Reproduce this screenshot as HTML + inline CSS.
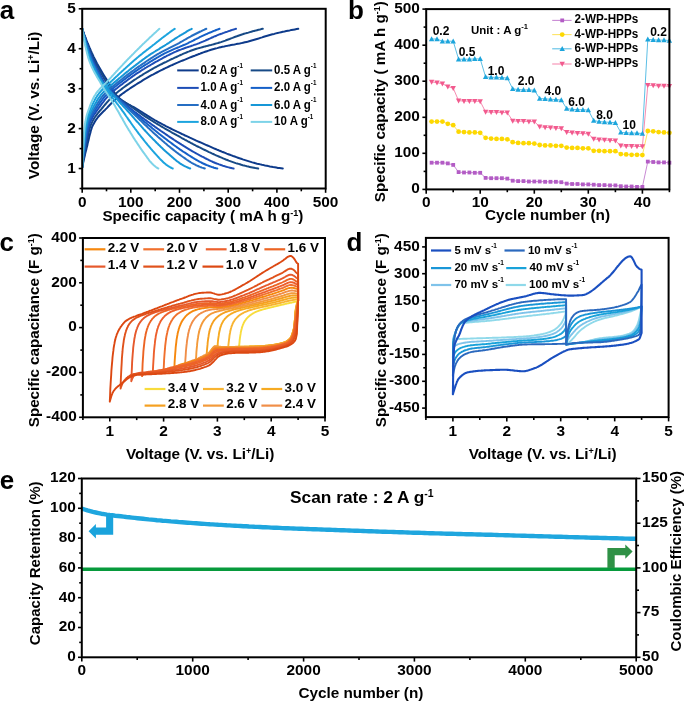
<!DOCTYPE html>
<html><head><meta charset="utf-8"><style>
html,body{margin:0;padding:0;background:#fff;}
svg{display:block;will-change:transform;}
text{font-family:"Liberation Sans",sans-serif;font-weight:bold;fill:#000;}
</style></head><body>
<svg width="685" height="702" viewBox="0 0 685 702">
<rect width="685" height="702" fill="#fff"/>
<defs>
<clipPath id="clipA"><rect x="82.15" y="8.8" width="243.5" height="179.7"/></clipPath>
<clipPath id="clipC"><rect x="82.9" y="238.0" width="242.1" height="179.3"/></clipPath>
<clipPath id="clipD"><rect x="425.9" y="237.9" width="242.7" height="179.2"/></clipPath>
<clipPath id="clipE"><rect x="81.8" y="478.5" width="554.4" height="178.8"/></clipPath>
</defs>
<g clip-path="url(#clipA)">
<path d="M82.2 167.3 82.5 165.6 82.9 163.9 83.3 162.2 83.6 160.6 84 158.9 84.4 157.3 84.8 155.7 85.1 154.1 85.5 152.5 85.9 151 86.3 149.5 86.6 148 87 146.5 87.4 144.9 87.7 143.3 88.1 141.8 88.5 140.2 88.9 138.6 89.2 137.1 89.6 135.6 90 134.1 90.4 132.7 90.7 131.3 91.1 130 91.5 128.8 91.8 127.7 92.2 126.7 92.6 125.8 93 125 94.7 121.9 96.4 119.3 98.1 117 99.9 115 101.6 113.2 103.3 111.5 105 109.9 106.8 108.1 108.5 106.3 110.2 104.5 111.9 102.8 113.7 101.1 115.4 99.5 117.1 98 118.8 96.5 120.6 95.1 122.3 93.8 124 92.6 125.8 91.3 127.5 90.1 129.2 89 130.9 87.8 132.7 86.7 134.4 85.6 136.1 84.5 137.8 83.4 139.6 82.3 141.3 81.3 143 80.2 144.7 79.2 146.5 78.2 148.2 77.2 149.9 76.2 151.6 75.2 153.4 74.3 155.1 73.4 156.8 72.5 158.5 71.6 160.3 70.7 162 69.8 163.7 69 165.4 68.2 167.2 67.3 168.9 66.5 170.6 65.7 172.3 65 174.1 64.2 175.8 63.4 177.5 62.7 179.3 61.9 181 61.2 182.7 60.5 184.4 59.8 186.2 59.1 187.9 58.4 189.6 57.7 191.3 57 193.1 56.3 194.8 55.7 196.5 55 198.2 54.3 200 53.7 201.7 53 203.4 52.4 205.1 51.8 206.9 51.2 208.6 50.6 210.3 50 212 49.5 213.8 49 215.5 48.5 217.2 48.1 218.9 47.6 220.7 47.2 222.4 46.8 224.1 46.5 225.8 46.1 227.6 45.8 229.3 45.4 231 45.1 232.8 44.8 234.5 44.5 236.2 44.1 237.9 43.8 239.7 43.5 241.4 43.1 243.1 42.7 244.8 42.3 246.6 41.9 248.3 41.5 250 41 251.7 40.5 253.5 40 255.2 39.5 256.9 39 258.6 38.5 260.4 37.9 262.1 37.4 263.8 36.8 265.5 36.3 267.3 35.8 269 35.3 270.7 34.8 272.4 34.3 274.2 33.9 275.9 33.4 277.6 33 279.3 32.6 281.1 32.2 282.8 31.8 284.5 31.5 286.3 31.1 288 30.7 289.7 30.4 291.4 30 293.2 29.7 294.9 29.4 296.6 29.1 298.3 28.8" fill="none" stroke="#0e3b8b" stroke-width="2.0" stroke-linejoin="round" stroke-linecap="round"/>
<path d="M82.2 28.8 82.5 29.7 82.8 30.6 83.2 31.6 83.5 32.5 83.9 33.4 84.2 34.3 84.6 35.3 84.9 36.2 85.3 37.1 85.6 38 86 38.8 86.3 39.7 86.6 40.6 87 41.5 87.3 42.3 87.7 43.2 88 44 88.4 44.9 88.7 45.7 89.1 46.5 89.4 47.3 89.8 48.2 90.1 49 90.5 49.8 90.8 50.6 91.1 51.3 91.5 52.1 91.8 52.9 92.2 53.6 93.8 57.1 95.4 60.3 97 63.4 98.6 66.3 100.2 69.1 101.8 71.8 103.4 74.4 105 77 106.6 79.6 108.2 82.1 109.8 84.8 111.4 87.6 113 90.3 114.6 92.9 116.2 95.1 117.8 96.8 119.4 98.2 121 99.5 122.6 100.7 124.2 101.8 125.8 102.8 127.4 103.8 129 104.7 130.6 105.5 132.2 106.4 133.8 107.2 135.4 108.1 137 109 138.6 110 140.2 111 141.8 112 143.4 113.1 145 114.1 146.6 115.1 148.2 116.1 149.8 117.1 151.4 118.1 153 119 154.6 120 156.2 120.9 157.8 121.8 159.4 122.7 161 123.5 162.6 124.4 164.2 125.2 165.8 126.1 167.4 126.9 169 127.7 170.7 128.5 172.3 129.3 173.9 130.1 175.5 130.9 177.1 131.7 178.7 132.4 180.3 133.2 181.9 134 183.5 134.7 185.1 135.5 186.7 136.2 188.3 136.9 189.9 137.7 191.5 138.4 193.1 139.1 194.7 139.8 196.3 140.6 197.9 141.3 199.5 142 201.1 142.7 202.7 143.4 204.3 144.1 205.9 144.8 207.5 145.5 209.1 146.2 210.7 146.9 212.3 147.6 213.9 148.3 215.5 149 217.1 149.7 218.7 150.3 220.3 151 221.9 151.7 223.5 152.3 225.1 152.9 226.7 153.6 228.3 154.2 229.9 154.8 231.5 155.4 233.1 156 234.7 156.5 236.3 157.1 237.9 157.7 239.5 158.3 241.1 158.8 242.7 159.4 244.3 159.9 245.9 160.4 247.5 160.9 249.1 161.4 250.7 161.9 252.3 162.4 253.9 162.8 255.5 163.3 257.1 163.7 258.7 164 260.3 164.4 261.9 164.8 263.5 165.1 265.1 165.5 266.7 165.8 268.3 166.1 269.9 166.5 271.5 166.8 273.1 167.1 274.7 167.3 276.3 167.6 277.9 167.9 279.5 168.1 281.2 168.3 282.8 168.5" fill="none" stroke="#0e3b8b" stroke-width="2.0" stroke-linejoin="round" stroke-linecap="round"/>
<path d="M82.2 167.3 82.5 165.5 82.8 163.6 83.1 161.8 83.4 160 83.7 158.2 84 156.5 84.3 154.7 84.6 153.1 85 151.4 85.3 149.8 85.6 148.2 85.9 146.6 86.2 145 86.5 143.4 86.8 141.8 87.1 140.2 87.4 138.6 87.8 137.1 88.1 135.6 88.4 134.1 88.7 132.7 89 131.4 89.3 130.1 89.6 128.9 89.9 127.8 90.2 126.7 90.6 125.7 90.9 124.9 91.2 124.1 92.6 121.1 94.1 118.5 95.5 116.3 97 114.3 98.4 112.5 99.8 110.8 101.3 109.2 102.7 107.5 104.2 105.7 105.6 104 107 102.3 108.5 100.7 109.9 99.1 111.4 97.6 112.8 96.3 114.3 94.9 115.7 93.7 117.1 92.5 118.6 91.3 120 90.2 121.5 89.1 122.9 88 124.3 87 125.8 85.9 127.2 84.9 128.7 83.9 130.1 82.9 131.6 81.9 133 80.9 134.4 79.9 135.9 79 137.3 78 138.8 77.1 140.2 76.2 141.7 75.3 143.1 74.4 144.5 73.5 146 72.6 147.4 71.8 148.9 71 150.3 70.1 151.7 69.3 153.2 68.5 154.6 67.7 156.1 67 157.5 66.2 159 65.4 160.4 64.7 161.8 64 163.3 63.2 164.7 62.5 166.2 61.8 167.6 61.1 169.1 60.4 170.5 59.7 171.9 59 173.4 58.4 174.8 57.7 176.3 57 177.7 56.3 179.1 55.7 180.6 55 182 54.4 183.5 53.7 184.9 53.1 186.4 52.5 187.8 51.9 189.2 51.4 190.7 50.8 192.1 50.3 193.6 49.8 195 49.3 196.5 48.8 197.9 48.4 199.3 48 200.8 47.6 202.2 47.2 203.7 46.8 205.1 46.4 206.5 46.1 208 45.7 209.4 45.3 210.9 45 212.3 44.6 213.8 44.2 215.2 43.8 216.6 43.4 218.1 43 219.5 42.5 221 42.1 222.4 41.6 223.9 41.1 225.3 40.6 226.7 40 228.2 39.5 229.6 39 231.1 38.4 232.5 37.9 233.9 37.3 235.4 36.8 236.8 36.3 238.3 35.7 239.7 35.2 241.2 34.7 242.6 34.3 244 33.8 245.5 33.4 246.9 33 248.4 32.6 249.8 32.1 251.3 31.7 252.7 31.3 254.1 30.9 255.6 30.6 257 30.2 258.5 29.8 259.9 29.5 261.3 29.1 262.8 28.8" fill="none" stroke="#174a86" stroke-width="2.0" stroke-linejoin="round" stroke-linecap="round"/>
<path d="M82.2 28.8 82.5 29.7 82.8 30.6 83.1 31.5 83.4 32.4 83.7 33.3 84 34.2 84.3 35.1 84.6 35.9 84.9 36.8 85.2 37.7 85.5 38.5 85.8 39.4 86.1 40.2 86.4 41.1 86.7 41.9 87 42.8 87.3 43.6 87.6 44.4 87.9 45.2 88.2 46 88.5 46.8 88.8 47.6 89.1 48.4 89.4 49.2 89.7 49.9 90 50.7 90.3 51.4 90.6 52.2 91 52.9 92.4 56.2 93.8 59.4 95.2 62.3 96.6 65.1 98 67.8 99.4 70.3 100.8 72.8 102.2 75.2 103.6 77.7 105 80.1 106.4 82.6 107.8 85.1 109.2 87.6 110.6 89.9 112 92 113.4 93.6 114.8 95 116.2 96.3 117.6 97.4 119.1 98.5 120.5 99.5 121.9 100.5 123.3 101.4 124.7 102.3 126.1 103.2 127.5 104.1 128.9 105 130.3 105.9 131.7 106.9 133.1 107.9 134.5 108.9 135.9 109.9 137.3 110.9 138.7 111.9 140.1 112.9 141.5 113.9 142.9 114.9 144.3 115.8 145.8 116.8 147.2 117.7 148.6 118.6 150 119.5 151.4 120.4 152.8 121.2 154.2 122.1 155.6 123 157 123.8 158.4 124.7 159.8 125.5 161.2 126.3 162.6 127.2 164 128 165.4 128.8 166.8 129.6 168.2 130.4 169.6 131.2 171 132 172.4 132.8 173.9 133.6 175.3 134.4 176.7 135.2 178.1 135.9 179.5 136.7 180.9 137.5 182.3 138.3 183.7 139 185.1 139.8 186.5 140.5 187.9 141.3 189.3 142 190.7 142.8 192.1 143.5 193.5 144.3 194.9 145 196.3 145.8 197.7 146.5 199.1 147.2 200.6 147.9 202 148.6 203.4 149.3 204.8 150 206.2 150.7 207.6 151.4 209 152.1 210.4 152.7 211.8 153.4 213.2 154 214.6 154.7 216 155.3 217.4 155.9 218.8 156.5 220.2 157.1 221.6 157.7 223 158.3 224.4 158.9 225.8 159.5 227.3 160 228.7 160.6 230.1 161.1 231.5 161.6 232.9 162.1 234.3 162.6 235.7 163.1 237.1 163.5 238.5 163.9 239.9 164.3 241.3 164.8 242.7 165.2 244.1 165.5 245.5 165.9 246.9 166.3 248.3 166.6 249.7 166.9 251.1 167.2 252.5 167.5 253.9 167.8 255.4 168.1 256.8 168.3 258.2 168.5" fill="none" stroke="#174a86" stroke-width="2.0" stroke-linejoin="round" stroke-linecap="round"/>
<path d="M82.2 167.3 82.4 165.3 82.7 163.3 82.9 161.3 83.2 159.4 83.5 157.5 83.7 155.6 84 153.8 84.3 152.1 84.5 150.3 84.8 148.6 85.1 146.9 85.3 145.2 85.6 143.5 85.9 141.9 86.1 140.2 86.4 138.6 86.7 137 86.9 135.5 87.2 134 87.5 132.6 87.7 131.3 88 130.1 88.3 128.9 88.5 127.8 88.8 126.7 89 125.7 89.3 124.8 89.6 123.9 89.8 123.2 91.1 120.2 92.3 117.7 93.5 115.5 94.8 113.6 96 111.9 97.2 110.2 98.4 108.5 99.7 106.8 100.9 105.1 102.1 103.4 103.4 101.8 104.6 100.2 105.8 98.7 107 97.3 108.3 96 109.5 94.8 110.7 93.6 112 92.4 113.2 91.3 114.4 90.3 115.6 89.2 116.9 88.2 118.1 87.2 119.3 86.3 120.6 85.3 121.8 84.4 123 83.4 124.2 82.5 125.5 81.6 126.7 80.7 127.9 79.8 129.1 78.9 130.4 78 131.6 77.1 132.8 76.2 134.1 75.4 135.3 74.5 136.5 73.7 137.7 72.9 139 72.1 140.2 71.3 141.4 70.5 142.7 69.7 143.9 69 145.1 68.2 146.3 67.5 147.6 66.7 148.8 66 150 65.3 151.3 64.5 152.5 63.8 153.7 63.1 154.9 62.4 156.2 61.7 157.4 61.1 158.6 60.4 159.9 59.7 161.1 59 162.3 58.4 163.5 57.7 164.8 57 166 56.4 167.2 55.7 168.5 55.1 169.7 54.5 170.9 53.9 172.1 53.3 173.4 52.7 174.6 52.1 175.8 51.6 177.1 51 178.3 50.5 179.5 50 180.7 49.6 182 49.1 183.2 48.7 184.4 48.3 185.7 47.8 186.9 47.4 188.1 47 189.3 46.6 190.6 46.2 191.8 45.8 193 45.4 194.2 44.9 195.5 44.5 196.7 44.1 197.9 43.6 199.2 43.2 200.4 42.7 201.6 42.2 202.8 41.7 204.1 41.1 205.3 40.6 206.5 40 207.8 39.5 209 38.9 210.2 38.4 211.4 37.8 212.7 37.3 213.9 36.7 215.1 36.2 216.4 35.7 217.6 35.2 218.8 34.7 220 34.2 221.3 33.8 222.5 33.3 223.7 32.9 225 32.4 226.2 32 227.4 31.6 228.6 31.1 229.9 30.7 231.1 30.3 232.3 29.9 233.6 29.5 234.8 29.1 236 28.8" fill="none" stroke="#1d4db6" stroke-width="2.0" stroke-linejoin="round" stroke-linecap="round"/>
<path d="M82.2 28.8 82.4 29.6 82.7 30.5 82.9 31.4 83.2 32.3 83.5 33.1 83.7 34 84 34.9 84.2 35.7 84.5 36.6 84.8 37.4 85 38.2 85.3 39.1 85.5 39.9 85.8 40.7 86.1 41.5 86.3 42.3 86.6 43.1 86.8 43.9 87.1 44.7 87.4 45.5 87.6 46.3 87.9 47 88.2 47.8 88.4 48.6 88.7 49.3 88.9 50 89.2 50.8 89.5 51.5 89.7 52.2 90.9 55.4 92.1 58.5 93.3 61.3 94.6 64 95.8 66.5 97 68.9 98.2 71.2 99.4 73.5 100.6 75.7 101.8 78 103 80.3 104.2 82.6 105.4 84.9 106.6 87 107.9 88.9 109.1 90.4 110.3 91.8 111.5 93 112.7 94.1 113.9 95.2 115.1 96.2 116.3 97.2 117.5 98.1 118.7 99.1 119.9 100 121.2 100.9 122.4 101.8 123.6 102.8 124.8 103.7 126 104.7 127.2 105.7 128.4 106.7 129.6 107.7 130.8 108.7 132 109.7 133.2 110.7 134.4 111.7 135.7 112.6 136.9 113.6 138.1 114.5 139.3 115.4 140.5 116.3 141.7 117.2 142.9 118.1 144.1 119 145.3 119.9 146.5 120.7 147.7 121.6 149 122.5 150.2 123.3 151.4 124.2 152.6 125.1 153.8 125.9 155 126.8 156.2 127.6 157.4 128.5 158.6 129.3 159.8 130.2 161 131 162.3 131.8 163.5 132.7 164.7 133.5 165.9 134.3 167.1 135.1 168.3 136 169.5 136.8 170.7 137.6 171.9 138.4 173.1 139.2 174.3 140 175.6 140.8 176.8 141.6 178 142.3 179.2 143.1 180.4 143.9 181.6 144.7 182.8 145.4 184 146.2 185.2 146.9 186.4 147.7 187.6 148.4 188.8 149.1 190.1 149.9 191.3 150.6 192.5 151.3 193.7 152 194.9 152.7 196.1 153.3 197.3 154 198.5 154.7 199.7 155.3 200.9 156 202.1 156.6 203.4 157.2 204.6 157.9 205.8 158.5 207 159.1 208.2 159.7 209.4 160.3 210.6 160.9 211.8 161.4 213 162 214.2 162.5 215.4 163 216.7 163.5 217.9 163.9 219.1 164.4 220.3 164.8 221.5 165.2 222.7 165.7 223.9 166 225.1 166.4 226.3 166.8 227.5 167.1 228.7 167.4 229.9 167.7 231.2 168 232.4 168.3 233.6 168.5" fill="none" stroke="#1d4db6" stroke-width="2.0" stroke-linejoin="round" stroke-linecap="round"/>
<path d="M82.2 167.3 82.4 165.1 82.6 163 82.9 160.9 83.1 158.8 83.3 156.8 83.6 154.8 83.8 152.9 84 151.1 84.3 149.2 84.5 147.4 84.8 145.6 85 143.9 85.2 142.1 85.5 140.4 85.7 138.7 85.9 137 86.2 135.4 86.4 133.9 86.6 132.5 86.9 131.2 87.1 130 87.4 128.8 87.6 127.7 87.8 126.6 88.1 125.6 88.3 124.7 88.5 123.8 88.8 123 89 122.3 90.1 119.4 91.2 116.9 92.3 114.8 93.4 112.9 94.5 111.2 95.6 109.5 96.7 107.8 97.8 106.2 98.9 104.5 100 102.8 101.1 101.3 102.2 99.8 103.3 98.3 104.4 97 105.5 95.7 106.6 94.6 107.6 93.4 108.7 92.4 109.8 91.3 110.9 90.3 112 89.4 113.1 88.4 114.2 87.5 115.3 86.6 116.4 85.7 117.5 84.8 118.6 83.9 119.7 83.1 120.8 82.2 121.9 81.4 123 80.5 124.1 79.7 125.2 78.9 126.3 78 127.4 77.2 128.5 76.4 129.6 75.6 130.7 74.8 131.8 74 132.9 73.2 134 72.4 135.1 71.7 136.1 70.9 137.2 70.2 138.3 69.4 139.4 68.7 140.5 68 141.6 67.3 142.7 66.5 143.8 65.8 144.9 65.1 146 64.4 147.1 63.8 148.2 63.1 149.3 62.4 150.4 61.7 151.5 61 152.6 60.4 153.7 59.7 154.8 59 155.9 58.4 157 57.7 158.1 57.1 159.2 56.4 160.3 55.8 161.4 55.2 162.5 54.6 163.6 54 164.6 53.4 165.7 52.9 166.8 52.3 167.9 51.8 169 51.3 170.1 50.8 171.2 50.3 172.3 49.8 173.4 49.3 174.5 48.9 175.6 48.4 176.7 48 177.8 47.5 178.9 47.1 180 46.6 181.1 46.1 182.2 45.7 183.3 45.2 184.4 44.8 185.5 44.3 186.6 43.8 187.7 43.3 188.8 42.7 189.9 42.2 191 41.7 192.1 41.1 193.1 40.6 194.2 40 195.3 39.4 196.4 38.9 197.5 38.3 198.6 37.8 199.7 37.2 200.8 36.7 201.9 36.1 203 35.6 204.1 35.1 205.2 34.6 206.3 34.1 207.4 33.7 208.5 33.2 209.6 32.7 210.7 32.3 211.8 31.8 212.9 31.3 214 30.9 215.1 30.5 216.2 30 217.3 29.6 218.4 29.2 219.5 28.8" fill="none" stroke="#1560c8" stroke-width="2.0" stroke-linejoin="round" stroke-linecap="round"/>
<path d="M82.2 28.8 82.4 29.6 82.6 30.5 82.8 31.3 83.1 32.2 83.3 33 83.5 33.8 83.8 34.7 84 35.5 84.2 36.3 84.5 37.1 84.7 37.9 84.9 38.7 85.2 39.5 85.4 40.3 85.6 41.1 85.9 41.9 86.1 42.7 86.3 43.4 86.6 44.2 86.8 45 87 45.7 87.3 46.5 87.5 47.2 87.7 47.9 88 48.7 88.2 49.4 88.4 50.1 88.7 50.8 88.9 51.5 90 54.6 91.1 57.5 92.1 60.3 93.2 62.8 94.3 65.2 95.4 67.4 96.5 69.6 97.5 71.7 98.6 73.8 99.7 75.9 100.8 78 101.8 80.1 102.9 82.2 104 84.1 105.1 85.8 106.2 87.3 107.2 88.5 108.3 89.7 109.4 90.9 110.5 91.9 111.6 92.9 112.6 93.9 113.7 94.9 114.8 95.8 115.9 96.8 117 97.7 118 98.7 119.1 99.6 120.2 100.6 121.3 101.6 122.3 102.6 123.4 103.6 124.5 104.6 125.6 105.6 126.7 106.5 127.7 107.5 128.8 108.5 129.9 109.4 131 110.4 132.1 111.3 133.1 112.2 134.2 113.1 135.3 114 136.4 114.9 137.4 115.8 138.5 116.7 139.6 117.6 140.7 118.5 141.8 119.5 142.8 120.4 143.9 121.3 145 122.2 146.1 123.1 147.2 124 148.2 124.9 149.3 125.7 150.4 126.6 151.5 127.5 152.5 128.4 153.6 129.3 154.7 130.2 155.8 131.1 156.9 131.9 157.9 132.8 159 133.7 160.1 134.5 161.2 135.4 162.3 136.2 163.3 137.1 164.4 137.9 165.5 138.7 166.6 139.6 167.6 140.4 168.7 141.2 169.8 142 170.9 142.8 172 143.6 173 144.4 174.1 145.2 175.2 146 176.3 146.8 177.4 147.6 178.4 148.3 179.5 149.1 180.6 149.8 181.7 150.6 182.7 151.3 183.8 152 184.9 152.7 186 153.4 187.1 154.1 188.1 154.8 189.2 155.5 190.3 156.2 191.4 156.9 192.5 157.5 193.5 158.2 194.6 158.8 195.7 159.5 196.8 160.1 197.8 160.7 198.9 161.3 200 161.9 201.1 162.4 202.2 163 203.2 163.5 204.3 164 205.4 164.5 206.5 165 207.6 165.4 208.6 165.8 209.7 166.2 210.8 166.6 211.9 167 213 167.3 214 167.7 215.1 168 216.2 168.3 217.3 168.5" fill="none" stroke="#1560c8" stroke-width="2.0" stroke-linejoin="round" stroke-linecap="round"/>
<path d="M82.2 167.3 82.4 165 82.6 162.7 82.8 160.4 83 158.2 83.2 156.1 83.4 154 83.6 152 83.9 150.1 84.1 148.1 84.3 146.2 84.5 144.3 84.7 142.5 84.9 140.6 85.1 138.8 85.4 137.1 85.6 135.4 85.8 133.8 86 132.3 86.2 130.9 86.4 129.7 86.6 128.6 86.9 127.5 87.1 126.5 87.3 125.5 87.5 124.5 87.7 123.6 87.9 122.8 88.1 122.1 88.4 121.4 89.3 118.6 90.3 116.2 91.3 114.1 92.3 112.3 93.3 110.5 94.3 108.8 95.3 107.2 96.3 105.5 97.3 103.9 98.3 102.3 99.3 100.8 100.3 99.3 101.2 97.9 102.2 96.7 103.2 95.5 104.2 94.4 105.2 93.3 106.2 92.3 107.2 91.3 108.2 90.4 109.2 89.5 110.2 88.6 111.2 87.8 112.1 86.9 113.1 86.1 114.1 85.3 115.1 84.5 116.1 83.7 117.1 82.9 118.1 82.1 119.1 81.3 120.1 80.5 121.1 79.8 122.1 79 123 78.2 124 77.4 125 76.6 126 75.9 127 75.1 128 74.3 129 73.6 130 72.9 131 72.1 132 71.4 133 70.7 134 70 134.9 69.2 135.9 68.5 136.9 67.8 137.9 67.1 138.9 66.4 139.9 65.8 140.9 65.1 141.9 64.4 142.9 63.7 143.9 63.1 144.9 62.4 145.8 61.7 146.8 61 147.8 60.4 148.8 59.7 149.8 59.1 150.8 58.4 151.8 57.8 152.8 57.2 153.8 56.5 154.8 55.9 155.8 55.3 156.8 54.7 157.7 54.1 158.7 53.6 159.7 53 160.7 52.5 161.7 51.9 162.7 51.4 163.7 50.9 164.7 50.4 165.7 49.9 166.7 49.4 167.7 48.9 168.6 48.4 169.6 47.9 170.6 47.4 171.6 46.9 172.6 46.4 173.6 45.9 174.6 45.4 175.6 44.9 176.6 44.4 177.6 43.9 178.6 43.3 179.5 42.8 180.5 42.2 181.5 41.6 182.5 41.1 183.5 40.5 184.5 39.9 185.5 39.4 186.5 38.8 187.5 38.2 188.5 37.7 189.5 37.1 190.5 36.6 191.4 36 192.4 35.5 193.4 35 194.4 34.5 195.4 34 196.4 33.5 197.4 33 198.4 32.5 199.4 32 200.4 31.5 201.4 31.1 202.3 30.6 203.3 30.1 204.3 29.7 205.3 29.2 206.3 28.8" fill="none" stroke="#256ec3" stroke-width="2.0" stroke-linejoin="round" stroke-linecap="round"/>
<path d="M82.2 28.8 82.4 29.6 82.6 30.4 82.8 31.2 83 32 83.2 32.8 83.4 33.7 83.6 34.5 83.8 35.3 84.1 36 84.3 36.8 84.5 37.6 84.7 38.4 84.9 39.2 85.1 39.9 85.3 40.7 85.5 41.5 85.7 42.2 86 43 86.2 43.7 86.4 44.5 86.6 45.2 86.8 45.9 87 46.6 87.2 47.3 87.4 48 87.7 48.7 87.9 49.4 88.1 50.1 88.3 50.8 89.3 53.8 90.2 56.6 91.2 59.2 92.2 61.7 93.2 63.9 94.2 66 95.1 68 96.1 70 97.1 71.9 98.1 73.8 99.1 75.7 100 77.6 101 79.4 102 81.2 103 82.7 104 84.1 104.9 85.3 105.9 86.5 106.9 87.6 107.9 88.6 108.9 89.6 109.8 90.6 110.8 91.6 111.8 92.6 112.8 93.6 113.8 94.5 114.7 95.5 115.7 96.5 116.7 97.5 117.7 98.5 118.7 99.5 119.6 100.4 120.6 101.4 121.6 102.4 122.6 103.4 123.5 104.3 124.5 105.3 125.5 106.2 126.5 107.2 127.5 108.1 128.4 109 129.4 109.9 130.4 110.9 131.4 111.8 132.4 112.7 133.3 113.6 134.3 114.6 135.3 115.5 136.3 116.4 137.3 117.4 138.2 118.3 139.2 119.2 140.2 120.2 141.2 121.1 142.2 122.1 143.1 123 144.1 124 145.1 124.9 146.1 125.8 147.1 126.8 148 127.7 149 128.6 150 129.5 151 130.4 152 131.4 152.9 132.3 153.9 133.2 154.9 134.1 155.9 134.9 156.9 135.8 157.8 136.7 158.8 137.6 159.8 138.4 160.8 139.3 161.7 140.1 162.7 141 163.7 141.8 164.7 142.7 165.7 143.5 166.6 144.3 167.6 145.2 168.6 146 169.6 146.8 170.6 147.6 171.5 148.4 172.5 149.1 173.5 149.9 174.5 150.7 175.5 151.4 176.4 152.2 177.4 152.9 178.4 153.7 179.4 154.4 180.4 155.1 181.3 155.8 182.3 156.5 183.3 157.2 184.3 157.9 185.3 158.6 186.2 159.3 187.2 160 188.2 160.6 189.2 161.3 190.2 161.9 191.1 162.5 192.1 163.1 193.1 163.6 194.1 164.2 195.1 164.7 196 165.2 197 165.6 198 166 199 166.5 200 166.9 200.9 167.2 201.9 167.6 202.9 167.9 203.9 168.2 204.8 168.5" fill="none" stroke="#256ec3" stroke-width="2.0" stroke-linejoin="round" stroke-linecap="round"/>
<path d="M82.2 167.3 82.3 164.8 82.5 162.4 82.7 160 82.9 157.6 83.1 155.3 83.3 153.2 83.5 151.1 83.7 149.1 83.8 147.1 84 145 84.2 143.1 84.4 141.1 84.6 139.2 84.8 137.3 85 135.5 85.2 133.8 85.4 132.2 85.5 130.7 85.7 129.4 85.9 128.2 86.1 127.2 86.3 126.2 86.5 125.2 86.7 124.3 86.9 123.5 87.1 122.6 87.2 121.9 87.4 121.1 87.6 120.5 88.5 117.7 89.4 115.4 90.3 113.4 91.1 111.6 92 109.9 92.9 108.2 93.7 106.5 94.6 104.9 95.5 103.2 96.4 101.7 97.2 100.2 98.1 98.9 99 97.6 99.9 96.3 100.7 95.2 101.6 94.2 102.5 93.2 103.4 92.2 104.2 91.3 105.1 90.4 106 89.6 106.9 88.8 107.7 88 108.6 87.2 109.5 86.5 110.4 85.7 111.2 85 112.1 84.3 113 83.6 113.9 82.8 114.7 82.1 115.6 81.4 116.5 80.6 117.4 79.9 118.2 79.1 119.1 78.4 120 77.7 120.9 76.9 121.7 76.2 122.6 75.5 123.5 74.8 124.4 74 125.2 73.3 126.1 72.6 127 71.9 127.9 71.2 128.7 70.5 129.6 69.8 130.5 69.1 131.4 68.4 132.2 67.8 133.1 67.1 134 66.4 134.9 65.7 135.7 65.1 136.6 64.4 137.5 63.7 138.4 63.1 139.2 62.4 140.1 61.7 141 61.1 141.9 60.4 142.7 59.8 143.6 59.1 144.5 58.5 145.3 57.9 146.2 57.2 147.1 56.6 148 56 148.8 55.4 149.7 54.8 150.6 54.2 151.5 53.7 152.3 53.1 153.2 52.6 154.1 52 155 51.5 155.8 50.9 156.7 50.4 157.6 49.8 158.5 49.3 159.3 48.8 160.2 48.2 161.1 47.7 162 47.2 162.8 46.6 163.7 46.1 164.6 45.6 165.5 45 166.3 44.5 167.2 43.9 168.1 43.3 169 42.8 169.8 42.2 170.7 41.6 171.6 41 172.5 40.4 173.3 39.9 174.2 39.3 175.1 38.7 176 38.1 176.8 37.6 177.7 37 178.6 36.5 179.5 35.9 180.3 35.4 181.2 34.9 182.1 34.3 183 33.8 183.8 33.3 184.7 32.8 185.6 32.3 186.5 31.7 187.3 31.2 188.2 30.7 189.1 30.2 190 29.7 190.8 29.3 191.7 28.8" fill="none" stroke="#1697d7" stroke-width="2.0" stroke-linejoin="round" stroke-linecap="round"/>
<path d="M82.2 28.8 82.3 29.6 82.5 30.3 82.7 31.1 82.9 31.9 83.1 32.7 83.3 33.5 83.5 34.3 83.6 35 83.8 35.8 84 36.6 84.2 37.3 84.4 38.1 84.6 38.8 84.8 39.6 84.9 40.3 85.1 41 85.3 41.8 85.5 42.5 85.7 43.2 85.9 43.9 86.1 44.6 86.3 45.3 86.4 46 86.6 46.7 86.8 47.4 87 48.1 87.2 48.8 87.4 49.4 87.6 50.1 88.4 53 89.3 55.7 90.1 58.2 91 60.5 91.9 62.6 92.7 64.5 93.6 66.4 94.5 68.2 95.3 70 96.2 71.7 97 73.4 97.9 75.1 98.8 76.7 99.6 78.2 100.5 79.7 101.4 80.9 102.2 82.1 103.1 83.2 104 84.3 104.8 85.3 105.7 86.3 106.5 87.3 107.4 88.3 108.3 89.4 109.1 90.4 110 91.4 110.9 92.4 111.7 93.3 112.6 94.3 113.4 95.3 114.3 96.3 115.2 97.3 116 98.3 116.9 99.2 117.8 100.2 118.6 101.1 119.5 102.1 120.3 103 121.2 104 122.1 104.9 122.9 105.8 123.8 106.8 124.7 107.7 125.5 108.6 126.4 109.6 127.2 110.5 128.1 111.5 129 112.4 129.8 113.4 130.7 114.4 131.6 115.4 132.4 116.3 133.3 117.3 134.2 118.3 135 119.3 135.9 120.3 136.7 121.3 137.6 122.2 138.5 123.2 139.3 124.2 140.2 125.2 141.1 126.2 141.9 127.1 142.8 128.1 143.6 129.1 144.5 130 145.4 131 146.2 131.9 147.1 132.8 148 133.8 148.8 134.7 149.7 135.6 150.5 136.5 151.4 137.4 152.3 138.3 153.1 139.2 154 140 154.9 140.9 155.7 141.8 156.6 142.7 157.5 143.5 158.3 144.4 159.2 145.2 160 146.1 160.9 146.9 161.8 147.7 162.6 148.6 163.5 149.4 164.4 150.2 165.2 151 166.1 151.7 166.9 152.5 167.8 153.3 168.7 154.1 169.5 154.8 170.4 155.6 171.3 156.3 172.1 157.1 173 157.8 173.8 158.6 174.7 159.3 175.6 160 176.4 160.7 177.3 161.4 178.2 162 179 162.6 179.9 163.3 180.7 163.8 181.6 164.4 182.5 164.9 183.3 165.4 184.2 165.9 185.1 166.3 185.9 166.7 186.8 167.1 187.7 167.5 188.5 167.9 189.4 168.2 190.2 168.5" fill="none" stroke="#1697d7" stroke-width="2.0" stroke-linejoin="round" stroke-linecap="round"/>
<path d="M82.2 167.3 82.3 164.7 82.5 162.1 82.6 159.5 82.8 157 82.9 154.6 83.1 152.3 83.3 150.2 83.4 148.1 83.6 146 83.7 143.9 83.9 141.8 84.1 139.7 84.2 137.7 84.4 135.8 84.5 134 84.7 132.2 84.9 130.6 85 129.2 85.2 127.9 85.3 126.7 85.5 125.8 85.7 124.9 85.8 124 86 123.2 86.1 122.4 86.3 121.6 86.5 120.9 86.6 120.2 86.8 119.6 87.5 116.9 88.3 114.6 89 112.7 89.7 110.9 90.5 109.2 91.2 107.5 91.9 105.8 92.7 104.2 93.4 102.6 94.2 101.1 94.9 99.7 95.6 98.4 96.4 97.2 97.1 96 97.9 94.9 98.6 94 99.3 93 100.1 92.2 100.8 91.3 101.5 90.5 102.3 89.7 103 89 103.8 88.3 104.5 87.6 105.2 86.9 106 86.2 106.7 85.5 107.5 84.9 108.2 84.2 108.9 83.6 109.7 82.9 110.4 82.2 111.1 81.5 111.9 80.8 112.6 80.1 113.4 79.4 114.1 78.7 114.8 78 115.6 77.3 116.3 76.6 117.1 75.9 117.8 75.2 118.5 74.5 119.3 73.8 120 73.1 120.7 72.5 121.5 71.8 122.2 71.1 123 70.4 123.7 69.7 124.4 69.1 125.2 68.4 125.9 67.7 126.7 67.1 127.4 66.4 128.1 65.7 128.9 65.1 129.6 64.4 130.3 63.7 131.1 63.1 131.8 62.4 132.6 61.8 133.3 61.1 134 60.5 134.8 59.8 135.5 59.2 136.3 58.6 137 57.9 137.7 57.3 138.5 56.7 139.2 56.1 139.9 55.5 140.7 54.9 141.4 54.3 142.2 53.7 142.9 53.1 143.6 52.5 144.4 51.9 145.1 51.4 145.9 50.8 146.6 50.2 147.3 49.6 148.1 49.1 148.8 48.5 149.6 47.9 150.3 47.4 151 46.8 151.8 46.2 152.5 45.6 153.2 45 154 44.5 154.7 43.9 155.5 43.3 156.2 42.7 156.9 42.1 157.7 41.5 158.4 40.9 159.2 40.4 159.9 39.8 160.6 39.2 161.4 38.6 162.1 38 162.8 37.5 163.6 36.9 164.3 36.3 165.1 35.8 165.8 35.2 166.5 34.7 167.3 34.1 168 33.6 168.8 33 169.5 32.5 170.2 31.9 171 31.4 171.7 30.9 172.4 30.3 173.2 29.8 173.9 29.3 174.7 28.8" fill="none" stroke="#1ca4de" stroke-width="2.0" stroke-linejoin="round" stroke-linecap="round"/>
<path d="M82.2 28.8 82.3 29.5 82.5 30.3 82.6 31 82.8 31.8 82.9 32.6 83.1 33.3 83.2 34.1 83.4 34.8 83.6 35.5 83.7 36.3 83.9 37 84 37.7 84.2 38.5 84.3 39.2 84.5 39.9 84.6 40.6 84.8 41.3 85 42 85.1 42.7 85.3 43.4 85.4 44.1 85.6 44.8 85.7 45.5 85.9 46.1 86.1 46.8 86.2 47.4 86.4 48.1 86.5 48.7 86.7 49.3 87.4 52.2 88.1 54.8 88.8 57.2 89.6 59.3 90.3 61.3 91 63.1 91.7 64.8 92.5 66.5 93.2 68.1 93.9 69.6 94.6 71.1 95.4 72.6 96.1 74 96.8 75.3 97.5 76.6 98.2 77.8 99 78.9 99.7 79.9 100.4 81 101.1 82 101.9 83 102.6 84.1 103.3 85.1 104 86.1 104.8 87.2 105.5 88.2 106.2 89.2 106.9 90.2 107.6 91.2 108.4 92.2 109.1 93.2 109.8 94.1 110.5 95.1 111.3 96.1 112 97 112.7 97.9 113.4 98.9 114.2 99.8 114.9 100.8 115.6 101.7 116.3 102.6 117 103.6 117.8 104.5 118.5 105.5 119.2 106.4 119.9 107.4 120.7 108.4 121.4 109.4 122.1 110.4 122.8 111.4 123.6 112.4 124.3 113.4 125 114.4 125.7 115.5 126.4 116.5 127.2 117.5 127.9 118.6 128.6 119.6 129.3 120.6 130.1 121.7 130.8 122.7 131.5 123.7 132.2 124.7 132.9 125.7 133.7 126.8 134.4 127.8 135.1 128.8 135.8 129.7 136.6 130.7 137.3 131.7 138 132.6 138.7 133.6 139.5 134.5 140.2 135.5 140.9 136.4 141.6 137.3 142.3 138.2 143.1 139.2 143.8 140.1 144.5 141 145.2 141.9 146 142.8 146.7 143.7 147.4 144.6 148.1 145.4 148.9 146.3 149.6 147.2 150.3 148 151 148.9 151.7 149.7 152.5 150.6 153.2 151.4 153.9 152.2 154.6 153 155.4 153.8 156.1 154.6 156.8 155.4 157.5 156.2 158.3 157 159 157.8 159.7 158.6 160.4 159.3 161.1 160.1 161.9 160.8 162.6 161.5 163.3 162.2 164 162.9 164.8 163.5 165.5 164.1 166.2 164.7 166.9 165.2 167.7 165.7 168.4 166.2 169.1 166.6 169.8 167 170.5 167.5 171.3 167.8 172 168.2 172.7 168.5" fill="none" stroke="#1ca4de" stroke-width="2.0" stroke-linejoin="round" stroke-linecap="round"/>
<path d="M82.2 167.3 82.3 164.5 82.4 161.8 82.5 159.1 82.7 156.4 82.8 153.9 82.9 151.5 83.1 149.2 83.2 147.1 83.3 144.9 83.5 142.7 83.6 140.5 83.7 138.4 83.9 136.3 84 134.3 84.1 132.4 84.3 130.6 84.4 129 84.5 127.6 84.7 126.3 84.8 125.3 84.9 124.4 85.1 123.6 85.2 122.8 85.3 122 85.5 121.3 85.6 120.6 85.7 119.9 85.9 119.3 86 118.6 86.6 116 87.2 113.8 87.9 111.9 88.5 110.2 89.1 108.5 89.7 106.8 90.3 105.1 90.9 103.5 91.6 102 92.2 100.6 92.8 99.2 93.4 97.9 94 96.8 94.6 95.7 95.3 94.7 95.9 93.8 96.5 92.9 97.1 92.1 97.7 91.3 98.3 90.6 99 89.9 99.6 89.2 100.2 88.5 100.8 87.9 101.4 87.3 102 86.7 102.7 86.1 103.3 85.5 103.9 84.9 104.5 84.3 105.1 83.7 105.7 83.1 106.4 82.4 107 81.8 107.6 81.1 108.2 80.4 108.8 79.7 109.4 79.1 110.1 78.4 110.7 77.7 111.3 77.1 111.9 76.4 112.5 75.7 113.1 75.1 113.8 74.4 114.4 73.7 115 73 115.6 72.4 116.2 71.7 116.8 71 117.5 70.4 118.1 69.7 118.7 69 119.3 68.4 119.9 67.7 120.5 67.1 121.2 66.4 121.8 65.7 122.4 65.1 123 64.4 123.6 63.8 124.2 63.1 124.8 62.5 125.5 61.8 126.1 61.2 126.7 60.5 127.3 59.9 127.9 59.3 128.5 58.6 129.2 58 129.8 57.3 130.4 56.7 131 56.1 131.6 55.5 132.2 54.8 132.9 54.2 133.5 53.6 134.1 53 134.7 52.4 135.3 51.7 135.9 51.1 136.6 50.5 137.2 49.9 137.8 49.3 138.4 48.7 139 48.1 139.6 47.5 140.3 46.8 140.9 46.2 141.5 45.6 142.1 45 142.7 44.4 143.3 43.8 144 43.2 144.6 42.6 145.2 42 145.8 41.5 146.4 40.9 147 40.3 147.7 39.7 148.3 39.1 148.9 38.5 149.5 37.9 150.1 37.3 150.7 36.8 151.4 36.2 152 35.6 152.6 35 153.2 34.4 153.8 33.9 154.4 33.3 155.1 32.7 155.7 32.2 156.3 31.6 156.9 31 157.5 30.5 158.1 29.9 158.8 29.3 159.4 28.8" fill="none" stroke="#7dd3e8" stroke-width="2.0" stroke-linejoin="round" stroke-linecap="round"/>
<path d="M82.2 28.8 82.3 29.5 82.4 30.2 82.5 31 82.7 31.7 82.8 32.4 82.9 33.1 83.1 33.8 83.2 34.6 83.3 35.3 83.5 36 83.6 36.7 83.7 37.4 83.9 38.1 84 38.8 84.1 39.5 84.3 40.2 84.4 40.9 84.5 41.6 84.6 42.2 84.8 42.9 84.9 43.6 85 44.2 85.2 44.9 85.3 45.5 85.4 46.2 85.6 46.8 85.7 47.4 85.8 48 86 48.6 86.6 51.3 87.2 53.8 87.8 56.1 88.4 58.2 89 60 89.6 61.6 90.2 63.2 90.8 64.7 91.4 66.2 92 67.5 92.7 68.8 93.3 70.1 93.9 71.3 94.5 72.4 95.1 73.5 95.7 74.6 96.3 75.6 96.9 76.7 97.5 77.7 98.1 78.7 98.7 79.7 99.3 80.8 100 81.8 100.6 82.9 101.2 84 101.8 85 102.4 86.1 103 87.1 103.6 88.1 104.2 89.1 104.8 90 105.4 91 106 91.9 106.6 92.9 107.3 93.8 107.9 94.8 108.5 95.7 109.1 96.6 109.7 97.6 110.3 98.5 110.9 99.4 111.5 100.4 112.1 101.3 112.7 102.3 113.3 103.3 113.9 104.3 114.6 105.3 115.2 106.3 115.8 107.4 116.4 108.4 117 109.5 117.6 110.5 118.2 111.6 118.8 112.6 119.4 113.7 120 114.8 120.6 115.9 121.2 117 121.9 118 122.5 119.1 123.1 120.2 123.7 121.3 124.3 122.3 124.9 123.4 125.5 124.5 126.1 125.5 126.7 126.5 127.3 127.6 127.9 128.6 128.5 129.6 129.2 130.6 129.8 131.6 130.4 132.6 131 133.5 131.6 134.5 132.2 135.5 132.8 136.4 133.4 137.4 134 138.4 134.6 139.3 135.2 140.3 135.8 141.2 136.5 142.1 137.1 143.1 137.7 144 138.3 144.9 138.9 145.8 139.5 146.7 140.1 147.6 140.7 148.5 141.3 149.4 141.9 150.2 142.5 151.1 143.1 152 143.8 152.8 144.4 153.6 145 154.5 145.6 155.3 146.2 156.2 146.8 157 147.4 157.9 148 158.7 148.6 159.5 149.2 160.3 149.8 161.1 150.4 161.8 151.1 162.5 151.7 163.2 152.3 163.8 152.9 164.4 153.5 165 154.1 165.5 154.7 166 155.3 166.5 155.9 167 156.5 167.4 157.1 167.8 157.7 168.2 158.3 168.5" fill="none" stroke="#7dd3e8" stroke-width="2.0" stroke-linejoin="round" stroke-linecap="round"/>
</g>
<rect x="82.2" y="8.8" width="243.5" height="179.7" fill="none" stroke="#000" stroke-width="2"/>
<path d="M82.2 188.5L82.2 192.8" stroke="#000" stroke-width="1.6"/>
<path d="M106.5 188.5L106.5 191.3" stroke="#000" stroke-width="1.6"/>
<path d="M130.8 188.5L130.8 192.8" stroke="#000" stroke-width="1.6"/>
<path d="M155.2 188.5L155.2 191.3" stroke="#000" stroke-width="1.6"/>
<path d="M179.5 188.5L179.5 192.8" stroke="#000" stroke-width="1.6"/>
<path d="M203.9 188.5L203.9 191.3" stroke="#000" stroke-width="1.6"/>
<path d="M228.2 188.5L228.2 192.8" stroke="#000" stroke-width="1.6"/>
<path d="M252.6 188.5L252.6 191.3" stroke="#000" stroke-width="1.6"/>
<path d="M276.9 188.5L276.9 192.8" stroke="#000" stroke-width="1.6"/>
<path d="M301.3 188.5L301.3 191.3" stroke="#000" stroke-width="1.6"/>
<path d="M325.6 188.5L325.6 192.8" stroke="#000" stroke-width="1.6"/>
<path d="M79.6 188.5L82.2 188.5" stroke="#000" stroke-width="1.6"/>
<path d="M78.7 168.5L82.2 168.5" stroke="#000" stroke-width="1.6"/>
<path d="M79.6 148.6L82.2 148.6" stroke="#000" stroke-width="1.6"/>
<path d="M78.7 128.6L82.2 128.6" stroke="#000" stroke-width="1.6"/>
<path d="M79.6 108.6L82.2 108.6" stroke="#000" stroke-width="1.6"/>
<path d="M78.7 88.7L82.2 88.7" stroke="#000" stroke-width="1.6"/>
<path d="M79.6 68.7L82.2 68.7" stroke="#000" stroke-width="1.6"/>
<path d="M78.7 48.7L82.2 48.7" stroke="#000" stroke-width="1.6"/>
<path d="M79.6 28.8L82.2 28.8" stroke="#000" stroke-width="1.6"/>
<path d="M78.7 8.8L82.2 8.8" stroke="#000" stroke-width="1.6"/>
<text x="82.2" y="206.5" font-size="15.4" text-anchor="middle">0</text>
<text x="130.8" y="206.5" font-size="15.4" text-anchor="middle">100</text>
<text x="179.5" y="206.5" font-size="15.4" text-anchor="middle">200</text>
<text x="228.2" y="206.5" font-size="15.4" text-anchor="middle">300</text>
<text x="276.9" y="206.5" font-size="15.4" text-anchor="middle">400</text>
<text x="325.6" y="206.5" font-size="15.4" text-anchor="middle">500</text>
<text x="75.9" y="172.5" font-size="15.4" text-anchor="end">1</text>
<text x="75.9" y="132.6" font-size="15.4" text-anchor="end">2</text>
<text x="75.9" y="92.7" font-size="15.4" text-anchor="end">3</text>
<text x="75.9" y="52.7" font-size="15.4" text-anchor="end">4</text>
<text x="75.9" y="12.8" font-size="15.4" text-anchor="end">5</text>
<path d="M177.2 70.4L198.7 70.4" stroke="#0e3b8b" stroke-width="2"/>
<text x="200.6" y="73.9" font-size="12.5" text-anchor="start" textLength="42.3" lengthAdjust="spacingAndGlyphs">0.2 A g<tspan dy="-6.3" font-size="6.8">-1</tspan></text>
<path d="M250.7 70.4L272.2 70.4" stroke="#174a86" stroke-width="2"/>
<text x="274.1" y="73.9" font-size="12.5" text-anchor="start" textLength="42.3" lengthAdjust="spacingAndGlyphs">0.5 A g<tspan dy="-6.3" font-size="6.8">-1</tspan></text>
<path d="M177.2 87.9L198.7 87.9" stroke="#1d4db6" stroke-width="2"/>
<text x="200.6" y="91.4" font-size="12.5" text-anchor="start" textLength="42.3" lengthAdjust="spacingAndGlyphs">1.0 A g<tspan dy="-6.3" font-size="6.8">-1</tspan></text>
<path d="M250.7 87.9L272.2 87.9" stroke="#1560c8" stroke-width="2"/>
<text x="274.1" y="91.4" font-size="12.5" text-anchor="start" textLength="42.3" lengthAdjust="spacingAndGlyphs">2.0 A g<tspan dy="-6.3" font-size="6.8">-1</tspan></text>
<path d="M177.2 105L198.7 105" stroke="#256ec3" stroke-width="2"/>
<text x="200.6" y="108.5" font-size="12.5" text-anchor="start" textLength="42.3" lengthAdjust="spacingAndGlyphs">4.0 A g<tspan dy="-6.3" font-size="6.8">-1</tspan></text>
<path d="M250.7 105L272.2 105" stroke="#1697d7" stroke-width="2"/>
<text x="274.1" y="108.5" font-size="12.5" text-anchor="start" textLength="42.3" lengthAdjust="spacingAndGlyphs">6.0 A g<tspan dy="-6.3" font-size="6.8">-1</tspan></text>
<path d="M177.2 121.9L198.7 121.9" stroke="#1ca4de" stroke-width="2"/>
<text x="200.6" y="125.4" font-size="12.5" text-anchor="start" textLength="42.3" lengthAdjust="spacingAndGlyphs">8.0 A g<tspan dy="-6.3" font-size="6.8">-1</tspan></text>
<path d="M250.7 121.9L272.2 121.9" stroke="#7dd3e8" stroke-width="2"/>
<text x="274.1" y="125.4" font-size="12.5" text-anchor="start" textLength="39.2" lengthAdjust="spacingAndGlyphs">10 A g<tspan dy="-6.3" font-size="6.8">-1</tspan></text>
<text x="202.9" y="220.6" font-size="15" text-anchor="middle" textLength="201" lengthAdjust="spacingAndGlyphs">Specific capacity ( mA h g<tspan dy="-4.8" font-size="9">-1</tspan><tspan dy="4.8">)</tspan></text>
<text transform="translate(39.2,105.4) rotate(-90)" font-size="15.3" text-anchor="middle" textLength="147.5" lengthAdjust="spacingAndGlyphs">Voltage (V. vs. Li<tspan dy="-4.8" font-size="9">+</tspan><tspan dy="4.8">/Li)</tspan></text>
<text x="-0.3" y="19.2" font-size="26" text-anchor="start">a</text>
<path d="M431.6 162.7 437 162.7 442.4 162.7 447.8 163.4 453.2 164.9 458.6 172.1 464 172.5 469.4 172.5 474.8 172.8 480.2 172.8 485.6 177.9 491.1 178.2 496.5 178.2 501.9 178.2 507.3 178.6 512.7 180.7 518.1 181.1 523.5 181.1 528.9 181.5 534.3 181.5 539.7 181.5 545.1 181.8 550.5 181.8 555.9 181.8 561.3 182.2 566.7 183.6 572.1 184 577.5 184 582.9 184.4 588.3 184.4 593.7 184.7 599.1 185.1 604.5 185.1 610 185.4 615.4 185.4 620.8 186.2 626.2 186.5 631.6 186.5 637 186.9 642.4 186.9 647.8 161.6 653.2 162 658.6 162.4 664 162.4 669.4 162.7" fill="none" stroke="#c98ad4" stroke-width="1.0" stroke-linejoin="round" stroke-linecap="round"/>
<path d="M431.6 121.6 437 121.6 442.4 121.6 447.8 123.8 453.2 125.2 458.6 131.7 464 132.1 469.4 132.4 474.8 132.4 480.2 132.8 485.6 137.8 491.1 138.6 496.5 138.9 501.9 138.9 507.3 139.3 512.7 142.2 518.1 142.9 523.5 143.2 528.9 143.2 534.3 143.6 539.7 145 545.1 145.4 550.5 145.4 555.9 145.8 561.3 145.8 566.7 147.6 572.1 147.9 577.5 147.9 582.9 148.3 588.3 148.3 593.7 150.8 599.1 150.8 604.5 151.2 610 151.2 615.4 151.2 620.8 154.1 626.2 154.4 631.6 154.8 637 154.8 642.4 155.1 647.8 131 653.2 131.3 658.6 132.1 664 132.4 669.4 132.8" fill="none" stroke="#fde466" stroke-width="1.0" stroke-linejoin="round" stroke-linecap="round"/>
<path d="M431.6 39 437 39 442.4 41.2 447.8 41.2 453.2 41.2 458.6 59.2 464 59.2 469.4 59.2 474.8 58.9 480.2 58.9 485.6 76.9 491.1 77.3 496.5 77.3 501.9 77.6 507.3 78 512.7 88.8 518.1 89.5 523.5 89.9 528.9 89.9 534.3 90.2 539.7 98.5 545.1 98.9 550.5 99.2 555.9 99.6 561.3 100 566.7 108.6 572.1 109.3 577.5 109.7 582.9 109.7 588.3 110.1 593.7 120.5 599.1 121.6 604.5 122 610 122.3 615.4 122.7 620.8 132.4 626.2 132.8 631.6 133.1 637 133.1 642.4 133.5 647.8 39.4 653.2 39.8 658.6 40.1 664 40.1 669.4 40.5" fill="none" stroke="#5cbfe6" stroke-width="1.0" stroke-linejoin="round" stroke-linecap="round"/>
<path d="M431.6 81.9 437 82.7 442.4 83.7 447.8 86.6 453.2 88.1 458.6 100.7 464 101.1 469.4 101.1 474.8 101.1 480.2 101.4 485.6 111.9 491.1 112.2 496.5 112.2 501.9 112.6 507.3 112.6 512.7 120.9 518.1 121.2 523.5 121.2 528.9 121.6 534.3 121.6 539.7 126.7 545.1 127.4 550.5 127.7 555.9 128.1 561.3 128.5 566.7 132.1 572.1 132.8 577.5 133.1 582.9 133.5 588.3 133.9 593.7 138.9 599.1 139.6 604.5 140 610 140.4 615.4 140.7 620.8 145.8 626.2 146.1 631.6 146.1 637 146.5 642.4 146.5 647.8 85.2 653.2 85.5 658.6 85.9 664 85.9 669.4 86.3" fill="none" stroke="#f68cb1" stroke-width="1.0" stroke-linejoin="round" stroke-linecap="round"/>
<rect x="429.7" y="160.8" width="3.8" height="3.8" fill="#b35cc5"/>
<circle cx="431.6" cy="121.6" r="2.4" fill="#fdd800"/>
<path d="M431.6 36.2L434.3 41.2L428.9 41.2Z" fill="#1ca5dc"/>
<path d="M431.6 84.7L434.3 79.7L428.9 79.7Z" fill="#f25a8e"/>
<rect x="435.1" y="160.8" width="3.8" height="3.8" fill="#b35cc5"/>
<circle cx="437" cy="121.6" r="2.4" fill="#fdd800"/>
<path d="M437 36.2L439.7 41.2L434.3 41.2Z" fill="#1ca5dc"/>
<path d="M437 85.5L439.7 80.5L434.3 80.5Z" fill="#f25a8e"/>
<rect x="440.5" y="160.8" width="3.8" height="3.8" fill="#b35cc5"/>
<circle cx="442.4" cy="121.6" r="2.4" fill="#fdd800"/>
<path d="M442.4 38.4L445.1 43.4L439.7 43.4Z" fill="#1ca5dc"/>
<path d="M442.4 86.5L445.1 81.5L439.7 81.5Z" fill="#f25a8e"/>
<rect x="445.9" y="161.5" width="3.8" height="3.8" fill="#b35cc5"/>
<circle cx="447.8" cy="123.8" r="2.4" fill="#fdd800"/>
<path d="M447.8 38.4L450.5 43.4L445.1 43.4Z" fill="#1ca5dc"/>
<path d="M447.8 89.4L450.5 84.4L445.1 84.4Z" fill="#f25a8e"/>
<rect x="451.3" y="163" width="3.8" height="3.8" fill="#b35cc5"/>
<circle cx="453.2" cy="125.2" r="2.4" fill="#fdd800"/>
<path d="M453.2 38.4L455.9 43.4L450.5 43.4Z" fill="#1ca5dc"/>
<path d="M453.2 90.9L455.9 85.9L450.5 85.9Z" fill="#f25a8e"/>
<rect x="456.7" y="170.2" width="3.8" height="3.8" fill="#b35cc5"/>
<circle cx="458.6" cy="131.7" r="2.4" fill="#fdd800"/>
<path d="M458.6 56.4L461.3 61.4L455.9 61.4Z" fill="#1ca5dc"/>
<path d="M458.6 103.5L461.3 98.5L455.9 98.5Z" fill="#f25a8e"/>
<rect x="462.1" y="170.6" width="3.8" height="3.8" fill="#b35cc5"/>
<circle cx="464" cy="132.1" r="2.4" fill="#fdd800"/>
<path d="M464 56.4L466.7 61.4L461.3 61.4Z" fill="#1ca5dc"/>
<path d="M464 103.9L466.7 98.9L461.3 98.9Z" fill="#f25a8e"/>
<rect x="467.5" y="170.6" width="3.8" height="3.8" fill="#b35cc5"/>
<circle cx="469.4" cy="132.4" r="2.4" fill="#fdd800"/>
<path d="M469.4 56.4L472.1 61.4L466.7 61.4Z" fill="#1ca5dc"/>
<path d="M469.4 103.9L472.1 98.9L466.7 98.9Z" fill="#f25a8e"/>
<rect x="472.9" y="170.9" width="3.8" height="3.8" fill="#b35cc5"/>
<circle cx="474.8" cy="132.4" r="2.4" fill="#fdd800"/>
<path d="M474.8 56.1L477.5 61.1L472.1 61.1Z" fill="#1ca5dc"/>
<path d="M474.8 103.9L477.5 98.9L472.1 98.9Z" fill="#f25a8e"/>
<rect x="478.3" y="170.9" width="3.8" height="3.8" fill="#b35cc5"/>
<circle cx="480.2" cy="132.8" r="2.4" fill="#fdd800"/>
<path d="M480.2 56.1L482.9 61.1L477.5 61.1Z" fill="#1ca5dc"/>
<path d="M480.2 104.2L482.9 99.2L477.5 99.2Z" fill="#f25a8e"/>
<rect x="483.7" y="176" width="3.8" height="3.8" fill="#b35cc5"/>
<circle cx="485.6" cy="137.8" r="2.4" fill="#fdd800"/>
<path d="M485.6 74.1L488.3 79.1L482.9 79.1Z" fill="#1ca5dc"/>
<path d="M485.6 114.7L488.3 109.7L482.9 109.7Z" fill="#f25a8e"/>
<rect x="489.2" y="176.3" width="3.8" height="3.8" fill="#b35cc5"/>
<circle cx="491.1" cy="138.6" r="2.4" fill="#fdd800"/>
<path d="M491.1 74.5L493.8 79.5L488.4 79.5Z" fill="#1ca5dc"/>
<path d="M491.1 115L493.8 110L488.4 110Z" fill="#f25a8e"/>
<rect x="494.6" y="176.3" width="3.8" height="3.8" fill="#b35cc5"/>
<circle cx="496.5" cy="138.9" r="2.4" fill="#fdd800"/>
<path d="M496.5 74.5L499.2 79.5L493.8 79.5Z" fill="#1ca5dc"/>
<path d="M496.5 115L499.2 110L493.8 110Z" fill="#f25a8e"/>
<rect x="500" y="176.3" width="3.8" height="3.8" fill="#b35cc5"/>
<circle cx="501.9" cy="138.9" r="2.4" fill="#fdd800"/>
<path d="M501.9 74.8L504.6 79.8L499.2 79.8Z" fill="#1ca5dc"/>
<path d="M501.9 115.4L504.6 110.4L499.2 110.4Z" fill="#f25a8e"/>
<rect x="505.4" y="176.7" width="3.8" height="3.8" fill="#b35cc5"/>
<circle cx="507.3" cy="139.3" r="2.4" fill="#fdd800"/>
<path d="M507.3 75.2L510 80.2L504.6 80.2Z" fill="#1ca5dc"/>
<path d="M507.3 115.4L510 110.4L504.6 110.4Z" fill="#f25a8e"/>
<rect x="510.8" y="178.8" width="3.8" height="3.8" fill="#b35cc5"/>
<circle cx="512.7" cy="142.2" r="2.4" fill="#fdd800"/>
<path d="M512.7 86L515.4 91L510 91Z" fill="#1ca5dc"/>
<path d="M512.7 123.7L515.4 118.7L510 118.7Z" fill="#f25a8e"/>
<rect x="516.2" y="179.2" width="3.8" height="3.8" fill="#b35cc5"/>
<circle cx="518.1" cy="142.9" r="2.4" fill="#fdd800"/>
<path d="M518.1 86.7L520.8 91.7L515.4 91.7Z" fill="#1ca5dc"/>
<path d="M518.1 124L520.8 119L515.4 119Z" fill="#f25a8e"/>
<rect x="521.6" y="179.2" width="3.8" height="3.8" fill="#b35cc5"/>
<circle cx="523.5" cy="143.2" r="2.4" fill="#fdd800"/>
<path d="M523.5 87.1L526.2 92.1L520.8 92.1Z" fill="#1ca5dc"/>
<path d="M523.5 124L526.2 119L520.8 119Z" fill="#f25a8e"/>
<rect x="527" y="179.6" width="3.8" height="3.8" fill="#b35cc5"/>
<circle cx="528.9" cy="143.2" r="2.4" fill="#fdd800"/>
<path d="M528.9 87.1L531.6 92.1L526.2 92.1Z" fill="#1ca5dc"/>
<path d="M528.9 124.4L531.6 119.4L526.2 119.4Z" fill="#f25a8e"/>
<rect x="532.4" y="179.6" width="3.8" height="3.8" fill="#b35cc5"/>
<circle cx="534.3" cy="143.6" r="2.4" fill="#fdd800"/>
<path d="M534.3 87.4L537 92.4L531.6 92.4Z" fill="#1ca5dc"/>
<path d="M534.3 124.4L537 119.4L531.6 119.4Z" fill="#f25a8e"/>
<rect x="537.8" y="179.6" width="3.8" height="3.8" fill="#b35cc5"/>
<circle cx="539.7" cy="145" r="2.4" fill="#fdd800"/>
<path d="M539.7 95.7L542.4 100.7L537 100.7Z" fill="#1ca5dc"/>
<path d="M539.7 129.5L542.4 124.5L537 124.5Z" fill="#f25a8e"/>
<rect x="543.2" y="179.9" width="3.8" height="3.8" fill="#b35cc5"/>
<circle cx="545.1" cy="145.4" r="2.4" fill="#fdd800"/>
<path d="M545.1 96.1L547.8 101.1L542.4 101.1Z" fill="#1ca5dc"/>
<path d="M545.1 130.2L547.8 125.2L542.4 125.2Z" fill="#f25a8e"/>
<rect x="548.6" y="179.9" width="3.8" height="3.8" fill="#b35cc5"/>
<circle cx="550.5" cy="145.4" r="2.4" fill="#fdd800"/>
<path d="M550.5 96.5L553.2 101.5L547.8 101.5Z" fill="#1ca5dc"/>
<path d="M550.5 130.5L553.2 125.5L547.8 125.5Z" fill="#f25a8e"/>
<rect x="554" y="179.9" width="3.8" height="3.8" fill="#b35cc5"/>
<circle cx="555.9" cy="145.8" r="2.4" fill="#fdd800"/>
<path d="M555.9 96.8L558.6 101.8L553.2 101.8Z" fill="#1ca5dc"/>
<path d="M555.9 130.9L558.6 125.9L553.2 125.9Z" fill="#f25a8e"/>
<rect x="559.4" y="180.3" width="3.8" height="3.8" fill="#b35cc5"/>
<circle cx="561.3" cy="145.8" r="2.4" fill="#fdd800"/>
<path d="M561.3 97.2L564 102.2L558.6 102.2Z" fill="#1ca5dc"/>
<path d="M561.3 131.3L564 126.3L558.6 126.3Z" fill="#f25a8e"/>
<rect x="564.8" y="181.7" width="3.8" height="3.8" fill="#b35cc5"/>
<circle cx="566.7" cy="147.6" r="2.4" fill="#fdd800"/>
<path d="M566.7 105.8L569.4 110.8L564 110.8Z" fill="#1ca5dc"/>
<path d="M566.7 134.9L569.4 129.9L564 129.9Z" fill="#f25a8e"/>
<rect x="570.2" y="182.1" width="3.8" height="3.8" fill="#b35cc5"/>
<circle cx="572.1" cy="147.9" r="2.4" fill="#fdd800"/>
<path d="M572.1 106.5L574.8 111.5L569.4 111.5Z" fill="#1ca5dc"/>
<path d="M572.1 135.6L574.8 130.6L569.4 130.6Z" fill="#f25a8e"/>
<rect x="575.6" y="182.1" width="3.8" height="3.8" fill="#b35cc5"/>
<circle cx="577.5" cy="147.9" r="2.4" fill="#fdd800"/>
<path d="M577.5 106.9L580.2 111.9L574.8 111.9Z" fill="#1ca5dc"/>
<path d="M577.5 135.9L580.2 130.9L574.8 130.9Z" fill="#f25a8e"/>
<rect x="581" y="182.5" width="3.8" height="3.8" fill="#b35cc5"/>
<circle cx="582.9" cy="148.3" r="2.4" fill="#fdd800"/>
<path d="M582.9 106.9L585.6 111.9L580.2 111.9Z" fill="#1ca5dc"/>
<path d="M582.9 136.3L585.6 131.3L580.2 131.3Z" fill="#f25a8e"/>
<rect x="586.4" y="182.5" width="3.8" height="3.8" fill="#b35cc5"/>
<circle cx="588.3" cy="148.3" r="2.4" fill="#fdd800"/>
<path d="M588.3 107.3L591 112.3L585.6 112.3Z" fill="#1ca5dc"/>
<path d="M588.3 136.7L591 131.7L585.6 131.7Z" fill="#f25a8e"/>
<rect x="591.8" y="182.8" width="3.8" height="3.8" fill="#b35cc5"/>
<circle cx="593.7" cy="150.8" r="2.4" fill="#fdd800"/>
<path d="M593.7 117.7L596.4 122.7L591 122.7Z" fill="#1ca5dc"/>
<path d="M593.7 141.7L596.4 136.7L591 136.7Z" fill="#f25a8e"/>
<rect x="597.2" y="183.2" width="3.8" height="3.8" fill="#b35cc5"/>
<circle cx="599.1" cy="150.8" r="2.4" fill="#fdd800"/>
<path d="M599.1 118.8L601.8 123.8L596.4 123.8Z" fill="#1ca5dc"/>
<path d="M599.1 142.4L601.8 137.4L596.4 137.4Z" fill="#f25a8e"/>
<rect x="602.6" y="183.2" width="3.8" height="3.8" fill="#b35cc5"/>
<circle cx="604.5" cy="151.2" r="2.4" fill="#fdd800"/>
<path d="M604.5 119.2L607.2 124.2L601.8 124.2Z" fill="#1ca5dc"/>
<path d="M604.5 142.8L607.2 137.8L601.8 137.8Z" fill="#f25a8e"/>
<rect x="608.1" y="183.5" width="3.8" height="3.8" fill="#b35cc5"/>
<circle cx="610" cy="151.2" r="2.4" fill="#fdd800"/>
<path d="M610 119.5L612.7 124.5L607.3 124.5Z" fill="#1ca5dc"/>
<path d="M610 143.2L612.7 138.2L607.3 138.2Z" fill="#f25a8e"/>
<rect x="613.5" y="183.5" width="3.8" height="3.8" fill="#b35cc5"/>
<circle cx="615.4" cy="151.2" r="2.4" fill="#fdd800"/>
<path d="M615.4 119.9L618.1 124.9L612.7 124.9Z" fill="#1ca5dc"/>
<path d="M615.4 143.5L618.1 138.5L612.7 138.5Z" fill="#f25a8e"/>
<rect x="618.9" y="184.3" width="3.8" height="3.8" fill="#b35cc5"/>
<circle cx="620.8" cy="154.1" r="2.4" fill="#fdd800"/>
<path d="M620.8 129.6L623.5 134.6L618.1 134.6Z" fill="#1ca5dc"/>
<path d="M620.8 148.6L623.5 143.6L618.1 143.6Z" fill="#f25a8e"/>
<rect x="624.3" y="184.6" width="3.8" height="3.8" fill="#b35cc5"/>
<circle cx="626.2" cy="154.4" r="2.4" fill="#fdd800"/>
<path d="M626.2 130L628.9 135L623.5 135Z" fill="#1ca5dc"/>
<path d="M626.2 148.9L628.9 143.9L623.5 143.9Z" fill="#f25a8e"/>
<rect x="629.7" y="184.6" width="3.8" height="3.8" fill="#b35cc5"/>
<circle cx="631.6" cy="154.8" r="2.4" fill="#fdd800"/>
<path d="M631.6 130.3L634.3 135.3L628.9 135.3Z" fill="#1ca5dc"/>
<path d="M631.6 148.9L634.3 143.9L628.9 143.9Z" fill="#f25a8e"/>
<rect x="635.1" y="185" width="3.8" height="3.8" fill="#b35cc5"/>
<circle cx="637" cy="154.8" r="2.4" fill="#fdd800"/>
<path d="M637 130.3L639.7 135.3L634.3 135.3Z" fill="#1ca5dc"/>
<path d="M637 149.3L639.7 144.3L634.3 144.3Z" fill="#f25a8e"/>
<rect x="640.5" y="185" width="3.8" height="3.8" fill="#b35cc5"/>
<circle cx="642.4" cy="155.1" r="2.4" fill="#fdd800"/>
<path d="M642.4 130.7L645.1 135.7L639.7 135.7Z" fill="#1ca5dc"/>
<path d="M642.4 149.3L645.1 144.3L639.7 144.3Z" fill="#f25a8e"/>
<rect x="645.9" y="159.7" width="3.8" height="3.8" fill="#b35cc5"/>
<circle cx="647.8" cy="131" r="2.4" fill="#fdd800"/>
<path d="M647.8 36.6L650.5 41.6L645.1 41.6Z" fill="#1ca5dc"/>
<path d="M647.8 88L650.5 83L645.1 83Z" fill="#f25a8e"/>
<rect x="651.3" y="160.1" width="3.8" height="3.8" fill="#b35cc5"/>
<circle cx="653.2" cy="131.3" r="2.4" fill="#fdd800"/>
<path d="M653.2 37L655.9 42L650.5 42Z" fill="#1ca5dc"/>
<path d="M653.2 88.3L655.9 83.3L650.5 83.3Z" fill="#f25a8e"/>
<rect x="656.7" y="160.5" width="3.8" height="3.8" fill="#b35cc5"/>
<circle cx="658.6" cy="132.1" r="2.4" fill="#fdd800"/>
<path d="M658.6 37.3L661.3 42.3L655.9 42.3Z" fill="#1ca5dc"/>
<path d="M658.6 88.7L661.3 83.7L655.9 83.7Z" fill="#f25a8e"/>
<rect x="662.1" y="160.5" width="3.8" height="3.8" fill="#b35cc5"/>
<circle cx="664" cy="132.4" r="2.4" fill="#fdd800"/>
<path d="M664 37.3L666.7 42.3L661.3 42.3Z" fill="#1ca5dc"/>
<path d="M664 88.7L666.7 83.7L661.3 83.7Z" fill="#f25a8e"/>
<rect x="667.5" y="160.8" width="3.8" height="3.8" fill="#b35cc5"/>
<circle cx="669.4" cy="132.8" r="2.4" fill="#fdd800"/>
<path d="M669.4 37.7L672.1 42.7L666.7 42.7Z" fill="#1ca5dc"/>
<path d="M669.4 89.1L672.1 84.1L666.7 84.1Z" fill="#f25a8e"/>
<rect x="426.2" y="9.1" width="243.2" height="180.3" fill="none" stroke="#000" stroke-width="2"/>
<path d="M426.2 189.4L426.2 193.7" stroke="#000" stroke-width="1.6"/>
<path d="M453.2 189.4L453.2 192.2" stroke="#000" stroke-width="1.6"/>
<path d="M480.2 189.4L480.2 193.7" stroke="#000" stroke-width="1.6"/>
<path d="M507.3 189.4L507.3 192.2" stroke="#000" stroke-width="1.6"/>
<path d="M534.3 189.4L534.3 193.7" stroke="#000" stroke-width="1.6"/>
<path d="M561.3 189.4L561.3 192.2" stroke="#000" stroke-width="1.6"/>
<path d="M588.3 189.4L588.3 193.7" stroke="#000" stroke-width="1.6"/>
<path d="M615.4 189.4L615.4 192.2" stroke="#000" stroke-width="1.6"/>
<path d="M642.4 189.4L642.4 193.7" stroke="#000" stroke-width="1.6"/>
<path d="M669.4 189.4L669.4 192.2" stroke="#000" stroke-width="1.6"/>
<path d="M422.4 189.4L426.2 189.4" stroke="#000" stroke-width="1.6"/>
<path d="M423.6 171.4L426.2 171.4" stroke="#000" stroke-width="1.6"/>
<path d="M422.4 153.3L426.2 153.3" stroke="#000" stroke-width="1.6"/>
<path d="M423.6 135.3L426.2 135.3" stroke="#000" stroke-width="1.6"/>
<path d="M422.4 117.3L426.2 117.3" stroke="#000" stroke-width="1.6"/>
<path d="M423.6 99.2L426.2 99.2" stroke="#000" stroke-width="1.6"/>
<path d="M422.4 81.2L426.2 81.2" stroke="#000" stroke-width="1.6"/>
<path d="M423.6 63.2L426.2 63.2" stroke="#000" stroke-width="1.6"/>
<path d="M422.4 45.2L426.2 45.2" stroke="#000" stroke-width="1.6"/>
<path d="M423.6 27.1L426.2 27.1" stroke="#000" stroke-width="1.6"/>
<path d="M422.4 9.1L426.2 9.1" stroke="#000" stroke-width="1.6"/>
<text x="426.2" y="206.6" font-size="15.4" text-anchor="middle">0</text>
<text x="480.2" y="206.6" font-size="15.4" text-anchor="middle">10</text>
<text x="534.3" y="206.6" font-size="15.4" text-anchor="middle">20</text>
<text x="588.3" y="206.6" font-size="15.4" text-anchor="middle">30</text>
<text x="642.4" y="206.6" font-size="15.4" text-anchor="middle">40</text>
<text x="419.9" y="193" font-size="15.4" text-anchor="end">0</text>
<text x="419.9" y="156.9" font-size="15.4" text-anchor="end">100</text>
<text x="419.9" y="120.9" font-size="15.4" text-anchor="end">200</text>
<text x="419.9" y="84.8" font-size="15.4" text-anchor="end">300</text>
<text x="419.9" y="48.8" font-size="15.4" text-anchor="end">400</text>
<text x="419.9" y="12.7" font-size="15.4" text-anchor="end">500</text>
<text x="441" y="35.1" font-size="12" text-anchor="middle">0.2</text>
<text x="467" y="56.2" font-size="12" text-anchor="middle">0.5</text>
<text x="496" y="74.5" font-size="12" text-anchor="middle">1.0</text>
<text x="526.2" y="85" font-size="12" text-anchor="middle">2.0</text>
<text x="552.8" y="95.3" font-size="12" text-anchor="middle">4.0</text>
<text x="576.5" y="105.7" font-size="12" text-anchor="middle">6.0</text>
<text x="604.5" y="119" font-size="12" text-anchor="middle">8.0</text>
<text x="629.3" y="128.5" font-size="12" text-anchor="middle">10</text>
<text x="658.5" y="35.6" font-size="12" text-anchor="middle">0.2</text>
<text x="471" y="33.5" font-size="11.4" text-anchor="start" textLength="57" lengthAdjust="spacingAndGlyphs">Unit : A g<tspan dy="-5" font-size="7.5">-1</tspan></text>
<path d="M552.2 20.4L571.6 20.4" stroke="#c98ad4" stroke-width="1.1"/>
<rect x="560.3" y="18.5" width="3.8" height="3.8" fill="#b35cc5"/>
<text x="574.6" y="23.3" font-size="12" text-anchor="start" textLength="63.6" lengthAdjust="spacingAndGlyphs">2-WP-HPPs</text>
<path d="M552.2 34.6L571.6 34.6" stroke="#fde466" stroke-width="1.1"/>
<circle cx="562.2" cy="34.6" r="2.4" fill="#fdd800"/>
<text x="574.6" y="37.5" font-size="12" text-anchor="start" textLength="63.6" lengthAdjust="spacingAndGlyphs">4-WP-HPPs</text>
<path d="M552.2 48.8L571.6 48.8" stroke="#5cbfe6" stroke-width="1.1"/>
<path d="M562.2 46L564.9 51L559.5 51Z" fill="#1ca5dc"/>
<text x="574.6" y="51.7" font-size="12" text-anchor="start" textLength="63.6" lengthAdjust="spacingAndGlyphs">6-WP-HPPs</text>
<path d="M552.2 64L571.6 64" stroke="#f68cb1" stroke-width="1.1"/>
<path d="M562.2 66.8L564.9 61.8L559.5 61.8Z" fill="#f25a8e"/>
<text x="574.6" y="66.9" font-size="12" text-anchor="start" textLength="63.6" lengthAdjust="spacingAndGlyphs">8-WP-HPPs</text>
<text x="547.5" y="219.6" font-size="15" text-anchor="middle" textLength="125" lengthAdjust="spacingAndGlyphs">Cycle number (n)</text>
<text transform="translate(384.7,101.7) rotate(-90)" font-size="15.5" text-anchor="middle" textLength="201" lengthAdjust="spacingAndGlyphs">Specific capacity ( mA h g<tspan dy="-4.8" font-size="9">-1</tspan><tspan dy="4.8">)</tspan></text>
<text x="348" y="19" font-size="26" text-anchor="start">b</text>
<g clip-path="url(#clipC)">
<path d="M238.9 348.4 239.2 345.2 239.5 342.3 239.7 339.8 240 337.6 240.3 335.6 240.6 333.9 240.8 332.4 241.1 331.1 241.4 329.8 241.7 328.8 241.9 327.8 242.2 326.9 242.5 326 242.7 325.3 243 324.6 243.3 324 243.6 323.4 243.8 322.8 244.1 322.3 244.4 321.8 244.7 321.3 244.9 320.9 245.2 320.5 245.5 320.1 245.8 319.7 246 319.3 246.3 319 246.6 318.7 247.1 318 247.7 317.5 248.2 316.9 248.8 316.4 249.3 316 249.9 315.5 250.4 315.1 251 314.7 251.5 314.3 252.1 314 252.6 313.6 253.1 313.3 253.7 313 254.2 312.7 254.8 312.4 255.3 312.2 255.9 311.9 256.5 311.7 257.1 311.4 257.7 311.2 258.2 311 258.8 310.7 259.4 310.5 260 310.3 260.5 310.2 261.1 310 261.7 309.8 262.3 309.6 262.9 309.4 263.4 309.3 264 309.1 264.6 309 265.2 308.8 265.7 308.7 266.3 308.5 266.9 308.4 267.5 308.2 268.1 308.1 268.6 307.9 269.2 307.8 269.8 307.7 270.4 307.5 270.9 307.4 271.5 307.2 272.1 307.1 272.7 307 273.3 306.8 273.8 306.7 274.4 306.5 275 306.4 275.6 306.3 276.1 306.1 276.7 306 277.3 305.8 277.9 305.7 278.5 305.6 279 305.4 279.6 305.3 280.2 305.2 280.8 305 281.3 304.9 281.9 304.7 282.5 304.6 283.1 304.5 283.7 304.3 284.2 304.2 284.8 304.1 285.4 303.9 286 303.8 286.5 303.7 287.1 303.5 287.7 303.4 288.3 303.3 288.9 303.2 289.4 303 290 302.9 290.6 302.8 291.2 302.7 291.7 302.6 292.3 302.4 292.9 302.3 293.5 302.2 294.1 302 294.6 301.9 295.2 301.7 295.8 301.6 296.4 301.4 296.9 301.2 297.5 301 298.1 300.8 297.5 301.4 297.2 302.2 296.9 303.2 296.7 304.5 296.4 305.9 296.1 307.4 295.8 309.1 295.5 311.1 295.2 314.6 294.9 318.7 294.6 322.5 294.3 325.3 294.1 327.1 293.8 328.6 293.5 329.9 293.2 331 292.9 332 292.6 332.9 292.3 333.8 292 334.6 291.7 335.4 291.5 336.1 291.2 336.7 290.9 337.3 290.6 337.7 290.3 338.1 290 338.4 289.7 338.7 289.4 339.1 288.9 339.6 288.3 340.1 287.7 340.6 287.1 341 286.5 341.4 286 341.7 285.4 341.9 284.8 342.1 284.2 342.3 283.7 342.5 283.1 342.7 282.5 342.9 281.9 343.1 281.3 343.2 280.8 343.4 280.2 343.5 279.6 343.7 279 343.8 278.5 343.9 277.9 344.1 277.3 344.2 276.7 344.3 276.1 344.4 275.6 344.5 275 344.6 274.4 344.7 273.8 344.8 273.3 344.9 272.7 344.9 272.1 345 271.5 345.1 270.9 345.2 270.4 345.2 269.8 345.3 269.2 345.4 268.6 345.4 268.1 345.5 267.5 345.6 266.9 345.6 266.3 345.7 265.7 345.8 265.2 345.8 264.6 345.9 264 345.9 263.4 346 262.9 346 262.3 346.1 261.7 346.1 261.1 346.2 260.5 346.2 260 346.2 259.4 346.2 258.5 346.3 257.7 346.3 256.8 346.3 255.9 346.3 255.1 346.4 254.2 346.4 253.4 346.4 252.6 346.4 251.8 346.5 251 346.5 250.1 346.5 249.3 346.5 248.5 346.6 247.7 346.6 246.9 346.6 246 346.7 245.2 346.7 244.4 346.8 243.8 346.9 243.3 347 242.7 347 242.2 347.1 241.7 347.3 241.1 347.4 240.6 347.6 240 347.8 239.5 348.1 238.9 348.4" fill="none" stroke="#f8dc3c" stroke-width="1.9" stroke-linejoin="round" stroke-linecap="round"/>
<path d="M228.2 348.5 228.4 345.2 228.7 342.4 229 339.8 229.3 337.6 229.5 335.7 229.8 334 230.1 332.5 230.3 331.1 230.6 329.9 230.9 328.8 231.2 327.8 231.4 326.9 231.7 326.1 232 325.3 232.3 324.6 232.5 324 232.8 323.4 233.1 322.8 233.4 322.3 233.6 321.8 233.9 321.4 234.2 320.9 234.5 320.5 234.7 320.1 235 319.7 235.3 319.4 235.5 319 235.8 318.7 236.4 318.1 236.9 317.5 237.5 317 238 316.5 238.6 316 239.1 315.6 239.6 315.1 240.2 314.7 240.7 314.4 241.3 314 241.8 313.7 242.4 313.4 242.9 313.1 243.5 312.8 244 312.5 244.7 312.2 245.4 311.9 246.1 311.6 246.8 311.3 247.5 311 248.3 310.7 249 310.5 249.7 310.2 250.4 310 251.2 309.8 251.9 309.6 252.6 309.4 253.3 309.2 254 309 254.8 308.8 255.5 308.6 256.2 308.4 256.9 308.2 257.7 308.1 258.4 307.9 259.1 307.7 259.8 307.6 260.5 307.4 261.3 307.2 262 307.1 262.7 306.9 263.4 306.8 264.2 306.6 264.9 306.5 265.6 306.3 266.3 306.2 267 306 267.8 305.8 268.5 305.7 269.2 305.5 269.9 305.4 270.7 305.2 271.4 305 272.1 304.9 272.8 304.7 273.5 304.5 274.3 304.4 275 304.2 275.7 304 276.4 303.8 277.2 303.7 277.9 303.5 278.6 303.3 279.3 303.1 280 303 280.8 302.8 281.5 302.6 282.2 302.4 282.9 302.3 283.7 302.1 284.4 301.9 285.1 301.7 285.8 301.5 286.5 301.3 287.3 301.2 288 301 288.7 300.8 289.4 300.7 290.2 300.5 290.9 300.4 291.6 300.3 292.3 300.1 293 300 293.8 299.9 294.5 299.8 295.2 299.6 295.9 299.5 296.7 299.3 297.4 299.1 298.1 298.9 298.1 300.8 297.7 301.2 297.4 302 297 303.3 296.7 304.8 296.3 306.6 295.9 308.5 295.6 310.8 295.2 314.8 294.9 319.9 294.5 324.3 294.1 326.8 293.8 328.7 293.4 330.3 293 331.6 292.7 332.8 292.3 333.9 292 334.9 291.6 335.9 291.2 336.7 290.9 337.3 290.5 337.9 290.2 338.3 289.8 338.7 289.4 339.1 289.1 339.5 288.7 339.8 288.4 340.1 288 340.4 287.6 340.7 287.3 341 286.5 341.4 285.8 341.8 285.1 342.1 284.4 342.3 283.7 342.6 282.9 342.8 282.2 343 281.5 343.3 280.8 343.5 280 343.6 279.3 343.8 278.6 344 277.9 344.1 277.2 344.3 276.4 344.4 275.7 344.5 275 344.6 274.3 344.8 273.5 344.9 272.8 345 272.1 345.1 271.4 345.2 270.7 345.3 269.9 345.3 269.2 345.4 268.5 345.5 267.8 345.6 267 345.7 266.3 345.8 265.6 345.8 264.9 345.9 264.2 346 263.4 346 262.7 346.1 262 346.2 261.3 346.2 260.5 346.2 259.8 346.3 259.1 346.3 258.4 346.3 257.7 346.3 256.9 346.4 256.2 346.4 255.5 346.4 254.8 346.4 254 346.4 253.3 346.5 252.6 346.5 251.9 346.5 251.2 346.5 250.4 346.5 249.7 346.5 249 346.6 248.3 346.6 247.5 346.6 246.8 346.6 246.1 346.6 245.4 346.6 244.7 346.6 244 346.7 243.2 346.7 242.4 346.7 241.6 346.7 240.7 346.7 239.9 346.7 239.1 346.7 238.3 346.8 237.5 346.8 236.6 346.8 235.8 346.8 235 346.9 234.2 346.9 233.4 347 232.8 347.1 232.3 347.2 231.7 347.2 231.2 347.4 230.6 347.5 230.1 347.6 229.5 347.8 229 348.1 228.4 348.4 228.2 348.5" fill="none" stroke="#f8b432" stroke-width="1.9" stroke-linejoin="round" stroke-linecap="round"/>
<path d="M217.4 347.7 217.7 344.5 217.9 341.7 218.2 339.2 218.5 337.1 218.8 335.2 219 333.5 219.3 332 219.6 330.7 219.9 329.5 220.1 328.5 220.4 327.5 220.7 326.6 221 325.8 221.2 325.1 221.5 324.4 221.8 323.8 222.1 323.2 222.3 322.7 222.6 322.2 222.9 321.7 223.1 321.2 223.4 320.8 223.7 320.4 224 320 224.2 319.7 224.5 319.3 224.8 319 225.3 318.4 225.9 317.8 226.4 317.2 227 316.7 227.5 316.3 228.1 315.8 228.6 315.4 229.2 315 229.7 314.7 230.3 314.3 230.8 314 231.4 313.7 231.9 313.4 232.4 313.1 233 312.8 233.5 312.5 234 312.4 234.4 312.2 234.8 312 235.3 311.8 235.7 311.6 236.1 311.5 237 311.1 237.9 310.8 238.7 310.5 239.6 310.3 240.5 310 241.3 309.8 242.2 309.5 243.1 309.3 243.9 309.1 244.8 308.9 245.7 308.6 246.5 308.4 247.4 308.2 248.3 308 249.1 307.8 250 307.7 250.9 307.5 251.7 307.3 252.6 307.1 253.5 306.9 254.3 306.7 255.2 306.5 256.1 306.3 256.9 306.2 257.8 306 258.7 305.8 259.5 305.6 260.4 305.4 261.3 305.2 262.1 305 263 304.9 263.9 304.7 264.7 304.5 265.6 304.3 266.5 304.1 267.3 303.9 268.2 303.7 269.1 303.5 269.9 303.3 270.8 303.1 271.7 302.9 272.5 302.7 273.4 302.5 274.3 302.3 275.1 302.1 276 301.9 276.9 301.6 277.7 301.4 278.6 301.2 279.5 301 280.3 300.7 281.2 300.5 282.1 300.3 282.9 300 283.8 299.8 284.7 299.6 285.5 299.3 286.4 299.1 287.3 298.8 288.1 298.6 289 298.4 289.9 298.2 290.7 298.1 291.6 297.9 292.5 297.8 293.3 297.7 294.2 297.6 295.1 297.6 295.9 297.5 296.8 297.4 297.7 297.2 298.1 300.8 297.7 301.7 297.2 303.1 296.8 304.8 296.4 306.8 295.9 309.2 295.5 312 295.1 317.3 294.6 323.1 294.2 326.7 293.8 329 293.3 330.8 292.9 332.3 292.5 333.7 292 334.9 291.6 336 291.2 337 290.7 337.7 290.3 338.3 289.9 338.8 289.4 339.2 289 339.7 288.6 340.1 288.1 340.4 287.7 340.8 287.3 341.1 286.8 341.3 286.4 341.6 286 341.8 285.5 342 285.1 342.2 284.2 342.5 283.4 342.8 282.5 343.1 281.6 343.3 280.8 343.5 279.9 343.8 279 344 278.2 344.2 277.3 344.3 276.4 344.5 275.6 344.7 274.7 344.8 273.8 344.9 273 345.1 272.1 345.2 271.2 345.3 270.4 345.4 269.5 345.5 268.6 345.6 267.8 345.7 266.9 345.8 266 345.9 265.2 346 264.3 346.1 263.4 346.2 262.6 346.2 261.7 346.3 260.8 346.3 260 346.4 259.1 346.4 258.2 346.5 257.4 346.5 256.5 346.5 255.6 346.5 254.8 346.5 253.9 346.6 253 346.6 252.2 346.6 251.3 346.6 250.4 346.7 249.6 346.7 248.7 346.7 247.8 346.7 247 346.7 246.1 346.7 245.2 346.8 244.4 346.8 243.5 346.8 242.6 346.8 241.8 346.8 240.9 346.8 240 346.8 239.2 346.8 238.3 346.8 237.4 346.9 236.6 346.9 235.7 346.9 234.8 346.9 234 346.9 233.3 346.9 232.4 346.9 231.6 346.9 230.8 346.9 230 346.9 229.2 346.9 228.3 346.9 227.5 346.9 226.7 346.9 225.9 346.9 225.1 346.9 224.2 346.9 223.4 346.9 222.6 346.9 221.8 347 221 347.1 220.4 347.1 219.9 347.2 219.3 347.3 218.8 347.4 218.2 347.5 217.7 347.6 217.4 347.7" fill="none" stroke="#f6aa22" stroke-width="1.9" stroke-linejoin="round" stroke-linecap="round"/>
<path d="M206.6 355.3 206.9 351.3 207.2 347.9 207.5 344.9 207.7 342.3 208 340 208.3 338 208.6 336.2 208.8 334.5 209.1 333.1 209.4 331.8 209.6 330.6 209.9 329.6 210.2 328.6 210.5 327.7 210.7 326.9 211 326.2 211.3 325.5 211.6 324.8 211.8 324.2 212.1 323.7 212.4 323.2 212.7 322.7 212.9 322.2 213.2 321.8 213.5 321.3 213.8 320.9 214 320.5 214.3 320.2 214.6 319.8 214.8 319.5 215.4 318.9 215.9 318.3 216.5 317.8 217 317.3 217.6 316.8 218.1 316.3 218.7 315.9 219.2 315.5 219.8 315.1 220.3 314.8 220.9 314.4 221.4 314.1 222 313.8 222.5 313.5 223.3 313.1 223.8 312.9 224.3 312.6 224.8 312.4 225.3 312.2 225.8 312 226.3 311.8 226.8 311.6 227.3 311.5 227.8 311.3 228.3 311.1 228.8 311 229.4 310.8 229.9 310.7 230.4 310.5 230.9 310.4 231.4 310.2 231.9 310.1 232.4 309.9 232.9 309.8 233.4 309.7 233.9 309.5 234.4 309.4 234.9 309.3 235.4 309.2 235.9 309 236.4 308.9 236.9 308.8 237.4 308.7 237.9 308.6 238.5 308.4 239 308.3 239.5 308.2 240 308.1 240.5 308 241 307.9 241.5 307.8 242 307.7 242.5 307.5 243 307.4 243.5 307.3 244 307.2 244.5 307.1 245 307 245.5 306.9 246 306.8 246.5 306.7 247 306.6 247.5 306.5 248.1 306.4 248.6 306.3 249.1 306.2 249.6 306 250.1 305.9 250.6 305.8 251.1 305.7 251.6 305.6 252.1 305.5 252.6 305.4 253.1 305.3 253.6 305.2 254.1 305 254.6 304.9 255.1 304.8 255.6 304.7 256.1 304.6 256.6 304.5 257.2 304.4 257.7 304.2 258.2 304.1 258.7 304 259.2 303.9 259.7 303.8 260.2 303.7 260.7 303.5 261.2 303.4 261.7 303.3 262.2 303.2 262.7 303.1 263.2 303 263.7 302.8 264.2 302.7 264.7 302.6 265.2 302.5 265.7 302.4 266.3 302.3 266.8 302.1 267.3 302 267.8 301.9 268.3 301.8 268.8 301.7 269.3 301.5 269.8 301.4 270.3 301.3 270.8 301.1 271.3 301 271.8 300.9 272.3 300.8 272.8 300.6 273.3 300.5 273.8 300.4 274.3 300.2 274.8 300.1 275.4 300 275.9 299.8 276.4 299.7 276.9 299.5 277.4 299.4 277.9 299.3 278.4 299.1 278.9 299 279.4 298.9 279.9 298.7 280.4 298.6 280.9 298.4 281.4 298.3 281.9 298.1 282.4 298 282.9 297.9 283.4 297.7 283.9 297.5 284.5 297.4 285 297.2 285.5 297.1 286 296.9 286.5 296.8 287 296.6 287.5 296.5 288 296.3 288.5 296.2 289 296.1 289.5 296 290 295.9 290.5 295.8 291.5 295.6 292.5 295.5 293.6 295.5 294.6 295.5 295.6 295.5 296.6 295.5 297.6 295.3 298.1 295.2 298.1 300.8 297.6 302.5 297.1 304.5 296.6 306.7 296.1 309.3 295.6 312.2 295.1 318 294.6 324.5 294.1 328 293.6 330.3 293 332.2 292.5 333.8 292 335.2 291.5 336.4 291 337.5 290.5 338.2 290 338.8 289.5 339.4 289 339.9 288.5 340.3 288 340.7 287.5 341.1 287 341.4 286.5 341.7 286 342 285.5 342.2 285 342.4 284.5 342.6 283.9 342.7 283.4 342.9 282.9 343.1 282.4 343.2 281.9 343.4 281.4 343.5 280.9 343.7 280.4 343.8 279.9 343.9 279.4 344 278.9 344.2 278.4 344.3 277.9 344.4 277.4 344.5 276.9 344.6 276.4 344.7 275.4 344.8 274.3 345 273.3 345.2 272.3 345.3 271.3 345.4 270.3 345.6 269.3 345.7 268.3 345.8 267.3 346 266.3 346.1 265.2 346.2 264.2 346.3 263.2 346.4 262.2 346.4 261.2 346.5 260.2 346.6 259.2 346.6 258.2 346.6 257.2 346.7 256.1 346.7 255.1 346.7 254.1 346.7 253.1 346.8 252.1 346.8 251.1 346.8 250.1 346.8 249.1 346.9 248.1 346.9 247 346.9 246 346.9 245 346.9 244 347 243 347 242 347 241 347 240 347 239 347 237.9 347 236.9 347 235.9 347.1 234.9 347.1 233.9 347.1 232.9 347.1 231.9 347.1 230.9 347.1 229.9 347.1 228.8 347.1 227.8 347.1 226.8 347.1 225.8 347 224.8 347 223.8 347 222.8 346.9 222 346.9 221.1 346.9 220.3 346.8 219.5 346.8 219 346.7 218.4 346.5 217.9 346.4 217.3 346.3 216.8 346.2 216.2 346.1 215.4 346.1 214.8 346.2 214.3 346.4 213.8 346.9 213.2 347.4 212.7 348.1 212.4 348.4 212.1 348.8 211.8 349.2 211.6 349.6 211.3 350 211 350.3 210.7 350.7 210.5 351.1 210.2 351.5 209.9 351.8 209.6 352.2 209.1 352.8 208.6 353.3 208 353.8 207.5 354.4 206.9 355 206.6 355.3" fill="none" stroke="#f5a020" stroke-width="1.9" stroke-linejoin="round" stroke-linecap="round"/>
<path d="M195.9 360.5 196.2 356.1 196.4 352.2 196.7 348.8 197 345.9 197.2 343.3 197.5 341 197.8 339 198.1 337.2 198.3 335.6 198.6 334.1 198.9 332.8 199.2 331.6 199.4 330.5 199.7 329.5 200 328.6 200.3 327.8 200.5 327 200.8 326.3 201.1 325.6 201.4 325 201.6 324.4 201.9 323.8 202.2 323.3 202.4 322.8 202.7 322.3 203 321.8 203.3 321.4 203.5 321 203.8 320.5 204.1 320.2 204.4 319.8 204.6 319.4 204.9 319.1 205.2 318.8 205.7 318.1 206.3 317.5 206.8 317 207.4 316.5 207.9 316 208.5 315.6 209 315.1 209.6 314.7 210.1 314.4 210.7 314 211.2 313.7 211.7 313.5 212.6 313.1 213.2 312.8 213.8 312.6 214.3 312.4 214.9 312.2 215.5 312 216.1 311.8 216.6 311.7 217.2 311.5 217.8 311.4 218.4 311.2 219 311.1 219.5 310.9 220.1 310.8 220.7 310.6 221.3 310.5 221.8 310.3 222.4 310.2 223 310.1 223.6 309.9 224.2 309.8 224.7 309.7 225.3 309.6 225.9 309.5 226.5 309.3 227 309.2 227.6 309.1 228.2 309 228.8 308.9 229.4 308.8 229.9 308.7 230.5 308.5 231.1 308.4 231.7 308.3 232.2 308.2 232.8 308.1 233.4 308 234 307.9 234.6 307.7 235.1 307.6 235.7 307.5 236.3 307.4 236.9 307.3 237.4 307.1 238 307 238.6 306.9 239.2 306.8 239.8 306.6 240.3 306.5 240.9 306.4 241.5 306.3 242.1 306.1 242.6 306 243.2 305.9 243.8 305.8 244.4 305.7 244.9 305.5 245.5 305.4 246.1 305.3 246.7 305.2 247.3 305 247.8 304.9 248.4 304.8 249 304.6 249.6 304.5 250.1 304.4 250.7 304.2 251.3 304.1 251.9 304 252.5 303.8 253 303.7 253.6 303.5 254.2 303.4 254.8 303.3 255.3 303.1 255.9 303 256.5 302.8 257.1 302.7 257.7 302.6 258.2 302.4 258.8 302.3 259.4 302.1 260 302 260.5 301.8 261.1 301.7 261.7 301.5 262.3 301.4 262.9 301.2 263.4 301.1 264 300.9 264.6 300.8 265.2 300.7 265.7 300.5 266.3 300.4 266.9 300.2 267.5 300.1 268.1 299.9 268.6 299.8 269.2 299.6 269.8 299.5 270.4 299.3 270.9 299.1 271.5 299 272.1 298.8 272.7 298.7 273.3 298.5 273.8 298.3 274.4 298.2 275 298 275.6 297.8 276.1 297.7 276.7 297.5 277.3 297.3 277.9 297.2 278.5 297 279 296.8 279.6 296.7 280.2 296.5 280.8 296.3 281.3 296.2 281.9 296 282.5 295.8 283.1 295.6 283.7 295.4 284.2 295.2 284.8 295 285.4 294.8 286 294.6 286.5 294.4 287.1 294.3 287.7 294.1 288.3 293.9 288.9 293.8 289.4 293.6 290 293.5 290.6 293.4 291.2 293.3 291.7 293.3 292.9 293.3 294.1 293.3 294.6 293.3 295.2 293.4 295.8 293.5 296.4 293.6 297.5 293.5 298.1 293.4 298.1 300.8 297.5 303.7 296.9 306.3 296.4 309 295.8 312.1 295.2 317.2 294.6 324.4 294.1 328.6 293.5 331.1 292.9 333.1 292.3 334.8 291.7 336.3 291.2 337.5 290.6 338.4 290 339.1 289.4 339.7 288.9 340.2 288.3 340.7 287.7 341.1 287.1 341.5 286.5 341.9 286 342.2 285.4 342.4 284.8 342.6 284.2 342.8 283.7 343 283.1 343.2 282.5 343.4 281.9 343.6 281.3 343.7 280.8 343.9 280.2 344 279.6 344.2 279 344.3 278.5 344.4 277.9 344.6 277.3 344.7 276.7 344.8 276.1 344.9 275.6 345 275 345.1 274.4 345.2 273.8 345.3 273.3 345.4 272.7 345.5 272.1 345.6 271.5 345.6 270.9 345.7 270.4 345.8 269.8 345.9 269.2 345.9 268.6 346 268.1 346.1 267.5 346.2 266.9 346.2 266.3 346.3 265.7 346.4 265.2 346.4 264.6 346.5 264 346.5 263.4 346.6 262.9 346.6 262.3 346.7 261.7 346.7 261.1 346.7 260.5 346.8 260 346.8 259.4 346.8 258.2 346.9 257.1 346.9 255.9 346.9 254.8 347 253.6 347 252.5 347 251.3 347.1 250.1 347.1 249 347.1 247.8 347.1 246.7 347.2 245.5 347.2 244.4 347.2 243.2 347.2 242.1 347.2 240.9 347.2 239.8 347.3 238.6 347.3 237.4 347.3 236.3 347.3 235.1 347.3 234 347.3 232.8 347.3 231.7 347.3 230.5 347.3 229.4 347.4 228.2 347.4 227 347.3 225.9 347.3 224.7 347.3 223.6 347.3 222.4 347.3 221.3 347.2 220.1 347.2 219.5 347.1 219 347.1 218.4 347 217.8 346.8 217.2 346.7 216.6 346.6 216.1 346.6 214.9 346.7 214.3 346.9 213.8 347.4 213.2 347.9 212.6 348.6 212 349.3 211.7 349.7 211.5 350 211.2 350.4 210.9 350.7 210.7 351.1 210.1 351.7 209.6 352.2 209 352.7 208.5 353 207.9 353.4 207.4 353.7 206.8 354 206.3 354.3 205.7 354.6 205.2 354.9 204.6 355.2 204.1 355.4 203.5 355.7 203 356 202.4 356.3 201.9 356.6 201.4 356.8 200.8 357.1 200.3 357.4 199.7 357.7 199.2 358 198.6 358.4 198.1 358.7 197.5 359.1 197 359.5 196.4 360 195.9 360.5" fill="none" stroke="#f39a3a" stroke-width="1.9" stroke-linejoin="round" stroke-linecap="round"/>
<path d="M185.1 364.3 185.4 359.5 185.7 355.3 185.9 351.7 186.2 348.5 186.5 345.7 186.8 343.2 187 341 187.3 339.1 187.6 337.3 187.9 335.7 188.1 334.3 188.4 333 188.7 331.8 188.9 330.8 189.2 329.8 189.5 328.8 189.8 328 190 327.2 190.3 326.4 190.6 325.7 190.9 325.1 191.1 324.5 191.4 323.9 191.7 323.3 192 322.8 192.2 322.3 192.5 321.8 192.8 321.3 193.1 320.9 193.3 320.5 193.6 320.1 193.9 319.7 194.1 319.3 194.4 318.9 194.7 318.6 195 318.2 195.5 317.6 196.1 317 196.6 316.4 197.2 315.9 197.7 315.4 198.3 315 198.8 314.6 199.3 314.2 199.9 313.8 200.4 313.5 201 313.1 201.9 312.6 202.6 312.3 203.2 312 203.9 311.7 204.5 311.4 205.2 311.2 205.8 310.9 206.5 310.7 207.1 310.5 207.8 310.3 208.4 310.1 209.1 310 209.7 309.8 210.4 309.7 211 309.6 211.7 309.5 212.3 309.4 213 309.3 213.6 309.2 214.3 309.2 214.9 309.1 215.6 309.1 216.2 309.1 216.9 309 217.5 309 218.2 308.9 218.8 308.8 219.5 308.8 220.1 308.7 220.8 308.6 221.4 308.5 222.1 308.4 222.7 308.3 223.4 308.2 224 308.1 224.7 308 225.3 307.9 226 307.8 226.6 307.7 227.3 307.6 227.9 307.5 228.6 307.4 229.2 307.3 229.9 307.2 230.5 307 231.2 306.9 231.8 306.8 232.5 306.7 233.1 306.5 233.8 306.4 234.4 306.3 235.1 306.1 235.7 306 236.4 305.9 237 305.7 237.7 305.6 238.3 305.4 239 305.3 239.6 305.1 240.3 305 240.9 304.8 241.6 304.7 242.2 304.5 242.9 304.4 243.5 304.2 244.2 304.1 244.8 303.9 245.5 303.8 246.1 303.6 246.8 303.4 247.4 303.3 248.1 303.1 248.7 303 249.4 302.8 250 302.6 250.7 302.5 251.3 302.3 252 302.1 252.6 301.9 253.3 301.8 253.9 301.6 254.6 301.4 255.2 301.2 255.9 301 256.5 300.9 257.2 300.7 257.8 300.5 258.5 300.3 259.1 300.1 259.8 300 260.4 299.8 261.1 299.6 261.7 299.4 262.4 299.2 263 299 263.7 298.9 264.3 298.7 265 298.5 265.6 298.3 266.3 298.1 266.9 298 267.6 297.8 268.2 297.6 268.9 297.4 269.5 297.2 270.2 297 270.8 296.8 271.5 296.6 272.1 296.4 272.8 296.2 273.4 296 274.1 295.9 274.7 295.7 275.4 295.5 276 295.3 276.7 295.1 277.3 294.8 278 294.6 278.6 294.4 279.3 294.2 279.9 294 280.6 293.8 281.2 293.6 281.9 293.4 282.5 293.2 283.2 293 283.8 292.7 284.5 292.5 285.1 292.2 285.8 292 286.4 291.7 287.1 291.5 287.7 291.3 288.4 291.1 289 290.9 289.7 290.8 290.3 290.6 291 290.6 291.6 290.5 292.3 290.5 292.9 290.6 293.6 290.6 294.2 290.7 294.9 290.8 295.5 291 296.2 291.2 296.8 291.3 297.5 291.2 298.1 291.1 298.1 300.8 297.5 305.2 296.8 308.5 296.2 311.7 295.5 315.4 294.9 322.9 294.2 328.6 293.6 331.5 292.9 333.7 292.3 335.4 291.6 337 291 338.2 290.3 339.1 289.7 339.8 289 340.4 288.4 340.9 287.7 341.4 287.1 341.8 286.4 342.2 285.8 342.5 285.1 342.8 284.5 343 283.8 343.2 283.2 343.4 282.5 343.6 281.9 343.8 281.2 344 280.6 344.2 279.9 344.4 279.3 344.5 278.6 344.7 278 344.8 277.3 344.9 276.7 345.1 276 345.2 275.4 345.3 274.7 345.4 274.1 345.5 273.4 345.6 272.8 345.7 272.1 345.8 271.5 345.9 270.8 346 270.2 346.1 269.5 346.2 268.9 346.3 268.2 346.4 267.6 346.4 266.9 346.5 266.3 346.6 265.6 346.7 265 346.7 264.3 346.8 263.7 346.9 263 346.9 262.4 347 261.7 347 261.1 347.1 260.4 347.1 259.8 347.1 259.1 347.2 258.5 347.2 257.8 347.2 257.2 347.2 256.5 347.2 255.9 347.3 255.2 347.3 254.6 347.3 253.9 347.3 253.3 347.3 252.6 347.3 252 347.4 251.3 347.4 250.7 347.4 250 347.4 249.4 347.4 248.7 347.4 248.1 347.4 247.4 347.5 246.8 347.5 246.1 347.5 245.5 347.5 244.8 347.5 244.2 347.5 243.5 347.5 242.9 347.5 242.2 347.5 241.6 347.5 240.9 347.6 240.3 347.6 239.6 347.6 239 347.6 238.3 347.6 237.7 347.6 237 347.6 236.4 347.6 235.7 347.6 235.1 347.6 234.4 347.6 233.8 347.6 233.1 347.6 232.5 347.7 231.8 347.7 231.2 347.7 230.5 347.7 229.9 347.7 229.2 347.7 228.6 347.7 227.9 347.7 227.3 347.7 226.6 347.7 226 347.7 225.3 347.7 224.7 347.7 224 347.7 223.4 347.7 222.7 347.7 222.1 347.7 221.4 347.7 220.8 347.7 220.1 347.7 219.5 347.6 218.8 347.6 218.2 347.5 217.5 347.4 216.9 347.3 216.2 347.2 215.6 347.3 214.9 347.4 214.3 347.7 213.6 348.3 213 348.9 212.3 349.7 211.7 350.5 211 351.3 210.4 352.1 209.7 352.8 209.1 353.4 208.4 353.7 207.8 354.1 207.1 354.5 206.5 354.8 205.8 355.2 205.2 355.5 204.5 355.8 203.9 356.1 203.2 356.4 202.6 356.7 201.9 357 201.3 357.3 200.7 357.5 200.2 357.7 199.6 358 199.1 358.2 198.5 358.4 198 358.6 197.4 358.8 196.9 359 196.3 359.2 195.8 359.4 195.2 359.6 194.7 359.8 194.1 360 193.6 360.1 193.1 360.3 192.5 360.5 192 360.7 191.4 360.9 190.9 361.1 190.3 361.3 189.8 361.5 189.2 361.8 188.7 362 188.1 362.3 187.6 362.5 187 362.8 186.5 363.2 185.9 363.6 185.4 364 185.1 364.3" fill="none" stroke="#f08e48" stroke-width="1.9" stroke-linejoin="round" stroke-linecap="round"/>
<path d="M174.4 367.8 174.6 362.5 174.9 357.9 175.2 353.9 175.5 350.4 175.7 347.3 176 344.6 176.3 342.3 176.5 340.2 176.8 338.3 177.1 336.6 177.4 335 177.6 333.7 177.9 332.4 178.2 331.3 178.5 330.2 178.7 329.2 179 328.3 179.3 327.5 179.6 326.7 179.8 326 180.1 325.3 180.4 324.6 180.7 324 180.9 323.4 181.2 322.8 181.5 322.3 181.7 321.8 182 321.3 182.3 320.8 182.6 320.4 182.8 320 183.1 319.6 183.4 319.2 183.7 318.8 183.9 318.4 184.2 318.1 184.5 317.7 184.8 317.4 185.3 316.7 185.8 316.2 186.4 315.6 186.9 315.1 187.5 314.6 188 314.1 188.6 313.7 189.1 313.3 189.7 312.9 190.2 312.6 191.2 312 191.9 311.6 192.7 311.2 193.4 310.9 194.1 310.6 194.8 310.3 195.6 310 196.3 309.8 197 309.5 197.7 309.3 198.4 309.1 199.2 309 199.9 308.8 200.6 308.7 201.3 308.5 202.1 308.4 202.8 308.3 203.5 308.2 204.2 308.1 204.9 308 205.7 307.9 206.4 307.8 207.1 307.7 207.8 307.6 208.6 307.5 209.3 307.4 210 307.4 210.7 307.3 211.4 307.3 212.2 307.3 212.9 307.3 213.6 307.3 214.3 307.3 215.1 307.4 215.8 307.4 216.5 307.4 217.2 307.4 217.9 307.4 218.7 307.4 219.4 307.3 220.1 307.3 220.8 307.2 221.6 307.1 222.3 307 223 306.9 223.7 306.8 224.4 306.7 225.2 306.6 225.9 306.5 226.6 306.4 227.3 306.3 228.1 306.2 228.8 306.1 229.5 305.9 230.2 305.8 230.9 305.6 231.7 305.5 232.4 305.3 233.1 305.2 233.8 305 234.6 304.9 235.3 304.7 236 304.5 236.7 304.3 237.4 304.2 238.2 304 238.9 303.8 239.6 303.6 240.3 303.4 241.1 303.2 241.8 303.1 242.5 302.9 243.2 302.7 243.9 302.5 244.7 302.3 245.4 302.1 246.1 301.9 246.8 301.7 247.5 301.5 248.3 301.3 249 301.1 249.7 300.9 250.4 300.7 251.2 300.5 251.9 300.3 252.6 300.1 253.3 299.9 254 299.7 254.8 299.4 255.5 299.2 256.2 299 256.9 298.8 257.7 298.5 258.4 298.3 259.1 298.1 259.8 297.9 260.5 297.7 261.3 297.4 262 297.2 262.7 297 263.4 296.8 264.2 296.5 264.9 296.3 265.6 296.1 266.3 295.9 267 295.6 267.8 295.4 268.5 295.2 269.2 295 269.9 294.7 270.7 294.5 271.4 294.3 272.1 294.1 272.8 293.8 273.5 293.6 274.3 293.4 275 293.1 275.7 292.9 276.4 292.6 277.2 292.4 277.9 292.2 278.6 291.9 279.3 291.7 280 291.4 280.8 291.2 281.5 290.9 282.2 290.7 282.9 290.4 283.7 290.1 284.4 289.8 285.1 289.5 285.8 289.2 286.5 288.9 287.3 288.7 288 288.4 288.7 288.2 289.4 288 290.2 287.9 290.9 287.8 291.6 287.7 292.3 287.8 293 287.9 293.8 288 294.5 288.2 295.2 288.5 295.9 288.7 296.7 288.9 297.4 289 298.1 288.9 298.1 300.8 297.4 307.5 296.7 311.3 295.9 314.9 295.2 320.2 294.5 327.9 293.8 331.6 293 334 292.3 335.9 291.6 337.6 290.9 338.8 290.2 339.7 289.4 340.4 288.7 341 288 341.6 287.3 342.1 286.5 342.5 285.8 342.8 285.1 343.1 284.4 343.4 283.7 343.6 282.9 343.8 282.2 344.1 281.5 344.3 280.8 344.5 280 344.7 279.3 344.8 278.6 345 277.9 345.2 277.2 345.3 276.4 345.5 275.7 345.6 275 345.7 274.3 345.9 273.5 346 272.8 346.1 272.1 346.2 271.4 346.3 270.7 346.4 269.9 346.5 269.2 346.6 268.5 346.7 267.8 346.8 267 346.9 266.3 347 265.6 347.1 264.9 347.1 264.2 347.2 263.4 347.3 262.7 347.4 262 347.4 261.3 347.5 260.5 347.5 259.8 347.5 259.1 347.6 258.4 347.6 257.7 347.6 256.9 347.6 256.2 347.7 255.5 347.7 254.8 347.7 254 347.7 253.3 347.8 252.6 347.8 251.9 347.8 251.2 347.8 250.4 347.8 249.7 347.8 249 347.9 248.3 347.9 247.5 347.9 246.8 347.9 246.1 347.9 245.4 347.9 244.7 347.9 243.9 347.9 243.2 348 242.5 348 241.8 348 241.1 348 240.3 348 239.6 348 238.9 348 238.2 348 237.4 348 236.7 348 236 348.1 235.3 348.1 234.6 348.1 233.8 348.1 233.1 348.1 232.4 348.1 231.7 348.1 230.9 348.1 230.2 348.1 229.5 348.1 228.8 348.2 228.1 348.2 227.3 348.2 226.6 348.2 225.9 348.2 225.2 348.2 224.4 348.2 223.7 348.2 223 348.3 222.3 348.3 221.6 348.3 220.8 348.3 220.1 348.3 219.4 348.3 218.7 348.3 217.9 348.2 217.2 348.2 216.5 348.2 215.8 348.2 215.1 348.4 214.3 348.8 213.6 349.4 212.9 350.1 212.2 351 211.4 351.9 210.7 352.7 210 353.5 209.3 354.2 208.6 354.6 207.8 355.1 207.1 355.4 206.4 355.8 205.7 356.2 204.9 356.5 204.2 356.9 203.5 357.2 202.8 357.6 202.1 357.9 201.3 358.2 200.6 358.5 199.9 358.8 199.2 359 198.4 359.3 197.7 359.6 197 359.8 196.3 360.1 195.6 360.3 194.8 360.5 194.1 360.8 193.4 361 192.7 361.2 191.9 361.4 191.2 361.6 190.5 361.8 190 362 189.4 362.1 188.9 362.3 188.3 362.4 187.8 362.6 187.2 362.7 186.7 362.9 186.1 363 185.6 363.1 185 363.3 184.5 363.4 183.9 363.6 183.4 363.7 182.8 363.9 182.3 364 181.7 364.2 181.2 364.4 180.7 364.5 180.1 364.7 179.6 364.9 179 365.1 178.5 365.3 177.9 365.6 177.4 365.8 176.8 366.1 176.3 366.4 175.7 366.7 175.2 367.1 174.6 367.5 174.4 367.8" fill="none" stroke="#f6880e" stroke-width="1.9" stroke-linejoin="round" stroke-linecap="round"/>
<path d="M163.6 370.7 163.9 364.9 164.1 360 164.4 355.7 164.7 351.9 165 348.7 165.2 345.8 165.5 343.3 165.8 341 166.1 339 166.3 337.2 166.6 335.6 166.9 334.2 167.2 332.9 167.4 331.7 167.7 330.5 168 329.5 168.3 328.6 168.5 327.7 168.8 326.9 169.1 326.1 169.3 325.4 169.6 324.7 169.9 324.1 170.2 323.5 170.4 322.9 170.7 322.4 171 321.8 171.3 321.3 171.5 320.9 171.8 320.4 172.1 320 172.4 319.5 172.6 319.1 172.9 318.7 173.2 318.4 173.4 318 173.7 317.7 174 317.3 174.5 316.7 175.1 316.1 175.6 315.6 176.2 315.1 176.7 314.6 177.3 314.1 177.8 313.7 178.4 313.3 178.9 313 179.5 312.6 180.5 312 181.3 311.6 182.1 311.2 182.9 310.8 183.7 310.5 184.5 310.2 185.3 309.9 186.1 309.6 186.9 309.3 187.7 309.1 188.5 308.8 189.3 308.6 190.1 308.4 190.9 308.2 191.7 308 192.4 307.8 193.2 307.6 194 307.5 194.8 307.3 195.6 307.2 196.4 307.1 197.2 307 198 306.9 198.8 306.8 199.6 306.7 200.4 306.6 201.2 306.5 202 306.5 202.8 306.4 203.6 306.3 204.4 306.3 205.2 306.2 206 306.1 206.7 306.1 207.5 306 208.3 305.9 209.1 305.9 209.9 305.9 210.7 305.8 211.5 305.9 212.3 305.9 213.1 305.9 213.9 306 214.7 306 215.5 306.1 216.3 306.1 217.1 306.2 217.9 306.2 218.7 306.2 219.5 306.1 220.3 306.1 221 306 221.8 305.9 222.6 305.8 223.4 305.7 224.2 305.6 225 305.5 225.8 305.3 226.6 305.2 227.4 305.1 228.2 304.9 229 304.8 229.8 304.6 230.6 304.5 231.4 304.3 232.2 304.1 233 303.9 233.8 303.7 234.6 303.5 235.3 303.3 236.1 303.1 236.9 302.9 237.7 302.7 238.5 302.5 239.3 302.2 240.1 302 240.9 301.8 241.7 301.6 242.5 301.3 243.3 301.1 244.1 300.9 244.9 300.7 245.7 300.4 246.5 300.2 247.3 299.9 248.1 299.7 248.8 299.5 249.6 299.2 250.4 299 251.2 298.7 252 298.4 252.8 298.2 253.6 297.9 254.4 297.7 255.2 297.4 256 297.1 256.8 296.8 257.6 296.6 258.4 296.3 259.2 296 260 295.8 260.8 295.5 261.6 295.2 262.4 295 263.1 294.7 263.9 294.4 264.7 294.1 265.5 293.9 266.3 293.6 267.1 293.4 267.9 293.1 268.7 292.8 269.5 292.6 270.3 292.3 271.1 292 271.9 291.7 272.7 291.5 273.5 291.2 274.3 290.9 275.1 290.6 275.9 290.4 276.7 290.1 277.4 289.8 278.2 289.5 279 289.2 279.8 288.9 280.6 288.7 281.4 288.4 282.2 288.1 283 287.8 283.8 287.4 284.6 287.1 285.4 286.7 286.2 286.3 287 286 287.8 285.7 288.6 285.4 289.4 285.2 290.2 285 291 284.9 291.7 285 292.5 285.1 293.3 285.3 294.1 285.5 294.9 285.8 295.7 286.2 296.5 286.6 297.3 286.7 298.1 286.7 298.1 300.8 297.3 310.1 296.5 314.6 295.7 318.4 294.9 325.3 294.1 331.2 293.3 334.1 292.5 336.2 291.7 337.9 291 339.3 290.2 340.2 289.4 341 288.6 341.6 287.8 342.2 287 342.7 286.2 343.1 285.4 343.4 284.6 343.7 283.8 344 283 344.2 282.2 344.4 281.4 344.7 280.6 344.9 279.8 345.1 279 345.3 278.2 345.5 277.4 345.7 276.7 345.8 275.9 346 275.1 346.1 274.3 346.3 273.5 346.4 272.7 346.5 271.9 346.7 271.1 346.8 270.3 346.9 269.5 347 268.7 347.1 267.9 347.2 267.1 347.4 266.3 347.5 265.5 347.5 264.7 347.6 263.9 347.7 263.1 347.8 262.4 347.9 261.6 347.9 260.8 348 260 348 259.2 348.1 258.4 348.1 257.6 348.1 256.8 348.1 256 348.2 255.2 348.2 254.4 348.2 253.6 348.2 252.8 348.3 252 348.3 251.2 348.3 250.4 348.3 249.6 348.3 248.8 348.3 248.1 348.4 247.3 348.4 246.5 348.4 245.7 348.4 244.9 348.4 244.1 348.4 243.3 348.4 242.5 348.5 241.7 348.5 240.9 348.5 240.1 348.5 239.3 348.5 238.5 348.5 237.7 348.5 236.9 348.5 236.1 348.6 235.3 348.6 234.6 348.6 233.8 348.6 233 348.6 232.2 348.6 231.4 348.6 230.6 348.6 229.8 348.7 229 348.7 228.2 348.7 227.4 348.7 226.6 348.8 225.8 348.8 225 348.8 224.2 348.9 223.4 348.9 222.6 348.9 221.8 349 221 349 220.3 349.1 219.5 349.1 218.7 349.1 217.9 349.1 217.1 349.1 216.3 349.2 215.5 349.4 214.7 349.7 213.9 350.3 213.1 351.1 212.3 352 211.5 353 210.7 353.9 209.9 354.8 209.1 355.4 208.3 355.9 207.5 356.3 206.7 356.7 206 357.1 205.2 357.5 204.4 357.9 203.6 358.3 202.8 358.6 202 358.9 201.2 359.3 200.4 359.6 199.6 359.9 198.8 360.2 198 360.5 197.2 360.7 196.4 361 195.6 361.3 194.8 361.5 194 361.8 193.2 362 192.4 362.2 191.7 362.4 190.9 362.7 190.1 362.9 189.3 363.1 188.5 363.3 187.7 363.5 186.9 363.7 186.1 363.9 185.3 364.1 184.5 364.3 183.7 364.5 182.9 364.6 182.1 364.8 181.3 365 180.5 365.2 179.7 365.4 179.2 365.5 178.6 365.7 178.1 365.8 177.6 365.9 177 366.1 176.5 366.2 175.9 366.3 175.4 366.5 174.8 366.6 174.3 366.7 173.7 366.9 173.2 367 172.6 367.1 172.1 367.3 171.5 367.4 171 367.5 170.4 367.7 169.9 367.8 169.3 368 168.8 368.1 168.3 368.3 167.7 368.5 167.2 368.7 166.6 368.9 166.1 369.1 165.5 369.4 165 369.7 164.4 370 163.9 370.4 163.6 370.7" fill="none" stroke="#f0702e" stroke-width="1.9" stroke-linejoin="round" stroke-linecap="round"/>
<path d="M152.8 372.5 153.1 366.4 153.4 361.2 153.7 356.7 153.9 352.8 154.2 349.4 154.5 346.5 154.8 343.9 155 341.6 155.3 339.5 155.6 337.7 155.8 336 156.1 334.6 156.4 333.2 156.7 332 156.9 330.9 157.2 329.8 157.5 328.9 157.8 328 158 327.2 158.3 326.4 158.6 325.7 158.9 325 159.1 324.4 159.4 323.8 159.7 323.2 160 322.6 160.2 322.1 160.5 321.6 160.8 321.1 161 320.7 161.3 320.3 161.6 319.8 161.9 319.4 162.1 319.1 162.4 318.7 162.7 318.3 163 318 163.2 317.7 163.8 317.1 164.3 316.5 164.9 315.9 165.4 315.4 166 315 166.5 314.5 167.1 314.1 167.6 313.7 168.2 313.4 168.7 313 169.8 312.4 170.7 311.9 171.6 311.5 172.4 311.2 173.3 310.8 174.2 310.5 175 310.2 175.9 309.9 176.8 309.6 177.6 309.4 178.5 309.2 179.4 308.9 180.2 308.7 181.1 308.5 182 308.3 182.8 308.1 183.7 307.9 184.6 307.7 185.4 307.6 186.3 307.4 187.2 307.2 188 307 188.9 306.8 189.8 306.7 190.6 306.5 191.5 306.3 192.4 306.2 193.2 306 194.1 305.9 195 305.7 195.8 305.6 196.7 305.5 197.6 305.4 198.4 305.3 199.3 305.2 200.2 305.2 201 305.1 201.9 305 202.8 305 203.6 304.9 204.5 304.9 205.4 304.8 206.2 304.7 207.1 304.7 208 304.6 208.8 304.6 209.7 304.5 210.6 304.5 211.4 304.6 212.3 304.6 213.2 304.7 214 304.8 214.9 304.9 215.8 304.9 216.6 305 217.5 305.1 218.4 305.1 219.2 305 220.1 305 221 304.9 221.8 304.8 222.7 304.7 223.6 304.5 224.4 304.4 225.3 304.3 226.2 304.1 227 304 227.9 303.8 228.8 303.6 229.6 303.5 230.5 303.3 231.4 303 232.2 302.8 233.1 302.6 234 302.4 234.8 302.1 235.7 301.9 236.6 301.6 237.4 301.3 238.3 301.1 239.2 300.8 240 300.5 240.9 300.3 241.8 300 242.6 299.7 243.5 299.5 244.4 299.2 245.2 298.9 246.1 298.6 247 298.4 247.8 298.1 248.7 297.8 249.6 297.5 250.4 297.2 251.3 296.9 252.2 296.6 253 296.3 253.9 295.9 254.8 295.6 255.6 295.3 256.5 295 257.4 294.7 258.2 294.3 259.1 294 260 293.7 260.8 293.4 261.7 293.1 262.6 292.7 263.4 292.4 264.3 292.1 265.2 291.8 266 291.5 266.9 291.2 267.8 290.9 268.6 290.5 269.5 290.2 270.4 289.9 271.2 289.6 272.1 289.3 273 289 273.8 288.7 274.7 288.3 275.6 288 276.4 287.7 277.3 287.4 278.2 287 279 286.7 279.9 286.4 280.8 286 281.6 285.7 282.5 285.3 283.4 285 284.2 284.6 285.1 284.1 286 283.7 286.8 283.3 287.7 282.9 288.6 282.6 289.4 282.4 290.3 282.2 291.2 282.1 292 282.3 292.9 282.5 293.8 282.7 294.6 283.1 295.5 283.7 296.4 284.2 297.2 284.4 298.1 284.5 298.1 300.8 297.2 313.5 296.4 318.4 295.5 322.6 294.6 330 293.8 334.1 292.9 336.4 292 338.2 291.2 339.7 290.3 340.7 289.4 341.5 288.6 342.2 287.7 342.8 286.8 343.3 286 343.7 285.1 344 284.2 344.3 283.4 344.6 282.5 344.8 281.6 345.1 280.8 345.3 279.9 345.6 279 345.8 278.2 346 277.3 346.2 276.4 346.4 275.6 346.6 274.7 346.7 273.8 346.9 273 347 272.1 347.2 271.2 347.3 270.4 347.5 269.5 347.6 268.6 347.7 267.8 347.8 266.9 348 266 348.1 265.2 348.2 264.3 348.3 263.4 348.4 262.6 348.4 261.7 348.5 260.8 348.6 260 348.6 259.1 348.7 258.2 348.7 257.4 348.7 256.5 348.8 255.6 348.8 254.8 348.8 253.9 348.8 253 348.9 252.2 348.9 251.3 348.9 250.4 348.9 249.6 348.9 248.7 349 247.8 349 247 349 246.1 349 245.2 349 244.4 349 243.5 349.1 242.6 349.1 241.8 349.1 240.9 349.1 240 349.1 239.2 349.1 238.3 349.1 237.4 349.2 236.6 349.2 235.7 349.2 234.8 349.2 234 349.2 233.1 349.2 232.2 349.3 231.4 349.3 230.5 349.3 229.6 349.3 228.8 349.4 227.9 349.4 227 349.4 226.2 349.5 225.3 349.6 224.4 349.6 223.6 349.7 222.7 349.8 221.8 349.8 221 349.9 220.1 350 219.2 350.1 218.4 350.2 217.5 350.3 216.6 350.5 215.8 350.7 214.9 351.1 214 351.7 213.2 352.6 212.3 353.6 211.4 354.6 210.6 355.6 209.7 356.4 208.8 357 208 357.5 207.1 357.9 206.2 358.4 205.4 358.8 204.5 359.2 203.6 359.6 202.8 359.9 201.9 360.3 201 360.6 200.2 361 199.3 361.3 198.4 361.6 197.6 361.9 196.7 362.2 195.8 362.4 195 362.7 194.1 363 193.2 363.2 192.4 363.4 191.5 363.7 190.6 363.9 189.8 364.1 188.9 364.3 188 364.5 187.2 364.7 186.3 364.9 185.4 365.1 184.6 365.3 183.7 365.5 182.8 365.7 182 365.9 181.1 366.1 180.2 366.3 179.4 366.5 178.5 366.7 177.6 366.9 176.8 367.1 175.9 367.2 175 367.4 174.2 367.6 173.3 367.8 172.4 368 171.6 368.1 170.7 368.3 169.8 368.5 169 368.6 168.4 368.7 167.9 368.8 167.3 368.9 166.8 369 166.2 369.1 165.7 369.2 165.2 369.3 164.6 369.4 164.1 369.5 163.5 369.6 163 369.7 162.4 369.8 161.9 369.9 161.3 369.9 160.8 370 160.2 370.1 159.7 370.2 159.1 370.3 158.6 370.4 158 370.5 157.5 370.6 156.9 370.8 156.4 370.9 155.8 371.1 155.3 371.2 154.8 371.4 154.2 371.7 153.7 371.9 153.1 372.3 152.8 372.5" fill="none" stroke="#ed5f2c" stroke-width="1.9" stroke-linejoin="round" stroke-linecap="round"/>
<path d="M142.1 376.1 142.4 369.5 142.6 364 142.9 359.2 143.2 355 143.4 351.4 143.7 348.3 144 345.6 144.3 343.1 144.5 341 144.8 339.1 145.1 337.4 145.4 335.9 145.6 334.5 145.9 333.2 146.2 332.1 146.5 331 146.7 330 147 329.1 147.3 328.3 147.6 327.5 147.8 326.8 148.1 326.1 148.4 325.4 148.6 324.8 148.9 324.2 149.2 323.7 149.5 323.1 149.7 322.6 150 322.2 150.3 321.7 150.6 321.3 150.8 320.8 151.1 320.4 151.4 320.1 151.7 319.7 151.9 319.3 152.2 319 152.7 318.4 153.3 317.8 153.8 317.2 154.4 316.7 154.9 316.2 155.5 315.8 156 315.4 156.6 315 157.1 314.6 157.7 314.3 158.2 313.9 159.2 313.4 160.1 313 161 312.5 162 312.1 162.9 311.8 163.9 311.4 164.8 311.1 165.7 310.8 166.7 310.5 167.6 310.2 168.5 309.9 169.5 309.7 170.4 309.4 171.4 309.2 172.3 308.9 173.2 308.7 174.2 308.5 175.1 308.3 176.1 308.1 177 307.9 177.9 307.7 178.9 307.5 179.8 307.3 180.8 307.1 181.7 306.9 182.6 306.7 183.6 306.5 184.5 306.3 185.4 306.1 186.4 305.9 187.3 305.7 188.3 305.5 189.2 305.3 190.1 305.1 191.1 304.9 192 304.8 193 304.6 193.9 304.4 194.8 304.3 195.8 304.1 196.7 304 197.6 303.9 198.6 303.8 199.5 303.7 200.5 303.6 201.4 303.5 202.3 303.5 203.3 303.4 204.2 303.3 205.2 303.3 206.1 303.2 207 303.2 208 303.1 208.9 303.1 209.9 303 210.8 303 211.7 303.1 212.7 303.2 213.6 303.3 214.5 303.4 215.5 303.6 216.4 303.7 217.4 303.7 218.3 303.8 219.2 303.7 220.2 303.7 221.1 303.6 222.1 303.5 223 303.3 223.9 303.2 224.9 303 225.8 302.8 226.8 302.7 227.7 302.5 228.6 302.3 229.6 302.1 230.5 301.8 231.4 301.6 232.4 301.3 233.3 301 234.3 300.7 235.2 300.4 236.1 300.1 237.1 299.8 238 299.5 239 299.2 239.9 298.9 240.8 298.5 241.8 298.2 242.7 297.9 243.7 297.6 244.6 297.3 245.5 296.9 246.5 296.6 247.4 296.3 248.3 295.9 249.3 295.6 250.2 295.2 251.2 294.8 252.1 294.5 253 294.1 254 293.7 254.9 293.3 255.9 293 256.8 292.6 257.7 292.2 258.7 291.8 259.6 291.4 260.5 291.1 261.5 290.7 262.4 290.3 263.4 289.9 264.3 289.5 265.2 289.2 266.2 288.8 267.1 288.4 268.1 288.1 269 287.7 269.9 287.4 270.9 287 271.8 286.6 272.8 286.3 273.7 285.9 274.6 285.5 275.6 285.1 276.5 284.8 277.4 284.4 278.4 284 279.3 283.6 280.3 283.2 281.2 282.9 282.1 282.5 283.1 282 284 281.5 285 281.1 285.9 280.6 286.8 280.1 287.8 279.7 288.7 279.3 289.7 279 290.6 278.9 291.5 278.9 292.5 279.2 293.4 279.5 294.3 280 295.3 280.7 296.2 281.4 297.2 281.8 298.1 281.9 298.1 300.8 297.2 317.1 296.2 322.2 295.3 326.9 294.3 333.5 293.4 336.4 292.5 338.4 291.5 340 290.6 341.1 289.7 342 288.7 342.7 287.8 343.3 286.8 343.8 285.9 344.2 285 344.5 284 344.9 283.1 345.2 282.1 345.4 281.2 345.7 280.3 346 279.3 346.2 278.4 346.4 277.4 346.7 276.5 346.9 275.6 347.1 274.6 347.3 273.7 347.4 272.8 347.6 271.8 347.8 270.9 347.9 269.9 348.1 269 348.2 268.1 348.4 267.1 348.5 266.2 348.6 265.2 348.7 264.3 348.9 263.4 349 262.4 349 261.5 349.1 260.5 349.2 259.6 349.2 258.7 349.3 257.7 349.3 256.8 349.4 255.9 349.4 254.9 349.4 254 349.4 253 349.5 252.1 349.5 251.2 349.5 250.2 349.5 249.3 349.6 248.3 349.6 247.4 349.6 246.5 349.6 245.5 349.6 244.6 349.7 243.7 349.7 242.7 349.7 241.8 349.7 240.8 349.7 239.9 349.7 239 349.7 238 349.8 237.1 349.8 236.1 349.8 235.2 349.8 234.3 349.8 233.3 349.9 232.4 349.9 231.4 349.9 230.5 349.9 229.6 350 228.6 350 227.7 350.1 226.8 350.2 225.8 350.2 224.9 350.3 223.9 350.4 223 350.6 222.1 350.7 221.1 350.8 220.2 350.9 219.2 351.1 218.3 351.3 217.4 351.5 216.4 351.8 215.5 352.3 214.5 352.8 213.6 353.7 212.7 354.7 211.7 355.8 210.8 356.8 209.9 357.7 208.9 358.4 208 358.9 207 359.4 206.1 359.8 205.2 360.2 204.2 360.6 203.3 361 202.3 361.4 201.4 361.8 200.5 362.1 199.5 362.5 198.6 362.8 197.6 363.1 196.7 363.4 195.8 363.7 194.8 364 193.9 364.2 193 364.5 192 364.7 191.1 365 190.1 365.2 189.2 365.4 188.3 365.6 187.3 365.8 186.4 366 185.4 366.2 184.5 366.4 183.6 366.6 182.6 366.8 181.7 367 180.8 367.2 179.8 367.4 178.9 367.6 177.9 367.8 177 367.9 176.1 368.1 175.1 368.3 174.2 368.5 173.2 368.7 172.3 368.8 171.4 369 170.4 369.2 169.5 369.3 168.5 369.5 167.6 369.6 166.7 369.8 165.7 369.9 164.8 370 163.9 370.2 162.9 370.3 162 370.4 161 370.6 160.1 370.7 159.2 370.8 158.2 370.9 157.7 370.9 156.9 371 156 371.1 155.2 371.1 154.4 371.2 153.6 371.3 152.7 371.3 151.9 371.4 151.1 371.5 150.6 371.5 150 371.6 149.5 371.7 148.9 371.7 148.4 371.8 147.8 371.9 147.3 372.1 146.7 372.2 146.2 372.4 145.6 372.7 145.1 372.9 144.5 373.3 144 373.7 143.4 374.2 142.9 374.9 142.6 375.2 142.4 375.6 142.1 376.1" fill="none" stroke="#ec6424" stroke-width="1.9" stroke-linejoin="round" stroke-linecap="round"/>
<path d="M131.3 381.2 131.6 374 131.9 367.9 132.1 362.6 132.4 358.1 132.7 354.3 133 350.9 133.2 347.9 133.5 345.4 133.8 343.1 134.1 341.1 134.3 339.3 134.6 337.7 134.9 336.2 135.1 334.9 135.4 333.7 135.7 332.6 136 331.6 136.2 330.7 136.5 329.8 136.8 329 137.1 328.3 137.3 327.6 137.6 326.9 137.9 326.3 138.2 325.7 138.4 325.1 138.7 324.6 139 324.1 139.3 323.6 139.5 323.2 139.8 322.8 140.1 322.4 140.3 322 140.6 321.6 140.9 321.2 141.2 320.9 141.4 320.6 142 319.9 142.5 319.4 143.1 318.8 143.6 318.3 144.2 317.9 144.7 317.4 145.3 317 145.8 316.6 146.4 316.3 146.9 315.9 147.5 315.6 148.5 315.1 149.5 314.6 150.5 314.1 151.5 313.7 152.5 313.3 153.5 312.9 154.5 312.5 155.5 312.2 156.6 311.9 157.6 311.5 158.6 311.2 159.6 310.9 160.6 310.6 161.6 310.4 162.6 310.1 163.6 309.8 164.6 309.5 165.7 309.3 166.7 309 167.7 308.7 168.7 308.5 169.7 308.2 170.7 308 171.7 307.7 172.7 307.5 173.7 307.2 174.8 307 175.8 306.7 176.8 306.5 177.8 306.3 178.8 306 179.8 305.8 180.8 305.6 181.8 305.3 182.8 305.1 183.9 304.9 184.9 304.6 185.9 304.4 186.9 304.1 187.9 303.9 188.9 303.6 189.9 303.4 190.9 303.2 191.9 302.9 193 302.7 194 302.5 195 302.3 196 302.2 197 302 198 301.9 199 301.8 200 301.7 201 301.6 202.1 301.5 203.1 301.5 204.1 301.4 205.1 301.3 206.1 301.3 207.1 301.2 208.1 301.1 209.1 301.1 210.1 301.1 211.2 301.2 212.2 301.3 213.2 301.4 214.2 301.6 215.2 301.8 216.2 301.9 217.2 302 218.2 302.1 219.2 302.1 220.3 302 221.3 301.9 222.3 301.8 223.3 301.6 224.3 301.4 225.3 301.2 226.3 301 227.3 300.8 228.3 300.6 229.4 300.3 230.4 300 231.4 299.7 232.4 299.4 233.4 299.1 234.4 298.7 235.4 298.3 236.4 298 237.4 297.6 238.5 297.2 239.5 296.8 240.5 296.4 241.5 296 242.5 295.6 243.5 295.3 244.5 294.9 245.5 294.5 246.5 294.1 247.5 293.7 248.6 293.3 249.6 292.8 250.6 292.4 251.6 292 252.6 291.5 253.6 291.1 254.6 290.6 255.6 290.2 256.6 289.7 257.7 289.2 258.7 288.8 259.7 288.3 260.7 287.9 261.7 287.4 262.7 287 263.7 286.5 264.7 286.1 265.7 285.6 266.8 285.2 267.8 284.8 268.8 284.3 269.8 283.9 270.8 283.5 271.8 283.1 272.8 282.6 273.8 282.2 274.8 281.8 275.9 281.3 276.9 280.9 277.9 280.5 278.9 280 279.9 279.6 280.9 279.1 281.9 278.7 282.9 278.2 283.9 277.6 285 277 286 276.4 287 275.9 288 275.4 289 275 290 274.7 291 274.7 292 274.9 293 275.4 294.1 275.9 295.1 276.7 296.1 277.7 297.1 278.3 298.1 278.6 298.1 300.8 297.1 322.2 296.1 327.5 295.1 332.2 294.1 336.8 293 338.9 292 340.5 291 341.8 290 342.6 289 343.4 288 344 287 344.5 286 344.9 285 345.3 283.9 345.6 282.9 345.9 281.9 346.2 280.9 346.5 279.9 346.8 278.9 347 277.9 347.3 276.9 347.5 275.9 347.8 274.8 348 273.8 348.2 272.8 348.4 271.8 348.6 270.8 348.8 269.8 348.9 268.8 349.1 267.8 349.3 266.8 349.4 265.7 349.6 264.7 349.7 263.7 349.8 262.7 349.9 261.7 350 260.7 350.1 259.7 350.1 258.7 350.2 257.7 350.2 256.6 350.3 255.6 350.3 254.6 350.3 253.6 350.4 252.6 350.4 251.6 350.4 250.6 350.5 249.6 350.5 248.6 350.5 247.5 350.5 246.5 350.5 245.5 350.6 244.5 350.6 243.5 350.6 242.5 350.6 241.5 350.6 240.5 350.6 239.5 350.7 238.5 350.7 237.4 350.7 236.4 350.7 235.4 350.8 234.4 350.8 233.4 350.8 232.4 350.8 231.4 350.9 230.4 350.9 229.4 351 228.3 351.1 227.3 351.2 226.3 351.3 225.3 351.4 224.3 351.6 223.3 351.7 222.3 351.9 221.3 352.1 220.3 352.3 219.2 352.6 218.2 352.9 217.2 353.4 216.2 353.9 215.2 354.6 214.2 355.4 213.2 356.5 212.2 357.6 211.2 358.7 210.1 359.6 209.1 360.4 208.1 360.9 207.1 361.4 206.1 361.9 205.1 362.3 204.1 362.7 203.1 363.1 202.1 363.5 201 363.9 200 364.2 199 364.6 198 364.9 197 365.2 196 365.5 195 365.8 194 366 193 366.3 191.9 366.5 190.9 366.8 189.9 367 188.9 367.2 187.9 367.4 186.9 367.6 185.9 367.8 184.9 368 183.9 368.2 182.8 368.4 181.8 368.5 180.8 368.7 179.8 368.9 178.8 369.1 177.8 369.2 176.8 369.4 175.8 369.6 174.8 369.7 173.7 369.9 172.7 370 171.7 370.2 170.7 370.3 169.7 370.5 168.7 370.6 167.7 370.7 166.7 370.9 165.7 371 164.6 371.1 163.6 371.2 162.6 371.3 161.6 371.4 160.6 371.5 159.6 371.6 158.6 371.7 157.6 371.8 156.6 371.9 155.5 372 154.5 372 153.5 372.1 152.5 372.1 151.5 372.2 150.5 372.2 149.5 372.3 148.5 372.3 147.5 372.3 146.6 372.4 145.8 372.4 145 372.4 144.2 372.5 143.4 372.5 142.5 372.6 141.7 372.6 141.2 372.7 140.6 372.8 140.1 372.8 139.5 372.9 139 373 138.4 373.2 137.9 373.3 137.3 373.5 136.8 373.7 136.2 374 135.7 374.3 135.1 374.6 134.6 375.1 134.1 375.7 133.8 376 133.5 376.4 133.2 376.8 133 377.3 132.7 377.8 132.4 378.3 132.1 379 131.9 379.6 131.6 380.4 131.3 381.2" fill="none" stroke="#e6592c" stroke-width="1.9" stroke-linejoin="round" stroke-linecap="round"/>
<path d="M120.6 388.6 120.8 380.6 121.1 373.7 121.4 367.9 121.7 362.9 121.9 358.6 122.2 354.9 122.5 351.7 122.7 348.8 123 346.3 123.3 344.1 123.6 342.1 123.8 340.3 124.1 338.8 124.4 337.3 124.7 336 124.9 334.8 125.2 333.7 125.5 332.7 125.8 331.8 126 330.9 126.3 330.1 126.6 329.4 126.9 328.7 127.1 328 127.4 327.4 127.7 326.9 127.9 326.3 128.2 325.8 128.5 325.3 128.8 324.9 129 324.4 129.3 324 129.6 323.6 129.9 323.2 130.1 322.9 130.4 322.5 131 321.9 131.5 321.3 132 320.8 132.6 320.3 133.1 319.9 133.7 319.4 134.2 319.1 134.8 318.7 135.3 318.4 135.9 318 136.4 317.7 137.8 317.1 138.9 316.6 139.9 316.1 141 315.7 142.1 315.3 143.2 314.9 144.3 314.5 145.4 314.1 146.4 313.7 147.5 313.4 148.6 313 149.7 312.7 150.8 312.3 151.9 312 152.9 311.6 154 311.3 155.1 311 156.2 310.6 157.3 310.3 158.4 310 159.4 309.6 160.5 309.3 161.6 309 162.7 308.7 163.8 308.3 164.9 308 165.9 307.7 167 307.4 168.1 307 169.2 306.7 170.3 306.4 171.4 306.1 172.4 305.7 173.5 305.4 174.6 305.1 175.7 304.8 176.8 304.5 177.9 304.2 178.9 303.9 180 303.7 181.1 303.4 182.2 303.1 183.3 302.8 184.4 302.5 185.4 302.1 186.5 301.8 187.6 301.5 188.7 301.2 189.8 300.9 190.9 300.6 191.9 300.3 193 300.1 194.1 299.8 195.2 299.6 196.3 299.4 197.4 299.2 198.4 299 199.5 298.9 200.6 298.8 201.7 298.7 202.8 298.6 203.9 298.6 204.9 298.5 206 298.4 207.1 298.4 208.2 298.3 209.3 298.3 210.4 298.3 211.4 298.4 212.5 298.6 213.6 298.9 214.7 299.1 215.8 299.3 216.9 299.5 217.9 299.7 219 299.7 220.1 299.6 221.2 299.5 222.3 299.3 223.4 299.1 224.4 298.9 225.5 298.7 226.6 298.4 227.7 298.2 228.8 297.9 229.9 297.5 230.9 297.2 232 296.8 233.1 296.4 234.2 295.9 235.3 295.5 236.4 295 237.4 294.5 238.5 294.1 239.6 293.6 240.7 293.1 241.8 292.6 242.9 292.1 243.9 291.7 245 291.2 246.1 290.7 247.2 290.2 248.3 289.7 249.4 289.1 250.4 288.6 251.5 288.1 252.6 287.5 253.7 287 254.8 286.4 255.9 285.8 256.9 285.3 258 284.7 259.1 284.2 260.2 283.6 261.3 283 262.4 282.5 263.4 281.9 264.5 281.4 265.6 280.9 266.7 280.3 267.8 279.8 268.9 279.3 269.9 278.8 271 278.3 272.1 277.8 273.2 277.3 274.3 276.7 275.4 276.2 276.4 275.7 277.5 275.2 278.6 274.7 279.7 274.1 280.8 273.6 281.9 273.1 282.9 272.5 284 271.8 285.1 271.1 286.2 270.4 287.3 269.7 288.4 269.2 289.4 268.8 290.5 268.6 291.6 268.8 292.7 269.3 293.8 270 294.9 271 295.9 272.4 297 273.4 298.1 273.8 298.1 300.8 297 327.2 295.9 332.6 294.9 336.7 293.8 339.5 292.7 341.1 291.6 342.3 290.5 343.3 289.4 344 288.4 344.6 287.3 345.1 286.2 345.6 285.1 346 284 346.3 282.9 346.6 281.9 347 280.8 347.3 279.7 347.6 278.6 347.9 277.5 348.1 276.4 348.4 275.4 348.7 274.3 348.9 273.2 349.1 272.1 349.4 271 349.6 269.9 349.8 268.9 350 267.8 350.1 266.7 350.3 265.6 350.5 264.5 350.6 263.4 350.7 262.4 350.8 261.3 350.9 260.2 351 259.1 351.1 258 351.1 256.9 351.2 255.9 351.2 254.8 351.3 253.7 351.3 252.6 351.3 251.5 351.4 250.4 351.4 249.4 351.4 248.3 351.4 247.2 351.4 246.1 351.5 245 351.5 243.9 351.5 242.9 351.5 241.8 351.5 240.7 351.6 239.6 351.6 238.5 351.6 237.4 351.6 236.4 351.7 235.3 351.7 234.2 351.7 233.1 351.8 232 351.8 230.9 351.9 229.9 351.9 228.8 352 227.7 352.1 226.6 352.3 225.5 352.5 224.4 352.7 223.4 352.9 222.3 353.2 221.2 353.5 220.1 353.8 219 354.2 217.9 354.7 216.9 355.4 215.8 356.3 214.7 357.2 213.6 358.3 212.5 359.5 211.4 360.6 210.4 361.6 209.3 362.4 208.2 363 207.1 363.5 206 363.9 204.9 364.4 203.9 364.8 202.8 365.2 201.7 365.6 200.6 366 199.5 366.3 198.4 366.6 197.4 367 196.3 367.3 195.2 367.6 194.1 367.8 193 368.1 191.9 368.3 190.9 368.6 189.8 368.8 188.7 369 187.6 369.2 186.5 369.4 185.4 369.6 184.4 369.7 183.3 369.9 182.2 370.1 181.1 370.2 180 370.4 178.9 370.5 177.9 370.7 176.8 370.8 175.7 370.9 174.6 371.1 173.5 371.2 172.4 371.3 171.4 371.5 170.3 371.6 169.2 371.7 168.1 371.8 167 371.9 165.9 372 164.9 372.1 163.8 372.2 162.7 372.3 161.6 372.4 160.5 372.5 159.4 372.6 158.4 372.7 157.3 372.7 156.2 372.8 155.1 372.9 154 372.9 152.9 373 151.9 373 150.8 373.1 149.7 373.1 148.6 373.2 147.5 373.2 146.4 373.2 145.4 373.3 144.3 373.3 143.2 373.4 142.1 373.4 141 373.4 139.9 373.5 138.9 373.6 137.8 373.6 136.7 373.7 135.9 373.8 135.1 373.9 134.5 373.9 134 374 133.4 374.2 132.9 374.3 132.3 374.5 131.8 374.7 131.2 375 130.7 375.2 130.1 375.5 129.6 375.8 129 376.2 128.5 376.5 127.9 376.9 127.4 377.4 126.9 377.8 126.3 378.3 125.8 378.9 125.2 379.5 124.7 380.1 124.4 380.5 124.1 380.8 123.8 381.2 123.6 381.7 123.3 382.1 123 382.6 122.7 383.1 122.5 383.6 122.2 384.2 121.9 384.8 121.7 385.4 121.4 386.1 121.1 386.9 120.8 387.7 120.6 388.6" fill="none" stroke="#e0521c" stroke-width="1.9" stroke-linejoin="round" stroke-linecap="round"/>
<path d="M109.8 401.6 110.1 395.2 110.3 389.4 110.6 384.1 110.9 379.3 111.2 374.9 111.4 370.8 111.7 367.1 112 363.6 112.3 360.5 112.5 357.6 112.8 355 113.1 352.6 113.4 350.4 113.6 348.4 113.9 346.5 114.2 344.9 114.5 343.4 114.7 342 115 340.8 115.3 339.6 115.5 338.5 115.8 337.5 116.1 336.6 116.4 335.7 116.6 335 116.9 334.2 117.2 333.5 117.5 332.9 117.7 332.3 118 331.7 118.3 331.1 118.6 330.6 118.8 330.1 119.1 329.6 119.4 329.1 119.6 328.7 119.9 328.2 120.2 327.8 120.5 327.3 120.7 326.9 121 326.5 121.3 326.1 121.6 325.7 121.8 325.3 122.1 325 122.4 324.6 122.7 324.3 122.9 323.9 123.2 323.6 123.8 323 124.3 322.4 124.8 321.8 125.4 321.3 125.9 320.9 127.1 320.1 128.3 319.4 129.4 318.7 130.6 318.2 131.7 317.6 132.9 317.2 134 316.7 135.2 316.3 136.3 315.9 137.5 315.4 138.6 315 139.8 314.6 141 314.2 142.1 313.8 143.3 313.3 144.4 312.9 145.6 312.5 146.7 312 147.9 311.6 149 311.2 150.2 310.7 151.4 310.3 152.5 309.8 153.7 309.4 154.8 308.9 156 308.5 157.1 308.1 158.3 307.6 159.4 307.2 160.6 306.7 161.8 306.3 162.9 305.8 164.1 305.4 165.2 304.9 166.4 304.5 167.5 304 168.7 303.6 169.8 303.1 171 302.6 172.2 302.2 173.3 301.8 174.5 301.3 175.6 300.9 176.8 300.5 177.9 300 179.1 299.6 180.2 299.2 181.4 298.8 182.6 298.4 183.7 298 184.9 297.5 186 297.1 187.2 296.6 188.3 296.2 189.5 295.7 190.6 295.3 191.8 294.9 193 294.6 194.1 294.2 195.3 293.9 196.4 293.6 197.6 293.4 198.7 293.1 199.9 293 201 292.9 202.2 292.8 203.4 292.7 204.5 292.6 205.7 292.6 206.8 292.5 208 292.5 209.1 292.5 210.3 292.5 211.4 292.7 212.6 293.1 213.8 293.4 214.9 293.8 216.1 294.2 217.2 294.5 218.4 294.7 219.5 294.7 220.7 294.6 221.8 294.4 223 294.1 224.2 293.9 225.3 293.5 226.5 293.2 227.6 292.9 228.8 292.5 229.9 292 231.1 291.5 232.2 291 233.4 290.4 234.6 289.8 235.7 289.2 236.9 288.5 238 287.9 239.2 287.2 240.3 286.6 241.5 285.9 242.6 285.2 243.8 284.6 244.9 284 246.1 283.3 247.3 282.6 248.4 281.9 249.6 281.2 250.7 280.5 251.9 279.7 253 279 254.2 278.2 255.3 277.5 256.5 276.7 257.7 275.9 258.8 275.2 260 274.4 261.1 273.7 262.3 272.9 263.4 272.2 264.6 271.5 265.7 270.8 266.9 270.1 268.1 269.4 269.2 268.7 270.4 268 271.5 267.4 272.7 266.7 273.8 266 275 265.4 276.1 264.7 277.3 264.1 278.5 263.4 279.6 262.7 280.8 262 281.9 261.3 283.1 260.5 284.2 259.6 285.4 258.7 286.5 257.7 287.7 256.9 288.9 256.3 290 256 291.2 256 292.3 256.8 293.5 257.9 294.6 259.3 295.8 261.4 296.9 263 298.1 263.8 298.1 300.8 296.9 333.8 295.8 339.1 294.6 341.2 293.5 342.5 292.3 343.5 291.2 344.2 290 344.9 288.9 345.5 287.7 346 286.5 346.5 285.4 346.9 284.2 347.2 283.1 347.6 281.9 347.9 280.8 348.2 279.6 348.6 278.5 348.9 277.3 349.2 276.1 349.5 275 349.8 273.8 350 272.7 350.3 271.5 350.6 270.4 350.8 269.2 351 268.1 351.2 266.9 351.4 265.7 351.6 264.6 351.8 263.4 351.9 262.3 352 261.1 352.1 260 352.2 258.8 352.3 257.7 352.4 256.5 352.4 255.3 352.5 254.2 352.5 253 352.5 251.9 352.6 250.7 352.6 249.6 352.6 248.4 352.7 247.3 352.7 246.1 352.7 244.9 352.7 243.8 352.7 242.6 352.8 241.5 352.8 240.3 352.8 239.2 352.8 238 352.9 236.9 352.9 235.7 352.9 234.6 353 233.4 353 232.2 353.1 231.1 353.2 229.9 353.2 228.8 353.3 227.6 353.5 226.5 353.7 225.3 354 224.2 354.3 223 354.7 221.8 355 220.7 355.4 219.5 355.9 218.4 356.6 217.2 357.6 216.1 358.8 214.9 360 213.8 361.3 212.6 362.5 211.4 363.7 210.3 364.6 209.1 365.4 208 365.9 206.8 366.4 205.7 366.8 204.5 367.2 203.4 367.6 202.2 368 201 368.4 199.9 368.8 198.7 369.1 197.6 369.4 196.4 369.7 195.3 370 194.1 370.3 193 370.5 191.8 370.7 190.6 371 189.5 371.2 188.3 371.3 187.2 371.5 186 371.7 184.9 371.8 183.7 372 182.6 372.1 181.4 372.2 180.2 372.4 179.1 372.5 177.9 372.6 176.8 372.7 175.6 372.8 174.5 372.9 173.3 373 172.2 373 171 373.1 169.8 373.2 168.7 373.3 167.5 373.4 166.4 373.4 165.2 373.5 164.1 373.6 162.9 373.6 161.8 373.7 160.6 373.8 159.4 373.8 158.3 373.9 157.1 373.9 156 374 154.8 374 153.7 374.1 152.5 374.1 151.4 374.2 150.2 374.3 149 374.3 147.9 374.4 146.7 374.4 145.6 374.5 144.4 374.5 143.3 374.6 142.1 374.6 141 374.7 139.8 374.8 138.6 374.8 137.5 374.9 136.3 375 135.2 375.2 134 375.3 132.9 375.7 131.7 376.2 130.6 376.8 129.4 377.5 128.3 378.2 127.1 379.1 125.9 380 125.4 380.4 124.8 380.9 124.3 381.3 123.8 381.8 123.2 382.2 122.7 382.7 122.1 383.1 121.6 383.5 121 384 120.5 384.4 119.9 384.8 119.4 385.2 118.8 385.6 118.3 386.1 117.7 386.5 117.2 387 116.6 387.5 116.1 388 115.5 388.6 115 389.2 114.7 389.6 114.5 389.9 114.2 390.3 113.9 390.7 113.6 391 113.4 391.5 113.1 391.9 112.8 392.4 112.5 392.9 112.3 393.6 112 394.3 111.7 395.1 111.4 395.9 111.2 396.8 110.9 397.7 110.6 398.7 110.3 399.7 110.1 400.6 109.8 401.6" fill="none" stroke="#dc4812" stroke-width="1.9" stroke-linejoin="round" stroke-linecap="round"/>
</g>
<rect x="82.9" y="238" width="242.1" height="179.3" fill="none" stroke="#000" stroke-width="2"/>
<path d="M82.9 417.3L82.9 420.1" stroke="#000" stroke-width="1.6"/>
<path d="M109.8 417.3L109.8 421.6" stroke="#000" stroke-width="1.6"/>
<path d="M136.7 417.3L136.7 420.1" stroke="#000" stroke-width="1.6"/>
<path d="M163.6 417.3L163.6 421.6" stroke="#000" stroke-width="1.6"/>
<path d="M190.5 417.3L190.5 420.1" stroke="#000" stroke-width="1.6"/>
<path d="M217.4 417.3L217.4 421.6" stroke="#000" stroke-width="1.6"/>
<path d="M244.3 417.3L244.3 420.1" stroke="#000" stroke-width="1.6"/>
<path d="M271.2 417.3L271.2 421.6" stroke="#000" stroke-width="1.6"/>
<path d="M298.1 417.3L298.1 420.1" stroke="#000" stroke-width="1.6"/>
<path d="M325 417.3L325 421.6" stroke="#000" stroke-width="1.6"/>
<path d="M79.1 417.3L82.9 417.3" stroke="#000" stroke-width="1.6"/>
<path d="M80.3 394.9L82.9 394.9" stroke="#000" stroke-width="1.6"/>
<path d="M79.1 372.5L82.9 372.5" stroke="#000" stroke-width="1.6"/>
<path d="M80.3 350.1L82.9 350.1" stroke="#000" stroke-width="1.6"/>
<path d="M79.1 327.6L82.9 327.6" stroke="#000" stroke-width="1.6"/>
<path d="M80.3 305.2L82.9 305.2" stroke="#000" stroke-width="1.6"/>
<path d="M79.1 282.8L82.9 282.8" stroke="#000" stroke-width="1.6"/>
<path d="M80.3 260.4L82.9 260.4" stroke="#000" stroke-width="1.6"/>
<path d="M79.1 238L82.9 238" stroke="#000" stroke-width="1.6"/>
<text x="109.8" y="435.6" font-size="15.4" text-anchor="middle">1</text>
<text x="163.6" y="435.6" font-size="15.4" text-anchor="middle">2</text>
<text x="217.4" y="435.6" font-size="15.4" text-anchor="middle">3</text>
<text x="271.2" y="435.6" font-size="15.4" text-anchor="middle">4</text>
<text x="325" y="435.6" font-size="15.4" text-anchor="middle">5</text>
<text x="76.9" y="421" font-size="15.4" text-anchor="end">-400</text>
<text x="76.9" y="376.2" font-size="15.4" text-anchor="end">-200</text>
<text x="76.9" y="331.3" font-size="15.4" text-anchor="end">0</text>
<text x="76.9" y="286.5" font-size="15.4" text-anchor="end">200</text>
<text x="76.9" y="241.7" font-size="15.4" text-anchor="end">400</text>
<path d="M84.6 249.3L105.4 249.3" stroke="#f6880e" stroke-width="2.2"/>
<text x="107.8" y="252.1" font-size="13" text-anchor="start" textLength="31.3" lengthAdjust="spacingAndGlyphs">2.2 V</text>
<path d="M143.3 249.3L164.1 249.3" stroke="#f0702e" stroke-width="2.2"/>
<text x="166.5" y="252.1" font-size="13" text-anchor="start" textLength="31.3" lengthAdjust="spacingAndGlyphs">2.0 V</text>
<path d="M205.8 249.3L226.6 249.3" stroke="#ed5f2c" stroke-width="2.2"/>
<text x="229" y="252.1" font-size="13" text-anchor="start" textLength="31.3" lengthAdjust="spacingAndGlyphs">1.8 V</text>
<path d="M264.4 249.3L285.2 249.3" stroke="#ec6424" stroke-width="2.2"/>
<text x="287.6" y="252.1" font-size="13" text-anchor="start" textLength="31.3" lengthAdjust="spacingAndGlyphs">1.6 V</text>
<path d="M84.6 266.6L105.4 266.6" stroke="#e6592c" stroke-width="2.2"/>
<text x="107.8" y="269.4" font-size="13" text-anchor="start" textLength="31.3" lengthAdjust="spacingAndGlyphs">1.4 V</text>
<path d="M143.3 266.6L164.1 266.6" stroke="#e0521c" stroke-width="2.2"/>
<text x="166.5" y="269.4" font-size="13" text-anchor="start" textLength="31.3" lengthAdjust="spacingAndGlyphs">1.2 V</text>
<path d="M202.5 266.6L223.3 266.6" stroke="#dc4812" stroke-width="2.2"/>
<text x="225.7" y="269.4" font-size="13" text-anchor="start" textLength="31.3" lengthAdjust="spacingAndGlyphs">1.0 V</text>
<path d="M144.6 389L165.4 389" stroke="#f8dc3c" stroke-width="2.2"/>
<text x="167.8" y="391.8" font-size="13" text-anchor="start" textLength="31.3" lengthAdjust="spacingAndGlyphs">3.4 V</text>
<path d="M203 389L223.8 389" stroke="#f8b432" stroke-width="2.2"/>
<text x="226.2" y="391.8" font-size="13" text-anchor="start" textLength="31.3" lengthAdjust="spacingAndGlyphs">3.2 V</text>
<path d="M261.4 389L282.2 389" stroke="#f6aa22" stroke-width="2.2"/>
<text x="284.6" y="391.8" font-size="13" text-anchor="start" textLength="31.3" lengthAdjust="spacingAndGlyphs">3.0 V</text>
<path d="M144.6 405.6L165.4 405.6" stroke="#f5a020" stroke-width="2.2"/>
<text x="167.8" y="408.4" font-size="13" text-anchor="start" textLength="31.3" lengthAdjust="spacingAndGlyphs">2.8 V</text>
<path d="M203 405.6L223.8 405.6" stroke="#f39a3a" stroke-width="2.2"/>
<text x="226.2" y="408.4" font-size="13" text-anchor="start" textLength="31.3" lengthAdjust="spacingAndGlyphs">2.6 V</text>
<path d="M261.4 405.6L282.2 405.6" stroke="#f08e48" stroke-width="2.2"/>
<text x="284.6" y="408.4" font-size="13" text-anchor="start" textLength="31.3" lengthAdjust="spacingAndGlyphs">2.4 V</text>
<text x="200.1" y="458.7" font-size="15.3" text-anchor="middle" textLength="148.4" lengthAdjust="spacingAndGlyphs">Voltage (V. vs. Li<tspan dy="-4.8" font-size="9">+</tspan><tspan dy="4.8">/Li)</tspan></text>
<text transform="translate(38.7,330.2) rotate(-90)" font-size="15.3" text-anchor="middle" textLength="194" lengthAdjust="spacingAndGlyphs">Specific capacitance (F g<tspan dy="-4.8" font-size="9">-1</tspan><tspan dy="4.8">)</tspan></text>
<text x="-0.5" y="250.6" font-size="26" text-anchor="start">c</text>
<g clip-path="url(#clipD)">
<path d="M452.9 339.3 453.2 338.2 453.6 337.1 454 336 454.4 335 454.7 334 455.1 333.1 455.5 332.2 455.8 331.3 456.2 330.5 456.6 329.7 457 328.9 457.3 328.2 457.7 327.5 458.1 326.9 458.4 326.3 458.8 325.8 459.2 325.2 459.6 324.7 459.9 324.3 460.3 323.9 460.7 323.7 461.4 323.4 462.2 323.3 462.9 323.1 463.7 323 464.7 322.9 465.7 322.8 466.8 322.7 467.8 322.6 468.8 322.5 469.9 322.4 470.9 322.3 471.9 322.2 473 322.1 474 322 475 321.9 476.1 321.8 477.1 321.7 478.1 321.7 479.2 321.6 480.2 321.5 481.2 321.4 482.3 321.3 483.3 321.2 484.4 321.2 485.4 321.1 486.4 321 487.5 320.9 488.5 320.8 489.5 320.7 490.6 320.6 491.6 320.5 492.6 320.4 493.7 320.3 494.7 320.1 495.7 320 496.8 319.9 497.8 319.8 498.8 319.7 499.9 319.5 500.9 319.4 502 319.3 503 319.1 504 319 505.1 318.9 506.1 318.7 507.1 318.6 508.2 318.5 509.2 318.3 510.2 318.2 511.3 318.1 512.3 317.9 513.3 317.8 514.4 317.7 515.4 317.5 516.4 317.4 517.5 317.3 518.5 317.1 519.5 317 520.6 316.9 521.6 316.7 522.7 316.6 523.7 316.5 524.7 316.4 525.8 316.3 526.8 316.1 527.8 316 528.9 315.9 529.9 315.8 530.9 315.7 532 315.6 533 315.4 534 315.3 535.1 315.2 536.1 315.1 537.1 315 538.2 314.9 539.2 314.8 540.2 314.6 541.3 314.5 542.3 314.4 543.4 314.3 544.4 314.2 545.4 314.1 546.5 313.9 547.5 313.8 548.5 313.7 549.6 313.6 550.6 313.4 551.6 313.3 552.7 313.2 553.7 313 554.7 312.9 555.8 312.8 556.8 312.6 557.8 312.5 558.9 312.3 559.9 312.2 561 312.1 562 311.9 563 311.8 564.1 311.6 565.1 311.5 566.1 311.4 565.1 315.1 564.1 317.9 563 320.1 562 322.1 561 323.6 559.9 324.9 558.9 326 557.8 327.1 556.8 328 555.8 328.8 554.7 329.6 553.7 330.2 552.7 330.7 551.6 331.2 550.6 331.6 549.6 332 548.5 332.3 547.5 332.7 546.5 333 545.4 333.3 544.4 333.6 543.4 333.8 542.3 334.1 541.3 334.3 540.2 334.5 539.2 334.7 538.2 334.8 537.1 335 536.1 335.2 535.1 335.3 534 335.5 533 335.6 532 335.7 530.9 335.9 529.9 336 528.9 336.1 527.8 336.2 526.8 336.3 525.8 336.4 524.7 336.5 523.7 336.5 522.7 336.6 521.6 336.7 520.6 336.7 519.5 336.8 518.5 336.8 517.5 336.9 516.4 336.9 515.4 337 514.4 337 513.3 337.1 512.3 337.1 511.3 337.2 510.2 337.2 509.2 337.3 508.2 337.3 507.1 337.3 506.1 337.4 505.1 337.4 504 337.5 503 337.5 502 337.5 500.9 337.6 499.9 337.6 498.8 337.6 497.8 337.7 496.8 337.7 495.7 337.7 494.7 337.8 493.7 337.8 492.6 337.8 491.6 337.9 490.6 337.9 489.5 337.9 488.5 338 487.5 338 486.4 338 485.4 338.1 484.4 338.1 483.3 338.1 482.3 338.2 481.2 338.2 480.2 338.2 479.2 338.3 478.1 338.3 477.1 338.3 476.1 338.4 475 338.4 474 338.4 473 338.5 471.9 338.5 470.9 338.5 469.9 338.6 468.8 338.6 467.8 338.6 466.8 338.7 465.7 338.7 464.7 338.7 463.7 338.8 462.9 338.8 462.2 338.9 461.4 338.9 460.7 338.9 459.9 339 459.2 339 458.4 339 457.7 339.1 457 339.1 456.2 339.1 455.5 339.2 454.7 339.2 454 339.3 453.2 339.3 452.9 339.3" fill="none" stroke="#8fd9ea" stroke-width="1.9" stroke-linejoin="round" stroke-linecap="round"/>
<path d="M566.1 344.5 566.5 344.3 566.9 344 567.2 343.7 567.6 343.4 568 343.1 568.4 342.8 568.7 342.5 569.1 342.2 569.5 341.9 569.8 341.6 570.2 341.2 570.6 340.9 571 340.6 571.3 340.2 571.7 339.9 572.1 339.5 572.4 339.1 572.8 338.7 573.2 338.3 573.6 337.9 573.9 337.4 574.3 337 574.7 336.6 575.1 336.1 575.4 335.7 575.8 335.2 576.2 334.8 576.5 334.3 576.9 333.9 577.7 333 578.6 332.1 579.4 331.3 580.2 330.6 581 329.9 581.8 329.2 582.6 328.6 583.5 328 584.3 327.4 585.1 326.8 585.9 326.2 586.7 325.7 587.6 325.2 588.4 324.7 589.2 324.2 590 323.8 590.8 323.3 591.7 322.9 592.5 322.5 593.3 322.1 594.1 321.7 594.9 321.4 595.8 321 596.6 320.7 597.4 320.4 598.2 320.1 599 319.8 599.9 319.5 600.7 319.3 601.5 319 602.3 318.8 603.1 318.6 603.9 318.3 604.8 318.1 605.6 317.9 606.4 317.8 607.2 317.6 608 317.4 608.9 317.2 609.7 317 610.5 316.8 611.3 316.7 612.1 316.5 613 316.3 613.8 316.1 614.6 315.9 615.4 315.7 616.2 315.5 617.1 315.3 617.9 315 618.7 314.8 619.5 314.6 620.3 314.4 621.2 314.2 622 314 622.8 313.8 623.6 313.6 624.4 313.4 625.2 313.1 626.1 312.9 626.9 312.7 627.7 312.4 628.5 312.1 629.3 311.9 630.2 311.6 631 311.3 631.8 311 632.6 310.7 633.4 310.4 634.3 310 635.1 309.7 635.9 309.3 636.7 309 637.5 308.6 638.4 308.2 639.2 307.7 640 307.3 640.8 306.8 641.6 306.4 640.8 311 640 315 639.2 318.6 638.4 321.9 637.5 324.3 636.7 326 635.9 327.4 635.1 328.7 634.3 329.8 633.4 330.8 632.6 331.6 631.8 332.3 631 332.8 630.2 333.2 629.3 333.6 628.5 333.9 627.7 334.2 626.9 334.5 626.1 334.8 625.2 335 624.4 335.2 623.6 335.4 622.8 335.6 622 335.8 621.2 335.9 620.3 336.1 619.5 336.2 618.7 336.3 617.9 336.4 617.1 336.5 616.2 336.6 615.4 336.7 614.6 336.8 613.8 336.9 613 337 612.1 337.1 611.3 337.1 610.5 337.2 609.7 337.3 608.9 337.3 608 337.4 607.2 337.5 606.4 337.5 605.6 337.6 604.8 337.7 603.9 337.8 603.1 337.9 602.3 338 601.5 338.1 600.7 338.2 599.9 338.3 599 338.4 598.2 338.6 597.4 338.7 596.6 338.9 595.8 339 594.9 339.2 594.1 339.4 593.3 339.6 592.5 339.8 591.7 340 590.8 340.2 590 340.4 589.2 340.6 588.4 340.8 587.6 341 586.7 341.2 585.9 341.4 585.1 341.6 584.3 341.8 583.5 342 582.6 342.2 581.8 342.4 581 342.5 580.2 342.7 579.4 342.9 578.6 343 577.7 343.1 576.9 343.3 576.2 343.4 575.4 343.5 574.7 343.6 573.9 343.7 573.2 343.8 572.4 343.9 571.7 344 571 344 570.2 344.1 569.5 344.2 568.7 344.3 568 344.4 567.2 344.4 566.5 344.5 566.1 344.5" fill="none" stroke="#8fd9ea" stroke-width="1.9" stroke-linejoin="round" stroke-linecap="round"/>
<path d="M452.9 348.5 453.2 341.2 453.6 338.5 454 337 454.4 335.8 454.7 334.6 455.1 333.4 455.5 332.4 455.8 331.4 456.2 330.5 456.6 329.6 457 328.8 457.3 328 457.7 327.3 458.1 326.7 458.4 326.1 458.8 325.6 459.2 325.1 459.6 324.6 459.9 324.1 460.3 323.7 460.7 323.4 461.4 323.1 462.2 322.8 462.9 322.5 463.7 322.3 464.7 322.1 465.7 321.9 466.8 321.7 467.8 321.5 468.8 321.3 469.9 321.1 470.9 320.9 471.9 320.8 473 320.6 474 320.5 475 320.3 476.1 320.2 477.1 320 478.1 319.9 479.2 319.7 480.2 319.6 481.2 319.5 482.3 319.3 483.3 319.2 484.4 319.1 485.4 318.9 486.4 318.8 487.5 318.7 488.5 318.5 489.5 318.4 490.6 318.2 491.6 318 492.6 317.9 493.7 317.7 494.7 317.5 495.7 317.4 496.8 317.2 497.8 317 498.8 316.8 499.9 316.7 500.9 316.5 502 316.3 503 316.1 504 316 505.1 315.8 506.1 315.6 507.1 315.4 508.2 315.2 509.2 315.1 510.2 314.9 511.3 314.7 512.3 314.5 513.3 314.4 514.4 314.2 515.4 314 516.4 313.9 517.5 313.7 518.5 313.6 519.5 313.4 520.6 313.3 521.6 313.1 522.7 313 523.7 312.9 524.7 312.7 525.8 312.6 526.8 312.5 527.8 312.4 528.9 312.3 529.9 312.2 530.9 312 532 311.9 533 311.8 534 311.7 535.1 311.6 536.1 311.5 537.1 311.4 538.2 311.3 539.2 311.2 540.2 311.1 541.3 311 542.3 310.9 543.4 310.8 544.4 310.6 545.4 310.5 546.5 310.4 547.5 310.3 548.5 310.2 549.6 310.1 550.6 310 551.6 309.9 552.7 309.8 553.7 309.7 554.7 309.5 555.8 309.4 556.8 309.3 557.8 309.2 558.9 309.1 559.9 309 561 308.9 562 308.7 563 308.6 564.1 308.5 565.1 308.4 566.1 308.3 566.1 319.4 565.1 322.2 564.1 324.3 563 326.1 562 327.5 561 328.7 559.9 329.6 558.9 330.5 557.8 331.3 556.8 332 555.8 332.6 554.7 333.2 553.7 333.6 552.7 334 551.6 334.4 550.6 334.7 549.6 335 548.5 335.3 547.5 335.5 546.5 335.8 545.4 336 544.4 336.2 543.4 336.4 542.3 336.6 541.3 336.8 540.2 336.9 539.2 337 538.2 337.2 537.1 337.3 536.1 337.4 535.1 337.6 534 337.7 533 337.8 532 337.9 530.9 338 529.9 338.1 528.9 338.2 527.8 338.2 526.8 338.3 525.8 338.4 524.7 338.5 523.7 338.5 522.7 338.6 521.6 338.7 520.6 338.7 519.5 338.8 518.5 338.9 517.5 338.9 516.4 339 515.4 339.1 514.4 339.1 513.3 339.2 512.3 339.3 511.3 339.4 510.2 339.4 509.2 339.5 508.2 339.6 507.1 339.6 506.1 339.7 505.1 339.8 504 339.8 503 339.9 502 340 500.9 340 499.9 340.1 498.8 340.2 497.8 340.2 496.8 340.3 495.7 340.4 494.7 340.4 493.7 340.5 492.6 340.6 491.6 340.7 490.6 340.7 489.5 340.8 488.5 340.9 487.5 340.9 486.4 341 485.4 341.1 484.4 341.1 483.3 341.2 482.3 341.2 481.2 341.3 480.2 341.4 479.2 341.4 478.1 341.5 477.1 341.5 476.1 341.6 475 341.6 474 341.7 473 341.8 471.9 341.8 470.9 341.9 469.9 342 468.8 342.1 467.8 342.2 466.8 342.4 465.7 342.5 464.7 342.7 463.7 342.8 462.9 343 462.2 343.1 461.4 343.3 460.7 343.5 459.9 343.7 459.2 343.9 458.4 344.1 457.7 344.4 457 344.8 456.2 345.1 455.5 345.6 455.1 345.9 454.7 346.2 454.4 346.5 454 346.9 453.6 347.4 453.2 347.9 452.9 348.5" fill="none" stroke="#7fc3ea" stroke-width="1.9" stroke-linejoin="round" stroke-linecap="round"/>
<path d="M566.1 344.5 566.5 343.4 566.9 342.3 567.2 341.3 567.6 340.4 568 339.6 568.4 338.9 568.7 338.3 569.1 337.7 569.5 337.2 569.8 336.6 570.2 336.1 570.6 335.7 571 335.2 571.3 334.8 571.7 334.4 572.1 334 572.4 333.5 572.8 333.1 573.2 332.7 573.6 332.2 573.9 331.8 574.3 331.4 574.7 331 575.1 330.6 575.4 330.1 575.8 329.7 576.2 329.3 576.5 329 576.9 328.6 577.7 327.8 578.6 327 579.4 326.4 580.2 325.8 581 325.2 581.8 324.7 582.6 324.2 583.5 323.7 584.3 323.2 585.1 322.8 585.9 322.3 586.7 321.9 587.6 321.5 588.4 321.1 589.2 320.8 590 320.4 590.8 320.1 591.7 319.7 592.5 319.4 593.3 319.1 594.1 318.8 594.9 318.5 595.8 318.3 596.6 318 597.4 317.8 598.2 317.5 599 317.3 599.9 317.1 600.7 316.9 601.5 316.7 602.3 316.5 603.1 316.3 603.9 316.1 604.8 316 605.6 315.8 606.4 315.7 607.2 315.5 608 315.4 608.9 315.2 609.7 315.1 610.5 314.9 611.3 314.8 612.1 314.6 613 314.4 613.8 314.3 614.6 314.1 615.4 313.9 616.2 313.8 617.1 313.6 617.9 313.4 618.7 313.3 619.5 313.1 620.3 312.9 621.2 312.8 622 312.6 622.8 312.4 623.6 312.2 624.4 312.1 625.2 311.9 626.1 311.7 626.9 311.5 627.7 311.3 628.5 311 629.3 310.8 630.2 310.6 631 310.4 631.8 310.1 632.6 309.9 633.4 309.6 634.3 309.4 635.1 309.1 635.9 308.8 636.7 308.5 637.5 308.2 638.4 307.9 639.2 307.5 640 307.1 640.8 306.8 641.6 306.4 640.8 315.3 640 319.5 639.2 322.6 638.4 325.2 637.5 327.1 636.7 328.4 635.9 329.6 635.1 330.6 634.3 331.5 633.4 332.3 632.6 333 631.8 333.5 631 334 630.2 334.3 629.3 334.7 628.5 335 627.7 335.2 626.9 335.5 626.1 335.7 625.2 335.9 624.4 336.1 623.6 336.3 622.8 336.5 622 336.7 621.2 336.8 620.3 337 619.5 337.1 618.7 337.2 617.9 337.3 617.1 337.4 616.2 337.6 615.4 337.7 614.6 337.8 613.8 337.8 613 337.9 612.1 338 611.3 338.1 610.5 338.2 609.7 338.3 608.9 338.3 608 338.4 607.2 338.5 606.4 338.6 605.6 338.7 604.8 338.7 603.9 338.8 603.1 338.9 602.3 339 601.5 339.1 600.7 339.2 599.9 339.3 599 339.4 598.2 339.5 597.4 339.6 596.6 339.7 595.8 339.9 594.9 340 594.1 340.1 593.3 340.3 592.5 340.4 591.7 340.6 590.8 340.7 590 340.9 589.2 341.1 588.4 341.2 587.6 341.4 586.7 341.5 585.9 341.7 585.1 341.8 584.3 342 583.5 342.2 582.6 342.3 581.8 342.4 581 342.6 580.2 342.7 579.4 342.8 578.6 343 577.7 343.1 576.9 343.2 576.2 343.3 575.4 343.4 574.7 343.4 573.9 343.5 573.2 343.6 572.4 343.7 571.7 343.8 571 343.9 570.2 344 569.5 344.1 568.7 344.2 568 344.3 567.2 344.4 566.5 344.5 566.1 344.5" fill="none" stroke="#7fc3ea" stroke-width="1.9" stroke-linejoin="round" stroke-linecap="round"/>
<path d="M452.9 357.6 453.2 344.3 453.6 340 454 338 454.4 336.5 454.7 335.1 455.1 333.8 455.5 332.6 455.8 331.5 456.2 330.4 456.6 329.5 457 328.6 457.3 327.9 457.7 327.2 458.1 326.5 458.4 326 458.8 325.4 459.2 324.9 459.6 324.4 459.9 323.9 460.3 323.5 460.7 323.2 461 323 461.8 322.5 462.5 322.1 463.3 321.8 464.7 321.3 465.7 321 466.8 320.7 467.8 320.4 468.8 320.1 469.9 319.9 470.9 319.6 471.9 319.4 473 319.1 474 318.9 475 318.7 476.1 318.5 477.1 318.3 478.1 318.1 479.2 317.9 480.2 317.7 481.2 317.5 482.3 317.4 483.3 317.2 484.4 317 485.4 316.8 486.4 316.6 487.5 316.4 488.5 316.2 489.5 316 490.6 315.8 491.6 315.6 492.6 315.4 493.7 315.2 494.7 315 495.7 314.7 496.8 314.5 497.8 314.3 498.8 314 499.9 313.8 500.9 313.6 502 313.4 503 313.1 504 312.9 505.1 312.7 506.1 312.4 507.1 312.2 508.2 312 509.2 311.8 510.2 311.6 511.3 311.4 512.3 311.2 513.3 310.9 514.4 310.8 515.4 310.6 516.4 310.4 517.5 310.2 518.5 310 519.5 309.8 520.6 309.7 521.6 309.5 522.7 309.4 523.7 309.2 524.7 309.1 525.8 309 526.8 308.9 527.8 308.8 528.9 308.6 529.9 308.5 530.9 308.4 532 308.3 533 308.2 534 308.1 535.1 308 536.1 307.9 537.1 307.8 538.2 307.7 539.2 307.6 540.2 307.5 541.3 307.4 542.3 307.3 543.4 307.2 544.4 307.1 545.4 307 546.5 306.9 547.5 306.8 548.5 306.7 549.6 306.7 550.6 306.6 551.6 306.5 552.7 306.4 553.7 306.3 554.7 306.2 555.8 306.1 556.8 306 557.8 305.9 558.9 305.8 559.9 305.7 561 305.6 562 305.6 563 305.5 564.1 305.4 565.1 305.3 566.1 305.3 566.1 327.5 565.1 329.4 564.1 330.8 563 332 562 333 561 333.8 559.9 334.4 558.9 335 557.8 335.5 556.8 336 555.8 336.4 554.7 336.8 553.7 337.1 552.7 337.4 551.6 337.6 550.6 337.8 549.6 338 548.5 338.2 547.5 338.4 546.5 338.6 545.4 338.7 544.4 338.9 543.4 339 542.3 339.1 541.3 339.2 540.2 339.3 539.2 339.4 538.2 339.5 537.1 339.6 536.1 339.7 535.1 339.8 534 339.9 533 340 532 340 530.9 340.1 529.9 340.2 528.9 340.2 527.8 340.3 526.8 340.4 525.8 340.4 524.7 340.5 523.7 340.5 522.7 340.6 521.6 340.7 520.6 340.7 519.5 340.8 518.5 340.9 517.5 341 516.4 341.1 515.4 341.2 514.4 341.2 513.3 341.3 512.3 341.4 511.3 341.5 510.2 341.6 509.2 341.7 508.2 341.8 507.1 341.9 506.1 342 505.1 342.1 504 342.2 503 342.3 502 342.4 500.9 342.5 499.9 342.6 498.8 342.7 497.8 342.8 496.8 342.9 495.7 343 494.7 343.1 493.7 343.2 492.6 343.3 491.6 343.4 490.6 343.6 489.5 343.7 488.5 343.8 487.5 343.9 486.4 344 485.4 344.1 484.4 344.2 483.3 344.2 482.3 344.3 481.2 344.4 480.2 344.5 479.2 344.6 478.1 344.6 477.1 344.7 476.1 344.8 475 344.9 474 345 473 345.1 471.9 345.2 470.9 345.3 469.9 345.5 468.8 345.6 467.8 345.8 466.8 346.1 465.7 346.3 464.7 346.6 463.7 346.9 462.9 347.1 462.2 347.4 461.4 347.7 460.7 348 459.9 348.3 459.2 348.7 458.4 349.2 458.1 349.5 457.7 349.8 457.3 350.1 457 350.4 456.6 350.8 456.2 351.1 455.8 351.5 455.5 352 455.1 352.5 454.7 353.1 454.4 353.8 454 354.6 453.6 355.5 453.2 356.5 452.9 357.6" fill="none" stroke="#19a2d9" stroke-width="1.9" stroke-linejoin="round" stroke-linecap="round"/>
<path d="M566.1 344.5 566.5 342.6 566.9 340.7 567.2 339 567.6 337.4 568 336.1 568.4 335 568.7 334.1 569.1 333.2 569.5 332.5 569.8 331.7 570.2 331.1 570.6 330.4 571 329.9 571.3 329.4 571.7 328.9 572.1 328.4 572.4 327.9 572.8 327.5 573.2 327.1 573.6 326.6 573.9 326.2 574.3 325.8 574.7 325.4 575.1 325 575.4 324.6 575.8 324.3 576.2 323.9 576.5 323.6 576.9 323.3 577.7 322.6 578.6 322 579.4 321.5 580.2 321 581 320.6 581.8 320.2 582.6 319.8 583.5 319.4 584.3 319.1 585.1 318.8 585.9 318.4 586.7 318.1 587.6 317.8 588.4 317.6 589.2 317.3 590 317 590.8 316.8 591.7 316.6 592.5 316.3 593.3 316.1 594.1 315.9 594.9 315.7 595.8 315.5 596.6 315.3 597.4 315.2 598.2 315 599 314.8 599.9 314.6 600.7 314.5 601.5 314.3 602.3 314.2 603.1 314.1 603.9 313.9 604.8 313.8 605.6 313.7 606.4 313.6 607.2 313.4 608 313.3 608.9 313.2 609.7 313.1 610.5 313 611.3 312.9 612.1 312.7 613 312.6 613.8 312.5 614.6 312.4 615.4 312.2 616.2 312.1 617.1 312 617.9 311.8 618.7 311.7 619.5 311.6 620.3 311.4 621.2 311.3 622 311.2 622.8 311 623.6 310.9 624.4 310.7 625.2 310.6 626.1 310.4 626.9 310.3 627.7 310.1 628.5 310 629.3 309.8 630.2 309.6 631 309.4 631.8 309.3 632.6 309.1 633.4 308.9 634.3 308.7 635.1 308.5 635.9 308.3 636.7 308 637.5 307.8 638.4 307.6 639.2 307.3 640 307 640.8 306.7 641.6 306.4 640.8 319.7 640 324 639.2 326.5 638.4 328.5 637.5 329.9 636.7 330.9 635.9 331.8 635.1 332.5 634.3 333.2 633.4 333.8 632.6 334.3 631.8 334.8 631 335.2 630.2 335.5 629.3 335.7 628.5 336 627.7 336.3 626.9 336.5 626.1 336.7 625.2 336.9 624.4 337.1 623.6 337.3 622.8 337.4 622 337.6 621.2 337.7 620.3 337.8 619.5 338 618.7 338.1 617.9 338.2 617.1 338.4 616.2 338.5 615.4 338.6 614.6 338.7 613.8 338.8 613 338.9 612.1 339 611.3 339.1 610.5 339.2 609.7 339.3 608.9 339.4 608 339.4 607.2 339.5 606.4 339.6 605.6 339.7 604.8 339.8 603.9 339.9 603.1 339.9 602.3 340 601.5 340.1 600.7 340.2 599.9 340.2 599 340.3 598.2 340.4 597.4 340.5 596.6 340.6 595.8 340.7 594.9 340.8 594.1 340.9 593.3 341 592.5 341.1 591.7 341.2 590.8 341.3 590 341.4 589.2 341.5 588.4 341.7 587.6 341.8 586.7 341.9 585.9 342 585.1 342.1 584.3 342.2 583.5 342.3 582.6 342.4 581.8 342.5 581 342.6 580.2 342.7 579.4 342.8 578.6 342.9 577.7 343 576.9 343.1 576.2 343.1 575.4 343.2 574.7 343.3 573.9 343.4 573.2 343.5 572.4 343.6 571.7 343.7 571 343.8 570.2 343.9 569.5 344 568.7 344.1 568 344.3 567.2 344.4 566.5 344.5 566.1 344.5" fill="none" stroke="#19a2d9" stroke-width="1.9" stroke-linejoin="round" stroke-linecap="round"/>
<path d="M452.9 366.7 453.2 347.3 453.6 341.5 454 338.9 454.4 337.2 454.7 335.6 455.1 334.1 455.5 332.8 455.8 331.5 456.2 330.4 456.6 329.4 457 328.5 457.3 327.7 457.7 327 458.1 326.4 458.4 325.8 458.8 325.2 459.2 324.7 459.6 324.2 459.9 323.8 460.3 323.4 460.7 323 461 322.7 461.4 322.4 461.8 322.1 462.2 321.8 462.5 321.6 462.9 321.4 463.7 320.9 464.7 320.4 465.7 320 466.8 319.6 467.8 319.3 468.8 318.9 469.9 318.6 470.9 318.3 471.9 317.9 473 317.6 474 317.4 475 317.1 476.1 316.8 477.1 316.6 478.1 316.3 479.2 316.1 480.2 315.8 481.2 315.6 482.3 315.4 483.3 315.1 484.4 314.9 485.4 314.7 486.4 314.4 487.5 314.2 488.5 314 489.5 313.7 490.6 313.4 491.6 313.2 492.6 312.9 493.7 312.6 494.7 312.4 495.7 312.1 496.8 311.8 497.8 311.5 498.8 311.2 499.9 311 500.9 310.7 502 310.4 503 310.1 504 309.8 505.1 309.6 506.1 309.3 507.1 309 508.2 308.8 509.2 308.5 510.2 308.3 511.3 308 512.3 307.8 513.3 307.5 514.4 307.3 515.4 307.1 516.4 306.9 517.5 306.7 518.5 306.5 519.5 306.3 520.6 306.1 521.6 305.9 522.7 305.8 523.7 305.6 524.7 305.5 525.8 305.4 526.8 305.2 527.8 305.1 528.9 305 529.9 304.9 530.9 304.8 532 304.7 533 304.6 534 304.5 535.1 304.4 536.1 304.3 537.1 304.2 538.2 304.1 539.2 304 540.2 303.9 541.3 303.8 542.3 303.7 543.4 303.7 544.4 303.6 545.4 303.5 546.5 303.4 547.5 303.3 548.5 303.3 549.6 303.2 550.6 303.1 551.6 303.1 552.7 303 553.7 302.9 554.7 302.8 555.8 302.7 556.8 302.7 557.8 302.6 558.9 302.5 559.9 302.5 561 302.4 562 302.4 563 302.3 564.1 302.3 565.1 302.3 566.1 302.2 566.1 335.6 565.1 336.5 564.1 337.3 563 337.9 562 338.4 561 338.8 559.9 339.1 558.9 339.4 557.8 339.7 556.8 340 555.8 340.2 554.7 340.4 553.7 340.6 552.7 340.7 551.6 340.8 550.6 340.9 549.6 341.1 548.5 341.2 547.5 341.3 546.5 341.3 545.4 341.4 544.4 341.5 543.4 341.6 542.3 341.6 541.3 341.7 540.2 341.8 539.2 341.8 538.2 341.9 537.1 341.9 536.1 342 535.1 342 534 342.1 533 342.1 532 342.2 530.9 342.2 529.9 342.3 528.9 342.3 527.8 342.4 526.8 342.4 525.8 342.5 524.7 342.5 523.7 342.6 522.7 342.6 521.6 342.7 520.6 342.8 519.5 342.8 518.5 342.9 517.5 343 516.4 343.1 515.4 343.2 514.4 343.4 513.3 343.5 512.3 343.6 511.3 343.7 510.2 343.8 509.2 343.9 508.2 344.1 507.1 344.2 506.1 344.3 505.1 344.4 504 344.5 503 344.7 502 344.8 500.9 344.9 499.9 345.1 498.8 345.2 497.8 345.4 496.8 345.5 495.7 345.6 494.7 345.8 493.7 345.9 492.6 346.1 491.6 346.2 490.6 346.4 489.5 346.5 488.5 346.7 487.5 346.8 486.4 346.9 485.4 347.1 484.4 347.2 483.3 347.3 482.3 347.4 481.2 347.5 480.2 347.6 479.2 347.7 478.1 347.8 477.1 347.9 476.1 348 475 348.1 474 348.3 473 348.4 471.9 348.5 470.9 348.7 469.9 348.9 468.8 349.2 467.8 349.5 466.8 349.8 465.7 350.1 464.7 350.5 463.7 350.9 462.9 351.3 462.2 351.6 461.4 352.1 460.7 352.5 460.3 352.8 459.9 353 459.6 353.3 459.2 353.6 458.8 353.9 458.4 354.3 458.1 354.7 457.7 355.1 457.3 355.6 457 356 456.6 356.6 456.2 357.1 455.8 357.7 455.5 358.4 455.1 359.2 454.7 360 454.4 361 454 362.2 453.6 363.6 453.2 365.1 452.9 366.7" fill="none" stroke="#1a96d7" stroke-width="1.9" stroke-linejoin="round" stroke-linecap="round"/>
<path d="M566.1 344.5 566.5 341.7 566.9 339.1 567.2 336.6 567.6 334.4 568 332.5 568.4 331.1 568.7 329.9 569.1 328.8 569.5 327.7 569.8 326.8 570.2 326 570.6 325.2 571 324.5 571.3 323.9 571.7 323.4 572.1 322.9 572.4 322.4 572.8 321.9 573.2 321.4 573.6 321 573.9 320.6 574.3 320.2 574.7 319.8 575.1 319.4 575.4 319.1 575.8 318.8 576.2 318.5 576.5 318.2 576.9 318 577.7 317.5 578.6 317 579.4 316.6 580.2 316.2 581 315.9 581.8 315.6 582.6 315.4 583.5 315.2 584.3 314.9 585.1 314.7 585.9 314.5 586.7 314.4 587.6 314.2 588.4 314 589.2 313.8 590 313.7 590.8 313.5 591.7 313.4 592.5 313.3 593.3 313.1 594.1 313 594.9 312.9 595.8 312.8 596.6 312.7 597.4 312.5 598.2 312.4 599 312.3 599.9 312.2 600.7 312.1 601.5 312 602.3 311.9 603.1 311.8 603.9 311.7 604.8 311.6 605.6 311.6 606.4 311.5 607.2 311.4 608 311.3 608.9 311.2 609.7 311.1 610.5 311.1 611.3 311 612.1 310.9 613 310.8 613.8 310.7 614.6 310.6 615.4 310.5 616.2 310.4 617.1 310.3 617.9 310.2 618.7 310.1 619.5 310 620.3 309.9 621.2 309.8 622 309.7 622.8 309.6 623.6 309.5 624.4 309.4 625.2 309.3 626.1 309.2 626.9 309.1 627.7 309 628.5 308.9 629.3 308.7 630.2 308.6 631 308.5 631.8 308.4 632.6 308.3 633.4 308.2 634.3 308 635.1 307.9 635.9 307.7 636.7 307.6 637.5 307.4 638.4 307.2 639.2 307 640 306.8 640.8 306.6 641.6 306.4 640.8 324 640 328.5 639.2 330.5 638.4 331.8 637.5 332.7 636.7 333.4 635.9 334 635.1 334.5 634.3 334.9 633.4 335.3 632.6 335.7 631.8 336 631 336.3 630.2 336.6 629.3 336.8 628.5 337.1 627.7 337.3 626.9 337.5 626.1 337.7 625.2 337.8 624.4 338 623.6 338.2 622.8 338.3 622 338.5 621.2 338.6 620.3 338.7 619.5 338.9 618.7 339 617.9 339.1 617.1 339.3 616.2 339.4 615.4 339.5 614.6 339.6 613.8 339.7 613 339.8 612.1 340 611.3 340.1 610.5 340.2 609.7 340.3 608.9 340.4 608 340.5 607.2 340.6 606.4 340.6 605.6 340.7 604.8 340.8 603.9 340.9 603.1 341 602.3 341 601.5 341.1 600.7 341.2 599.9 341.2 599 341.3 598.2 341.3 597.4 341.4 596.6 341.5 595.8 341.5 594.9 341.6 594.1 341.7 593.3 341.7 592.5 341.8 591.7 341.8 590.8 341.9 590 342 589.2 342 588.4 342.1 587.6 342.2 586.7 342.2 585.9 342.3 585.1 342.3 584.3 342.4 583.5 342.5 582.6 342.5 581.8 342.6 581 342.7 580.2 342.7 579.4 342.8 578.6 342.9 577.7 342.9 576.9 343 576.2 343 575.4 343.1 574.7 343.2 573.9 343.3 573.2 343.4 572.4 343.5 571.7 343.6 571 343.7 570.2 343.8 569.5 343.9 568.7 344.1 568 344.2 567.2 344.3 566.5 344.5 566.1 344.5" fill="none" stroke="#1a96d7" stroke-width="1.9" stroke-linejoin="round" stroke-linecap="round"/>
<path d="M452.9 375.9 453.2 350.3 453.6 342.9 454 339.9 454.4 338 454.7 336.2 455.1 334.5 455.5 332.9 455.8 331.6 456.2 330.4 456.6 329.3 457 328.3 457.3 327.6 457.7 326.8 458.1 326.2 458.4 325.6 458.8 325 459.2 324.5 459.6 324 459.9 323.6 460.3 323.2 460.7 322.8 461 322.4 461.4 322 461.8 321.7 462.2 321.4 462.5 321.1 462.9 320.8 463.3 320.5 463.7 320.2 464.7 319.6 465.7 319.1 466.8 318.6 467.8 318.2 468.8 317.7 469.9 317.3 470.9 316.9 471.9 316.5 473 316.2 474 315.8 475 315.5 476.1 315.2 477.1 314.8 478.1 314.5 479.2 314.3 480.2 314 481.2 313.7 482.3 313.4 483.3 313.1 484.4 312.8 485.4 312.6 486.4 312.3 487.5 312 488.5 311.7 489.5 311.4 490.6 311.1 491.6 310.7 492.6 310.4 493.7 310.1 494.7 309.8 495.7 309.4 496.8 309.1 497.8 308.8 498.8 308.4 499.9 308.1 500.9 307.8 502 307.4 503 307.1 504 306.8 505.1 306.5 506.1 306.2 507.1 305.8 508.2 305.5 509.2 305.2 510.2 304.9 511.3 304.7 512.3 304.4 513.3 304.1 514.4 303.8 515.4 303.6 516.4 303.3 517.5 303.1 518.5 302.9 519.5 302.7 520.6 302.5 521.6 302.3 522.7 302.1 523.7 302 524.7 301.9 525.8 301.7 526.8 301.6 527.8 301.5 528.9 301.4 529.9 301.3 530.9 301.2 532 301 533 300.9 534 300.8 535.1 300.8 536.1 300.7 537.1 300.6 538.2 300.5 539.2 300.4 540.2 300.3 541.3 300.3 542.3 300.2 543.4 300.1 544.4 300 545.4 300 546.5 299.9 547.5 299.9 548.5 299.8 549.6 299.7 550.6 299.7 551.6 299.6 552.7 299.6 553.7 299.5 554.7 299.5 555.8 299.4 556.8 299.4 557.8 299.3 558.9 299.3 559.9 299.2 561 299.2 562 299.2 563 299.2 564.1 299.2 565.1 299.2 566.1 299.2 566.1 343.6 565.1 343.7 564.1 343.8 563 343.8 562 343.9 561 343.9 559.9 343.9 558.9 343.9 557.8 343.9 556.8 344 555.8 344 554.7 344 553.7 344 552.7 344 551.6 344.1 550.6 344.1 549.6 344.1 548.5 344.1 547.5 344.1 546.5 344.1 545.4 344.1 544.4 344.2 543.4 344.2 542.3 344.2 541.3 344.2 540.2 344.2 539.2 344.2 538.2 344.2 537.1 344.2 536.1 344.3 535.1 344.3 534 344.3 533 344.3 532 344.3 530.9 344.4 529.9 344.4 528.9 344.4 527.8 344.4 526.8 344.5 525.8 344.5 524.7 344.5 523.7 344.6 522.7 344.6 521.6 344.7 520.6 344.8 519.5 344.9 518.5 345 517.5 345.1 516.4 345.2 515.4 345.3 514.4 345.5 513.3 345.6 512.3 345.7 511.3 345.9 510.2 346 509.2 346.2 508.2 346.3 507.1 346.5 506.1 346.6 505.1 346.7 504 346.9 503 347 502 347.2 500.9 347.4 499.9 347.6 498.8 347.7 497.8 347.9 496.8 348.1 495.7 348.3 494.7 348.5 493.7 348.7 492.6 348.8 491.6 349 490.6 349.2 489.5 349.4 488.5 349.6 487.5 349.7 486.4 349.9 485.4 350.1 484.4 350.2 483.3 350.3 482.3 350.5 481.2 350.6 480.2 350.7 479.2 350.8 478.1 351 477.1 351.1 476.1 351.2 475 351.4 474 351.5 473 351.7 471.9 351.9 470.9 352.1 469.9 352.4 468.8 352.7 467.8 353.1 466.8 353.5 465.7 353.9 464.7 354.4 463.7 354.9 462.9 355.4 462.5 355.6 462.2 355.9 461.8 356.2 461.4 356.4 461 356.7 460.7 357.1 460.3 357.4 459.9 357.7 459.6 358.1 459.2 358.5 458.8 358.9 458.4 359.4 458.1 359.9 457.7 360.4 457.3 361 457 361.7 456.6 362.4 456.2 363.1 455.8 363.9 455.5 364.8 455.1 365.8 454.7 367 454.4 368.3 454 369.9 453.6 371.7 453.2 373.7 452.9 375.9" fill="none" stroke="#2b69be" stroke-width="1.9" stroke-linejoin="round" stroke-linecap="round"/>
<path d="M566.1 344.5 566.5 340.9 566.9 337.4 567.2 334.2 567.6 331.4 568 329 568.4 327.2 568.7 325.7 569.1 324.3 569.5 323 569.8 321.9 570.2 320.9 570.6 320 571 319.2 571.3 318.5 571.7 317.9 572.1 317.3 572.4 316.8 572.8 316.3 573.2 315.8 573.6 315.4 573.9 314.9 574.3 314.6 574.7 314.2 575.1 313.9 575.4 313.6 575.8 313.3 576.2 313.1 576.9 312.7 577.7 312.3 578.6 311.9 579.4 311.6 580.2 311.4 581 311.2 581.8 311.1 582.6 311 583.5 310.9 584.3 310.8 585.1 310.7 585.9 310.6 586.7 310.6 587.6 310.5 588.4 310.4 589.2 310.4 590 310.3 590.8 310.3 591.7 310.2 592.5 310.2 593.3 310.1 594.1 310.1 594.9 310 595.8 310 596.6 309.9 597.4 309.8 598.2 309.8 599 309.7 599.9 309.6 600.7 309.5 601.5 309.4 602.3 309.3 603.1 309.2 603.9 309.1 604.8 309 605.6 308.9 606.4 308.8 607.2 308.6 608 308.5 608.9 308.4 609.7 308.3 610.5 308.2 611.3 308 612.1 307.9 613 307.7 613.8 307.6 614.6 307.4 615.4 307.2 616.2 307 617.1 306.8 617.9 306.6 618.7 306.3 619.5 306.1 620.3 305.9 621.2 305.6 622 305.4 622.8 305.1 623.6 304.9 624.4 304.6 625.2 304.3 626.1 304 626.9 303.7 627.7 303.3 628.5 302.9 629.3 302.5 630.2 302.1 631 301.4 631.8 300.6 632.6 299.7 633.4 298.6 634.3 297.5 635.1 296.2 635.9 295 636.7 293.6 637.5 292.3 638.4 290.9 639.2 289.2 640 287.4 640.8 285.8 641.6 284.5 640.8 328.3 640 333 639.2 334.5 638.4 335.1 637.5 335.5 636.7 335.9 635.9 336.2 635.1 336.4 634.3 336.6 633.4 336.8 632.6 337.1 631.8 337.3 631 337.5 630.2 337.7 629.3 337.9 628.5 338.1 627.7 338.3 626.9 338.5 626.1 338.6 625.2 338.8 624.4 338.9 623.6 339.1 622.8 339.2 622 339.4 621.2 339.5 620.3 339.6 619.5 339.8 618.7 339.9 617.9 340 617.1 340.2 616.2 340.3 615.4 340.4 614.6 340.6 613.8 340.7 613 340.8 612.1 340.9 611.3 341 610.5 341.2 609.7 341.3 608.9 341.4 608 341.5 607.2 341.6 606.4 341.7 605.6 341.8 604.8 341.8 603.9 341.9 603.1 342 602.3 342.1 601.5 342.1 600.7 342.2 599.9 342.2 599 342.2 598.2 342.3 597.4 342.3 596.6 342.3 595.8 342.4 594.9 342.4 594.1 342.4 593.3 342.4 592.5 342.5 591.7 342.5 590.8 342.5 590 342.5 589.2 342.5 588.4 342.5 587.6 342.5 586.7 342.6 585.9 342.6 585.1 342.6 584.3 342.6 583.5 342.6 582.6 342.7 581.8 342.7 581 342.7 580.2 342.7 579.4 342.8 578.6 342.8 577.7 342.8 576.9 342.9 576.2 342.9 575.4 343 574.7 343 573.9 343.1 573.2 343.2 572.4 343.3 571.7 343.5 571 343.6 570.2 343.7 569.5 343.9 568.7 344 568 344.2 567.2 344.3 566.5 344.5 566.1 344.5" fill="none" stroke="#2b69be" stroke-width="1.9" stroke-linejoin="round" stroke-linecap="round"/>
<path d="M452.9 394.3 453.1 379 453.4 366.4 453.7 355 454 348.8 454.2 346.9 454.5 345.4 454.8 344.2 455.1 343.4 455.4 342.7 455.6 342 455.9 341.4 456.2 340.7 456.5 340.1 456.7 339.5 457 338.9 457.3 338.4 457.6 337.9 457.8 337.5 458.1 337 458.4 336.5 458.7 336 459 335.5 459.2 334.9 459.5 334.3 459.8 333.6 460.1 332.9 460.3 332.1 460.6 331.3 460.9 330.5 461.2 329.7 461.4 329 461.7 328.3 462 327.6 462.3 327 462.5 326.3 462.8 325.7 463.1 325.1 463.4 324.5 463.7 323.9 464.4 322.6 465.1 321.7 465.8 320.9 466.5 320.2 467.2 319.5 467.9 319 468.7 318.4 469.4 317.9 470.1 317.4 470.8 317 471.5 316.5 472.2 316.1 472.9 315.7 473.7 315.3 474.4 314.9 475.1 314.5 475.8 314.1 476.5 313.8 477.2 313.4 477.9 313.1 478.7 312.8 479.4 312.4 480.1 312.1 480.8 311.8 481.5 311.4 482.2 311.1 483 310.8 483.7 310.4 484.4 310.1 485.1 309.7 485.8 309.4 486.5 309 487.2 308.7 488 308.3 488.7 308 489.4 307.6 490.1 307.3 490.8 306.9 491.5 306.6 492.2 306.3 493 305.9 493.7 305.6 494.4 305.3 495.1 304.9 495.8 304.6 496.5 304.3 497.2 304 498 303.7 498.7 303.4 499.4 303.1 500.1 302.8 500.8 302.5 501.5 302.2 502.3 301.9 503 301.7 503.7 301.4 504.4 301.2 505.1 300.9 505.8 300.7 506.5 300.5 507.3 300.2 508 300 508.7 299.8 509.4 299.6 510.1 299.5 510.8 299.3 511.5 299.1 512.3 299 513 298.8 513.7 298.7 514.4 298.5 515.1 298.4 515.8 298.2 516.5 298.1 517.3 298 518 297.8 518.7 297.7 519.4 297.5 520.1 297.4 520.8 297.3 521.6 297.1 522.3 297 523 296.8 523.7 296.7 524.4 296.5 525.1 296.4 525.8 296.2 526.6 296 527.3 295.8 528 295.6 528.7 295.4 529.4 295.1 530.1 294.9 530.8 294.7 531.6 294.5 532.3 294.2 533 294 533.7 293.8 534.4 293.7 535.1 293.5 535.8 293.3 536.6 293.2 537.3 293.1 538 293 538.7 292.9 539.4 292.9 540.1 292.9 540.8 292.9 541.6 293 542.3 293 543 293.1 543.7 293.1 544.4 293.2 545.1 293.3 545.9 293.4 546.6 293.5 547.3 293.6 548 293.7 548.7 293.8 549.4 293.9 550.1 294 550.9 294.1 551.6 294.2 552.3 294.3 553 294.3 553.7 294.4 554.4 294.5 555.1 294.6 555.9 294.6 556.6 294.7 557.3 294.8 558 294.8 558.7 294.9 559.4 295 560.1 295 560.9 295.1 561.6 295.2 562.3 295.2 563 295.3 563.7 295.3 564.4 295.4 565.2 295.4 565.9 295.5 566.6 295.5 567.3 295.5 568 295.6 568.7 295.6 569.4 295.6 570.2 295.6 570.9 295.6 571.6 295.6 572.3 295.6 573 295.6 573.7 295.6 574.4 295.5 575.2 295.5 575.9 295.5 576.6 295.5 577.3 295.4 578 295.4 578.7 295.4 579.4 295.3 580.2 295.3 580.9 295.3 581.6 295.2 582.3 295.1 583 295 583.7 294.9 584.5 294.7 585.2 294.4 585.9 294.2 586.6 293.9 587.3 293.5 588 293.2 588.7 292.8 589.5 292.4 590.2 291.9 590.9 291.5 591.6 291 592.3 290.5 593 290 593.7 289.4 594.5 288.9 595.2 288.3 595.9 287.7 596.6 287.1 597.3 286.5 598 285.9 598.7 285.3 599.5 284.7 600.2 284 600.9 283.4 601.6 282.8 602.3 282.2 603 281.5 603.8 280.9 604.5 280.3 605.2 279.7 605.9 279.1 606.6 278.5 607.3 277.9 608 277.4 608.8 276.8 609.5 276.1 610.2 275.4 610.9 274.6 611.6 273.8 612.3 273 613 272.2 613.8 271.3 614.5 270.4 615.2 269.6 615.9 268.7 616.6 267.7 617.3 266.8 618 266 618.8 265.1 619.5 264.2 620.2 263.4 620.9 262.5 621.6 261.8 622.3 261 623 260.3 623.8 259.6 624.5 259 625.2 258.4 625.9 257.9 626.6 257.5 627.3 257.1 628.1 256.8 628.8 256.6 629.5 256.4 630.2 256.4 630.9 256.5 631.6 257.2 632.3 258.2 633.1 259.5 633.8 260.9 634.5 262.4 635.2 263.9 635.9 265.2 636.6 266.3 637.3 267.1 638.1 267.7 638.8 268.3 639.5 268.8 640.2 269.2 640.9 269.5 641.6 269.8 641.6 332.9 640.9 334.9 640.2 337 639.5 338.6 638.8 339.4 638.1 339.8 637.3 340.2 636.6 340.6 635.9 341 635.2 341.3 634.5 341.6 633.8 341.9 633.1 342.2 632.3 342.4 631.6 342.7 630.9 342.9 630.2 343.1 629.5 343.3 628.8 343.5 628.1 343.7 627.3 343.8 626.6 344 625.9 344.1 625.2 344.2 624.5 344.3 623.8 344.5 623 344.6 622.3 344.7 621.6 344.8 620.9 344.9 620.2 344.9 619.5 345 618.8 345.1 618 345.2 617.3 345.3 616.6 345.4 615.9 345.5 615.2 345.6 614.5 345.6 613.8 345.7 613 345.8 612.3 345.9 611.6 345.9 610.9 346 610.2 346.1 609.5 346.1 608.8 346.2 608 346.3 607.3 346.3 606.6 346.4 605.9 346.4 605.2 346.5 604.5 346.5 603.8 346.6 603 346.6 602.3 346.7 601.6 346.7 600.9 346.8 600.2 346.8 599.5 346.9 598.7 346.9 598 346.9 597.3 347 596.6 347 595.9 347.1 595.2 347.1 594.5 347.2 593.7 347.2 593 347.2 592.3 347.3 591.6 347.3 590.9 347.4 590.2 347.4 589.5 347.5 588.7 347.5 588 347.6 587.3 347.6 586.6 347.7 585.9 347.7 585.2 347.8 584.5 347.8 583.7 347.9 583 347.9 582.3 348 581.6 348.1 580.9 348.1 580.2 348.2 579.4 348.3 578.7 348.3 578 348.4 577.3 348.5 576.6 348.5 575.9 348.6 575.2 348.7 574.4 348.7 573.7 348.8 573 348.9 572.3 349 571.6 349.1 570.9 349.2 570.2 349.3 569.4 349.4 568.7 349.6 568 349.8 567.3 350 566.6 350.3 565.9 350.6 565.2 350.9 564.4 351.2 563.7 351.5 563 351.9 562.3 352.2 561.6 352.6 560.9 353 560.1 353.4 559.4 353.8 558.7 354.2 558 354.6 557.3 355 556.6 355.4 555.9 355.8 555.1 356.2 554.4 356.6 553.7 357 553 357.4 552.3 357.8 551.6 358.2 550.9 358.7 550.1 359.1 549.4 359.6 548.7 360.1 548 360.6 547.3 361 546.6 361.5 545.9 362 545.1 362.5 544.4 363 543.7 363.4 543 363.9 542.3 364.4 541.6 364.8 540.8 365.2 540.1 365.6 539.4 366 538.7 366.4 538 366.8 537.3 367.1 536.6 367.4 535.8 367.7 535.1 367.9 534.4 368.2 533.7 368.5 533 368.8 532.3 369 531.6 369.3 530.8 369.6 530.1 369.8 529.4 370 528.7 370.3 528 370.5 527.3 370.7 526.6 370.8 525.8 371 525.1 371.1 524.4 371.2 523.7 371.2 523 371.2 522.3 371.2 521.6 371.2 520.8 371.2 520.1 371.1 519.4 371.1 518.7 371 518 371 517.3 370.9 516.5 370.8 515.8 370.7 515.1 370.7 514.4 370.6 513.7 370.5 513 370.4 512.3 370.3 511.5 370.2 510.8 370.2 510.1 370.1 509.4 370 508.7 370 508 369.9 507.3 369.9 506.5 369.8 505.8 369.8 505.1 369.8 504.4 369.8 503.7 369.8 503 369.8 502.3 369.8 501.5 369.8 500.8 369.8 500.1 369.8 499.4 369.9 498.7 369.9 498 369.9 497.2 369.9 496.5 369.9 495.8 369.9 495.1 370 494.4 370 493.7 370 493 370 492.2 370.1 491.5 370.1 490.8 370.1 490.1 370.1 489.4 370.2 488.7 370.2 488 370.2 487.2 370.3 486.5 370.3 485.8 370.3 485.1 370.4 484.4 370.4 483.7 370.5 483 370.5 482.2 370.6 481.5 370.6 480.8 370.7 480.1 370.7 479.4 370.8 478.7 370.8 477.9 370.9 477.2 371 476.5 371 475.8 371.1 475.1 371.2 474.4 371.3 473.7 371.4 472.9 371.5 472.2 371.6 471.5 371.7 470.8 371.8 470.1 371.9 469.4 372 468.7 372.2 467.9 372.3 467.2 372.5 466.5 372.7 465.8 373 465.1 373.3 464.4 373.7 463.7 374.2 463.1 374.6 462.5 375 462 375.4 461.4 375.9 460.9 376.4 460.3 376.9 459.8 377.5 459.2 378.1 458.7 378.7 458.4 379.1 458.1 379.5 457.8 380 457.6 380.5 457.3 381.1 457 381.7 456.7 382.4 456.5 383 456.2 383.8 455.9 384.5 455.6 385.3 455.4 386.2 455.1 387 454.8 387.9 454.5 388.8 454.2 389.7 454 390.6 453.7 391.5 453.4 392.4 453.1 393.4 452.9 394.3" fill="none" stroke="#1a4fc0" stroke-width="2.1" stroke-linejoin="round" stroke-linecap="round"/>
</g>
<rect x="425.9" y="237.9" width="242.7" height="179.2" fill="none" stroke="#000" stroke-width="2"/>
<path d="M425.9 417.1L425.9 419.9" stroke="#000" stroke-width="1.6"/>
<path d="M452.9 417.1L452.9 421.4" stroke="#000" stroke-width="1.6"/>
<path d="M479.8 417.1L479.8 419.9" stroke="#000" stroke-width="1.6"/>
<path d="M506.8 417.1L506.8 421.4" stroke="#000" stroke-width="1.6"/>
<path d="M533.8 417.1L533.8 419.9" stroke="#000" stroke-width="1.6"/>
<path d="M560.7 417.1L560.7 421.4" stroke="#000" stroke-width="1.6"/>
<path d="M587.7 417.1L587.7 419.9" stroke="#000" stroke-width="1.6"/>
<path d="M614.7 417.1L614.7 421.4" stroke="#000" stroke-width="1.6"/>
<path d="M641.6 417.1L641.6 419.9" stroke="#000" stroke-width="1.6"/>
<path d="M668.6 417.1L668.6 421.4" stroke="#000" stroke-width="1.6"/>
<path d="M422.1 408.1L425.9 408.1" stroke="#000" stroke-width="1.6"/>
<path d="M423.3 394.7L425.9 394.7" stroke="#000" stroke-width="1.6"/>
<path d="M422.1 381.3L425.9 381.3" stroke="#000" stroke-width="1.6"/>
<path d="M423.3 367.8L425.9 367.8" stroke="#000" stroke-width="1.6"/>
<path d="M422.1 354.4L425.9 354.4" stroke="#000" stroke-width="1.6"/>
<path d="M423.3 340.9L425.9 340.9" stroke="#000" stroke-width="1.6"/>
<path d="M422.1 327.5L425.9 327.5" stroke="#000" stroke-width="1.6"/>
<path d="M423.3 314.1L425.9 314.1" stroke="#000" stroke-width="1.6"/>
<path d="M422.1 300.6L425.9 300.6" stroke="#000" stroke-width="1.6"/>
<path d="M423.3 287.2L425.9 287.2" stroke="#000" stroke-width="1.6"/>
<path d="M422.1 273.7L425.9 273.7" stroke="#000" stroke-width="1.6"/>
<path d="M423.3 260.3L425.9 260.3" stroke="#000" stroke-width="1.6"/>
<path d="M422.1 246.9L425.9 246.9" stroke="#000" stroke-width="1.6"/>
<text x="452.9" y="435.6" font-size="15.4" text-anchor="middle">1</text>
<text x="506.8" y="435.6" font-size="15.4" text-anchor="middle">2</text>
<text x="560.7" y="435.6" font-size="15.4" text-anchor="middle">3</text>
<text x="614.7" y="435.6" font-size="15.4" text-anchor="middle">4</text>
<text x="668.6" y="435.6" font-size="15.4" text-anchor="middle">5</text>
<text x="419.8" y="412.1" font-size="15.4" text-anchor="end">-450</text>
<text x="419.8" y="385.3" font-size="15.4" text-anchor="end">-300</text>
<text x="419.8" y="358.4" font-size="15.4" text-anchor="end">-150</text>
<text x="419.8" y="331.5" font-size="15.4" text-anchor="end">0</text>
<text x="419.8" y="304.6" font-size="15.4" text-anchor="end">150</text>
<text x="419.8" y="277.7" font-size="15.4" text-anchor="end">300</text>
<text x="419.8" y="250.9" font-size="15.4" text-anchor="end">450</text>
<path d="M431 250.5L451.2 250.5" stroke="#1a4fc0" stroke-width="2.2"/>
<text x="454.4" y="253.7" font-size="11.5" text-anchor="start" textLength="42.5" lengthAdjust="spacingAndGlyphs">5 mV s<tspan dy="-6.2" font-size="6.5">-1</tspan></text>
<path d="M504.5 250.5L524.7 250.5" stroke="#2b69be" stroke-width="2.2"/>
<text x="527.9" y="253.7" font-size="11.5" text-anchor="start" textLength="49.5" lengthAdjust="spacingAndGlyphs">10 mV s<tspan dy="-6.2" font-size="6.5">-1</tspan></text>
<path d="M431 268.1L451.2 268.1" stroke="#1a96d7" stroke-width="2.2"/>
<text x="454.4" y="271.3" font-size="11.5" text-anchor="start" textLength="49.5" lengthAdjust="spacingAndGlyphs">20 mV s<tspan dy="-6.2" font-size="6.5">-1</tspan></text>
<path d="M506.2 268.1L526.4 268.1" stroke="#19a2d9" stroke-width="2.2"/>
<text x="529.6" y="271.3" font-size="11.5" text-anchor="start" textLength="49.5" lengthAdjust="spacingAndGlyphs">40 mV s<tspan dy="-6.2" font-size="6.5">-1</tspan></text>
<path d="M431 285L451.2 285" stroke="#7fc3ea" stroke-width="2.2"/>
<text x="454.4" y="288.2" font-size="11.5" text-anchor="start" textLength="49.5" lengthAdjust="spacingAndGlyphs">70 mV s<tspan dy="-6.2" font-size="6.5">-1</tspan></text>
<path d="M505.7 285L525.9 285" stroke="#8fd9ea" stroke-width="2.2"/>
<text x="529.1" y="288.2" font-size="11.5" text-anchor="start" textLength="56" lengthAdjust="spacingAndGlyphs">100 mV s<tspan dy="-6.2" font-size="6.5">-1</tspan></text>
<text x="542.7" y="458.7" font-size="15.3" text-anchor="middle" textLength="148" lengthAdjust="spacingAndGlyphs">Voltage (V. vs. Li<tspan dy="-4.8" font-size="9">+</tspan><tspan dy="4.8">/Li)</tspan></text>
<text transform="translate(385.9,330.2) rotate(-90)" font-size="15.3" text-anchor="middle" textLength="194" lengthAdjust="spacingAndGlyphs">Specific capacitance (F g<tspan dy="-4.8" font-size="9">-1</tspan><tspan dy="4.8">)</tspan></text>
<text x="346.6" y="250.7" font-size="26" text-anchor="start">d</text>
<g clip-path="url(#clipE)">
<path d="M81.8 508.6 84.6 509.5 87.4 510.4 90.2 511.1 92.9 511.9 95.7 512.5 98.5 513.1 101.3 513.7 104.1 514.1 106.9 514.6 109.7 515 112.4 515.3 115.2 515.7 118 516 120.8 516.3 123.6 516.6 126.4 517 129.2 517.3 131.9 517.6 134.7 517.9 137.5 518.2 140.3 518.5 143.1 518.8 145.9 519.1 148.7 519.4 151.4 519.6 154.2 519.9 157 520.2 159.8 520.4 162.6 520.7 165.4 520.9 168.2 521.1 170.9 521.4 173.7 521.6 176.5 521.8 179.3 522.1 182.1 522.3 184.9 522.5 187.7 522.7 190.5 522.9 193.2 523.1 196 523.3 198.8 523.5 201.6 523.7 204.4 523.9 207.2 524.1 210 524.3 212.7 524.4 215.5 524.6 218.3 524.8 221.1 524.9 223.9 525.1 226.7 525.3 229.5 525.4 232.2 525.6 235 525.7 237.8 525.9 240.6 526 243.4 526.2 246.2 526.3 249 526.5 251.7 526.6 254.5 526.8 257.3 526.9 260.1 527 262.9 527.2 265.7 527.3 268.5 527.4 271.2 527.6 274 527.7 276.8 527.8 279.6 527.9 282.4 528.1 285.2 528.2 288 528.3 290.7 528.4 293.5 528.5 296.3 528.6 299.1 528.7 301.9 528.8 304.7 528.9 307.5 529 310.2 529.1 313 529.2 315.8 529.3 318.6 529.4 321.4 529.5 324.2 529.6 327 529.7 329.7 529.8 332.5 529.9 335.3 530 338.1 530.1 340.9 530.2 343.7 530.3 346.5 530.4 349.2 530.5 352 530.6 354.8 530.7 357.6 530.8 360.4 530.9 363.2 531 366 531.1 368.8 531.2 371.5 531.3 374.3 531.4 377.1 531.5 379.9 531.6 382.7 531.7 385.5 531.8 388.3 531.9 391 531.9 393.8 532 396.6 532.1 399.4 532.2 402.2 532.3 405 532.4 407.8 532.5 410.5 532.6 413.3 532.7 416.1 532.8 418.9 532.8 421.7 532.9 424.5 533 427.3 533.1 430 533.2 432.8 533.3 435.6 533.4 438.4 533.4 441.2 533.5 444 533.6 446.8 533.7 449.5 533.7 452.3 533.8 455.1 533.9 457.9 534 460.7 534 463.5 534.1 466.3 534.2 469 534.2 471.8 534.3 474.6 534.4 477.4 534.5 480.2 534.5 483 534.6 485.8 534.7 488.5 534.8 491.3 534.8 494.1 534.9 496.9 535 499.7 535.1 502.5 535.1 505.3 535.2 508 535.3 510.8 535.4 513.6 535.5 516.4 535.6 519.2 535.6 522 535.7 524.8 535.8 527.5 535.9 530.3 536 533.1 536 535.9 536.1 538.7 536.2 541.5 536.3 544.3 536.4 547.1 536.4 549.8 536.5 552.6 536.6 555.4 536.7 558.2 536.7 561 536.8 563.8 536.9 566.6 537 569.3 537.1 572.1 537.1 574.9 537.2 577.7 537.3 580.5 537.4 583.3 537.4 586.1 537.5 588.8 537.6 591.6 537.7 594.4 537.7 597.2 537.8 600 537.9 602.8 538 605.6 538 608.3 538.1 611.1 538.2 613.9 538.3 616.7 538.3 619.5 538.4 622.3 538.5 625.1 538.6 627.8 538.6 630.6 538.7 633.4 538.8 636.2 538.8" fill="none" stroke="#1fa6de" stroke-width="4.4" stroke-linejoin="round" stroke-linecap="round" stroke-linecap="butt"/>
</g>
<path d="M81.8 569.2L636.2 569.2" stroke="#079a3c" stroke-width="3.6"/>
<path d="M106.1 514L113.2 514L113.2 534.8L95.9 534.8L95.9 538.4L88.6 531.2L95.9 524L95.9 527.6L106.1 527.6Z" fill="#1aa3dc"/>
<path d="M607.4 568L607.4 547.9L625.3 547.9L625.3 544.6L632.6 551.6L625.3 558.8L625.3 555.2L614.7 555.2L614.7 568Z" fill="#2f9146"/>
<rect x="81.8" y="478.5" width="554.4" height="178.8" fill="none" stroke="#000" stroke-width="2"/>
<path d="M81.8 657.3L81.8 661.6" stroke="#000" stroke-width="1.6"/>
<path d="M137.2 657.3L137.2 660.1" stroke="#000" stroke-width="1.6"/>
<path d="M192.7 657.3L192.7 661.6" stroke="#000" stroke-width="1.6"/>
<path d="M248.1 657.3L248.1 660.1" stroke="#000" stroke-width="1.6"/>
<path d="M303.6 657.3L303.6 661.6" stroke="#000" stroke-width="1.6"/>
<path d="M359 657.3L359 660.1" stroke="#000" stroke-width="1.6"/>
<path d="M414.4 657.3L414.4 661.6" stroke="#000" stroke-width="1.6"/>
<path d="M469.9 657.3L469.9 660.1" stroke="#000" stroke-width="1.6"/>
<path d="M525.3 657.3L525.3 661.6" stroke="#000" stroke-width="1.6"/>
<path d="M580.8 657.3L580.8 660.1" stroke="#000" stroke-width="1.6"/>
<path d="M636.2 657.3L636.2 661.6" stroke="#000" stroke-width="1.6"/>
<path d="M78 657.3L81.8 657.3" stroke="#000" stroke-width="1.6"/>
<path d="M79.2 642.4L81.8 642.4" stroke="#000" stroke-width="1.6"/>
<path d="M78 627.5L81.8 627.5" stroke="#000" stroke-width="1.6"/>
<path d="M79.2 612.6L81.8 612.6" stroke="#000" stroke-width="1.6"/>
<path d="M78 597.7L81.8 597.7" stroke="#000" stroke-width="1.6"/>
<path d="M79.2 582.8L81.8 582.8" stroke="#000" stroke-width="1.6"/>
<path d="M78 567.9L81.8 567.9" stroke="#000" stroke-width="1.6"/>
<path d="M79.2 553L81.8 553" stroke="#000" stroke-width="1.6"/>
<path d="M78 538.1L81.8 538.1" stroke="#000" stroke-width="1.6"/>
<path d="M79.2 523.2L81.8 523.2" stroke="#000" stroke-width="1.6"/>
<path d="M78 508.3L81.8 508.3" stroke="#000" stroke-width="1.6"/>
<path d="M79.2 493.4L81.8 493.4" stroke="#000" stroke-width="1.6"/>
<path d="M78 478.5L81.8 478.5" stroke="#000" stroke-width="1.6"/>
<path d="M636.2 657.3L640.5 657.3" stroke="#000" stroke-width="1.6"/>
<path d="M636.2 634.9L639 634.9" stroke="#000" stroke-width="1.6"/>
<path d="M636.2 612.6L640.5 612.6" stroke="#000" stroke-width="1.6"/>
<path d="M636.2 590.2L639 590.2" stroke="#000" stroke-width="1.6"/>
<path d="M636.2 567.9L640.5 567.9" stroke="#000" stroke-width="1.6"/>
<path d="M636.2 545.5L639 545.5" stroke="#000" stroke-width="1.6"/>
<path d="M636.2 523.2L640.5 523.2" stroke="#000" stroke-width="1.6"/>
<path d="M636.2 500.9L639 500.9" stroke="#000" stroke-width="1.6"/>
<path d="M636.2 478.5L640.5 478.5" stroke="#000" stroke-width="1.6"/>
<text x="81.8" y="674.9" font-size="15.4" text-anchor="middle">0</text>
<text x="192.7" y="674.9" font-size="15.4" text-anchor="middle">1000</text>
<text x="303.6" y="674.9" font-size="15.4" text-anchor="middle">2000</text>
<text x="414.4" y="674.9" font-size="15.4" text-anchor="middle">3000</text>
<text x="525.3" y="674.9" font-size="15.4" text-anchor="middle">4000</text>
<text x="636.2" y="674.9" font-size="15.4" text-anchor="middle">5000</text>
<text x="75.8" y="661.1" font-size="15.4" text-anchor="end">0</text>
<text x="75.8" y="631.3" font-size="15.4" text-anchor="end">20</text>
<text x="75.8" y="601.5" font-size="15.4" text-anchor="end">40</text>
<text x="75.8" y="571.7" font-size="15.4" text-anchor="end">60</text>
<text x="75.8" y="541.9" font-size="15.4" text-anchor="end">80</text>
<text x="75.8" y="512.1" font-size="15.4" text-anchor="end">100</text>
<text x="75.8" y="482.3" font-size="15.4" text-anchor="end">120</text>
<text x="642.1" y="661.1" font-size="15.4" text-anchor="start">50</text>
<text x="642.1" y="616.4" font-size="15.4" text-anchor="start">75</text>
<text x="642.1" y="571.7" font-size="15.4" text-anchor="start">100</text>
<text x="642.1" y="527" font-size="15.4" text-anchor="start">125</text>
<text x="642.1" y="482.3" font-size="15.4" text-anchor="start">150</text>
<text x="361.8" y="502.7" font-size="16.5" text-anchor="middle" textLength="143.5" lengthAdjust="spacingAndGlyphs">Scan rate : 2 A g<tspan dy="-6" font-size="10">-1</tspan></text>
<text x="360.9" y="698.2" font-size="15.3" text-anchor="middle" textLength="125" lengthAdjust="spacingAndGlyphs">Cycle number (n)</text>
<text transform="translate(40.2,563.3) rotate(-90)" font-size="15.3" text-anchor="middle" textLength="163.8" lengthAdjust="spacingAndGlyphs">Capacity Retention (%)</text>
<text transform="translate(681,561.2) rotate(-90)" font-size="15.3" text-anchor="middle" textLength="180.6" lengthAdjust="spacingAndGlyphs">Coulombic Efficiency (%)</text>
<text x="-0.3" y="488.7" font-size="26" text-anchor="start">e</text>
</svg>
</body></html>
